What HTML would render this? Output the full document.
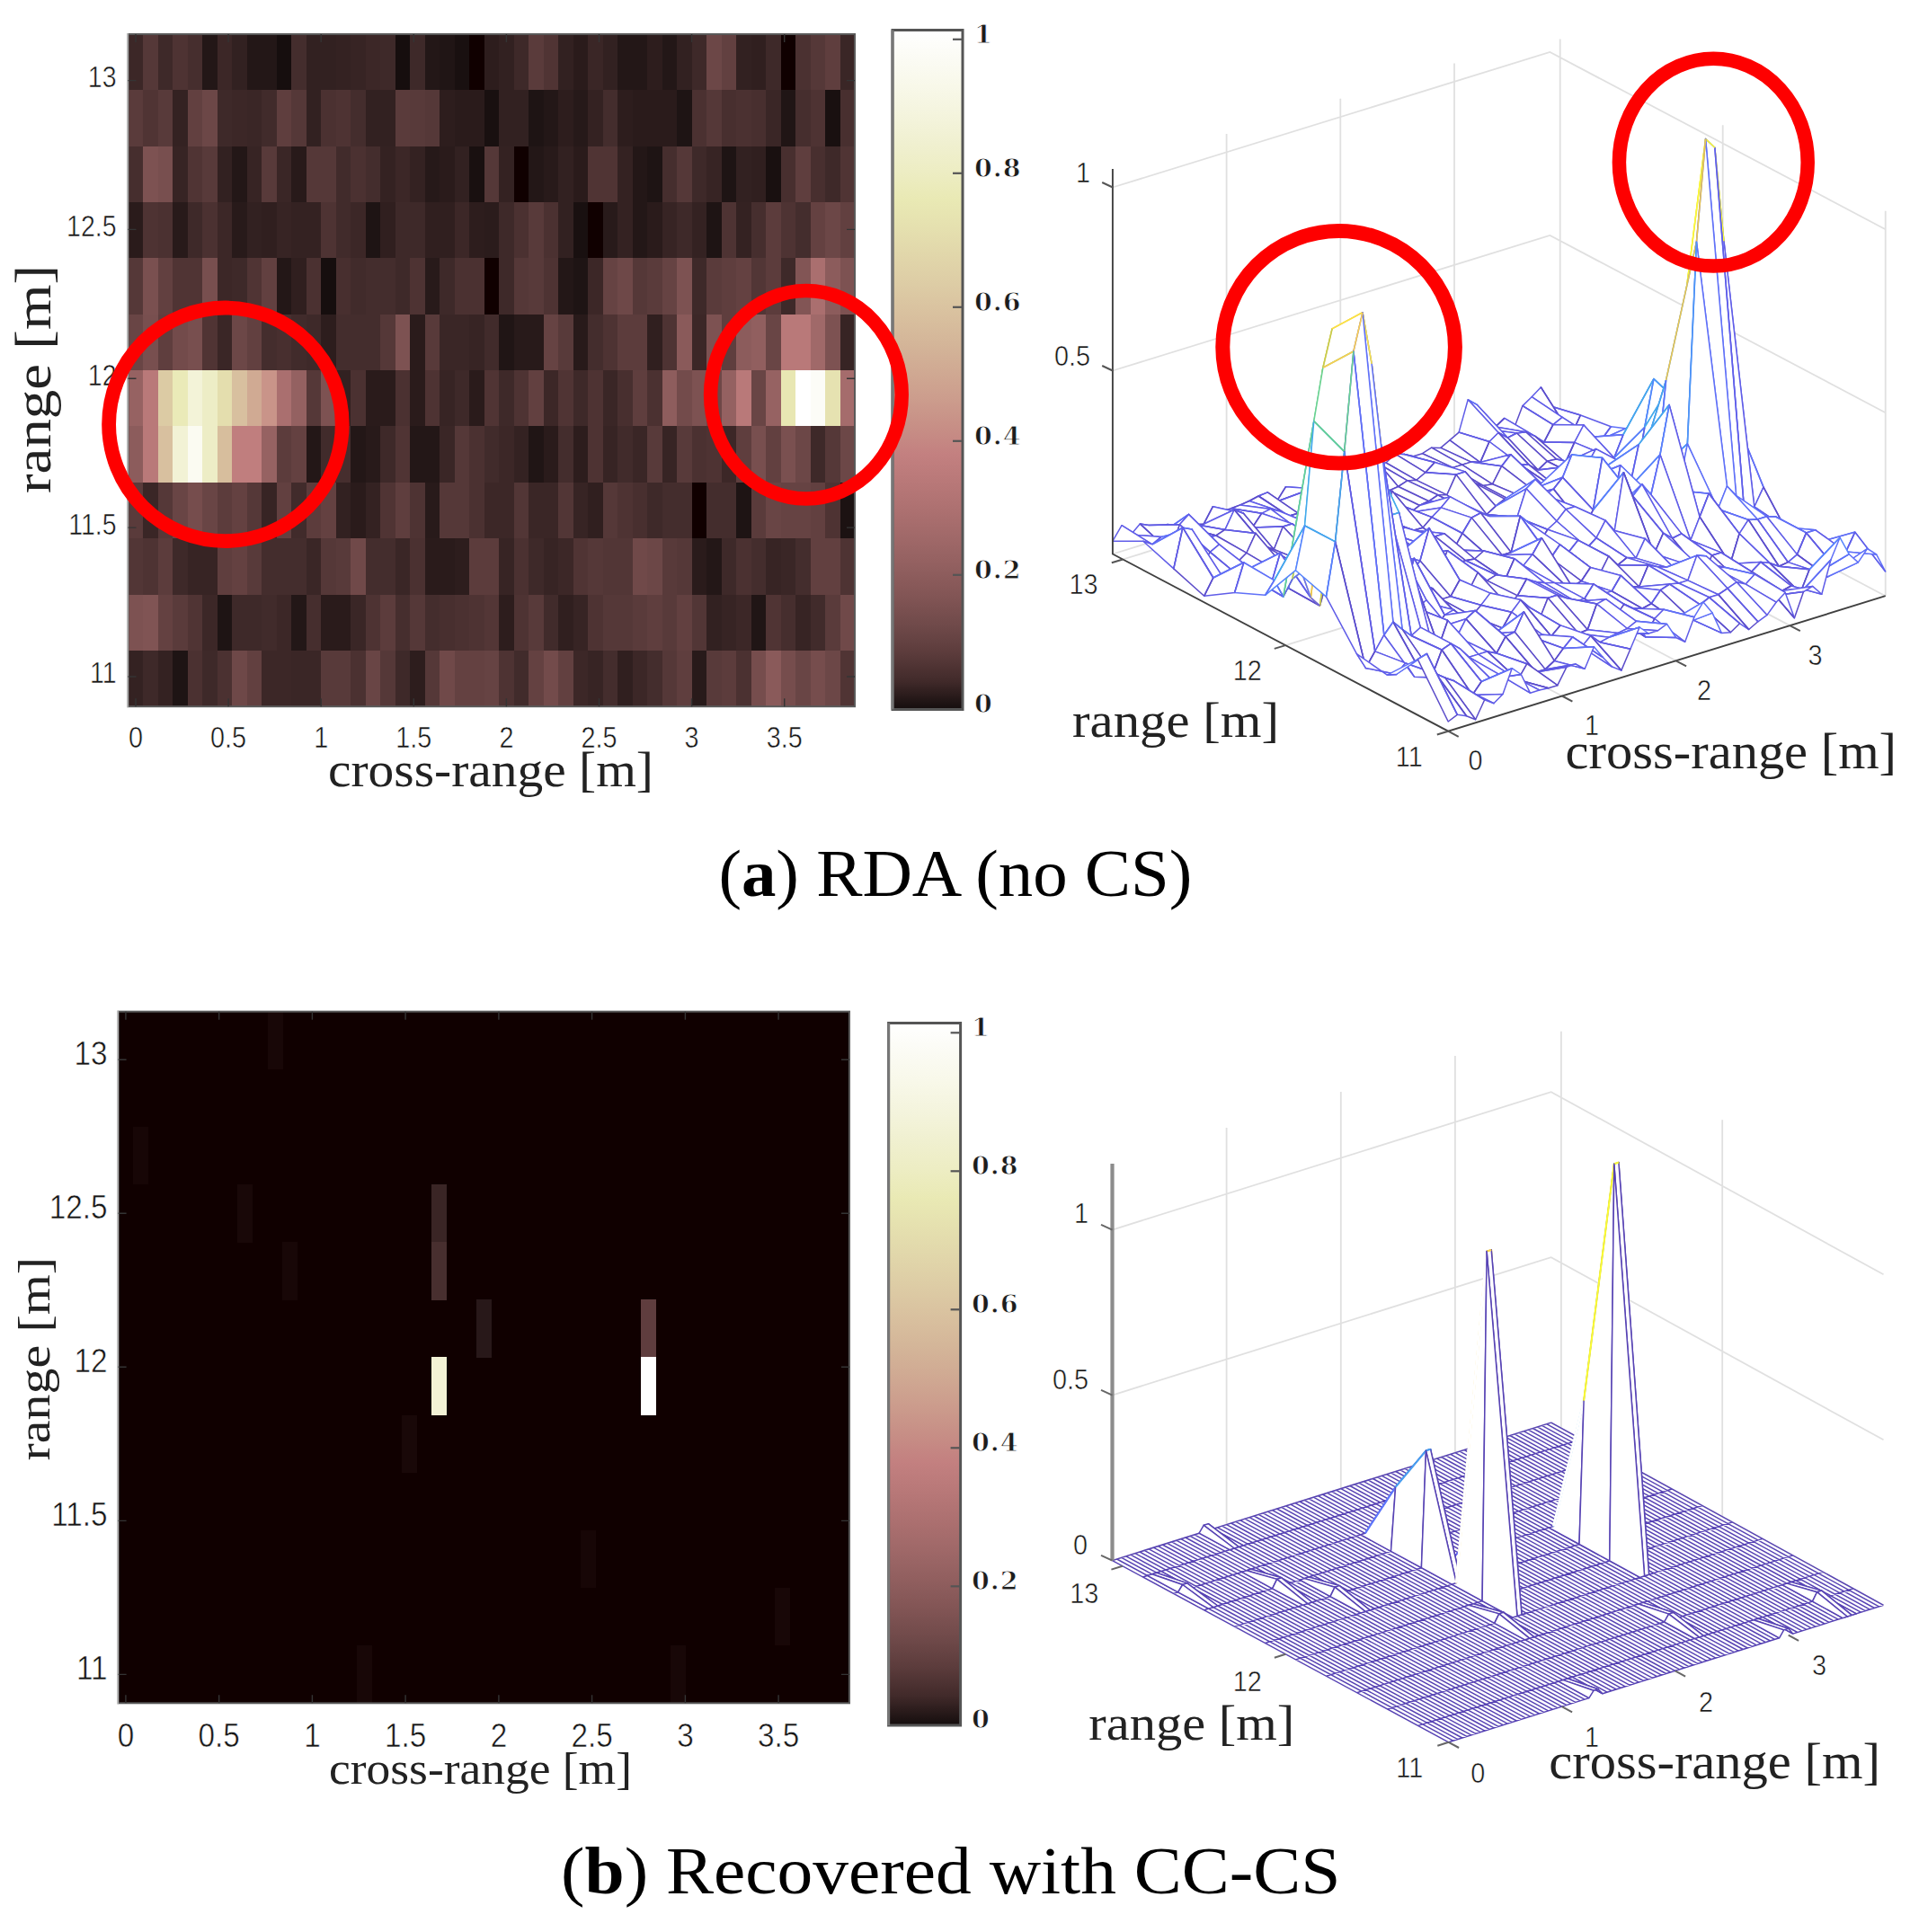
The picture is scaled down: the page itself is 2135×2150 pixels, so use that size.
<!DOCTYPE html>
<html><head><meta charset="utf-8"><title>RDA vs CC-CS</title>
<style>html,body{margin:0;padding:0;background:#fff}svg{display:block}.tk{font-family:"Liberation Sans",sans-serif;fill:#161616;stroke:#fff;stroke-width:.55px}.sf{font-family:"Liberation Serif",serif;fill:#222}.cb{font-family:"DejaVu Serif",serif;font-weight:bold;font-size:28.5px;letter-spacing:1px;fill:#1c1c1c;stroke:#fff;stroke-width:.9px}.m{fill:#fff;stroke-width:1.5;stroke-linejoin:round}.g{stroke:#e0e0e0;stroke-width:1.8;fill:none}</style></head><body>
<svg width="2135" height="2150" viewBox="0 0 2135 2150">
<defs>
<linearGradient id="pg1" x1="0" y1="1" x2="0" y2="0">
<stop offset="0.0000" stop-color="#140d0d"/>
<stop offset="0.0417" stop-color="#412a2a"/>
<stop offset="0.0833" stop-color="#5c3c3c"/>
<stop offset="0.1250" stop-color="#704a4a"/>
<stop offset="0.1667" stop-color="#825555"/>
<stop offset="0.2083" stop-color="#915f5f"/>
<stop offset="0.2500" stop-color="#9f6868"/>
<stop offset="0.2917" stop-color="#ac7070"/>
<stop offset="0.3333" stop-color="#b87878"/>
<stop offset="0.3750" stop-color="#c38080"/>
<stop offset="0.4167" stop-color="#c78f86"/>
<stop offset="0.4583" stop-color="#cc9d8d"/>
<stop offset="0.5000" stop-color="#d0aa93"/>
<stop offset="0.5417" stop-color="#d4b699"/>
<stop offset="0.5833" stop-color="#d9c19f"/>
<stop offset="0.6250" stop-color="#ddcca5"/>
<stop offset="0.6667" stop-color="#e1d6aa"/>
<stop offset="0.7083" stop-color="#e5e0af"/>
<stop offset="0.7500" stop-color="#e9e9b4"/>
<stop offset="0.7917" stop-color="#ededc3"/>
<stop offset="0.8333" stop-color="#f0f0d0"/>
<stop offset="0.8750" stop-color="#f4f4dd"/>
<stop offset="0.9167" stop-color="#f8f8e9"/>
<stop offset="0.9583" stop-color="#fbfbf4"/>
<stop offset="1.0000" stop-color="#ffffff"/>
</linearGradient>
<linearGradient id="pg2" x1="0" y1="1" x2="0" y2="0">
<stop offset="0.0000" stop-color="#140d0d"/>
<stop offset="0.0417" stop-color="#412a2a"/>
<stop offset="0.0833" stop-color="#5c3c3c"/>
<stop offset="0.1250" stop-color="#704a4a"/>
<stop offset="0.1667" stop-color="#825555"/>
<stop offset="0.2083" stop-color="#915f5f"/>
<stop offset="0.2500" stop-color="#9f6868"/>
<stop offset="0.2917" stop-color="#ac7070"/>
<stop offset="0.3333" stop-color="#b87878"/>
<stop offset="0.3750" stop-color="#c38080"/>
<stop offset="0.4167" stop-color="#c78f86"/>
<stop offset="0.4583" stop-color="#cc9d8d"/>
<stop offset="0.5000" stop-color="#d0aa93"/>
<stop offset="0.5417" stop-color="#d4b699"/>
<stop offset="0.5833" stop-color="#d9c19f"/>
<stop offset="0.6250" stop-color="#ddcca5"/>
<stop offset="0.6667" stop-color="#e1d6aa"/>
<stop offset="0.7083" stop-color="#e5e0af"/>
<stop offset="0.7500" stop-color="#e9e9b4"/>
<stop offset="0.7917" stop-color="#ededc3"/>
<stop offset="0.8333" stop-color="#f0f0d0"/>
<stop offset="0.8750" stop-color="#f4f4dd"/>
<stop offset="0.9167" stop-color="#f8f8e9"/>
<stop offset="0.9583" stop-color="#fbfbf4"/>
<stop offset="1.0000" stop-color="#ffffff"/>
</linearGradient>
</defs>
<rect width="2135" height="2150" fill="#fff"/>
<g shape-rendering="crispEdges">
<rect x="142.50" y="38.00" width="16.80" height="62.65" fill="#3c2727"/>
<rect x="159.00" y="38.00" width="16.80" height="62.65" fill="#553838"/>
<rect x="175.50" y="38.00" width="16.80" height="62.65" fill="#3e2929"/>
<rect x="192.00" y="38.00" width="16.80" height="62.65" fill="#4e3333"/>
<rect x="208.50" y="38.00" width="16.80" height="62.65" fill="#462e2e"/>
<rect x="225.00" y="38.00" width="16.80" height="62.65" fill="#231717"/>
<rect x="241.50" y="38.00" width="16.80" height="62.65" fill="#3c2727"/>
<rect x="258.00" y="38.00" width="16.80" height="62.65" fill="#322121"/>
<rect x="274.50" y="38.00" width="16.80" height="62.65" fill="#231717"/>
<rect x="291.00" y="38.00" width="16.80" height="62.65" fill="#231717"/>
<rect x="307.50" y="38.00" width="16.80" height="62.65" fill="#160e0e"/>
<rect x="324.00" y="38.00" width="16.80" height="62.65" fill="#442d2d"/>
<rect x="340.50" y="38.00" width="16.80" height="62.65" fill="#322121"/>
<rect x="357.00" y="38.00" width="16.80" height="62.65" fill="#322121"/>
<rect x="373.50" y="38.00" width="16.80" height="62.65" fill="#342222"/>
<rect x="390.00" y="38.00" width="16.80" height="62.65" fill="#372424"/>
<rect x="406.50" y="38.00" width="16.80" height="62.65" fill="#3c2727"/>
<rect x="423.00" y="38.00" width="16.80" height="62.65" fill="#3e2929"/>
<rect x="439.50" y="38.00" width="16.80" height="62.65" fill="#160e0e"/>
<rect x="456.00" y="38.00" width="16.80" height="62.65" fill="#3e2929"/>
<rect x="472.50" y="38.00" width="16.80" height="62.65" fill="#231717"/>
<rect x="489.00" y="38.00" width="16.80" height="62.65" fill="#201515"/>
<rect x="505.50" y="38.00" width="16.80" height="62.65" fill="#191010"/>
<rect x="522.00" y="38.00" width="16.80" height="62.65" fill="#100000"/>
<rect x="538.50" y="38.00" width="16.80" height="62.65" fill="#2d1d1d"/>
<rect x="555.00" y="38.00" width="16.80" height="62.65" fill="#322121"/>
<rect x="571.50" y="38.00" width="16.80" height="62.65" fill="#3e2929"/>
<rect x="588.00" y="38.00" width="16.80" height="62.65" fill="#5a3b3b"/>
<rect x="604.50" y="38.00" width="16.80" height="62.65" fill="#503434"/>
<rect x="621.00" y="38.00" width="16.80" height="62.65" fill="#322121"/>
<rect x="637.50" y="38.00" width="16.80" height="62.65" fill="#2a1b1b"/>
<rect x="654.00" y="38.00" width="16.80" height="62.65" fill="#3a2626"/>
<rect x="670.50" y="38.00" width="16.80" height="62.65" fill="#322121"/>
<rect x="687.00" y="38.00" width="16.80" height="62.65" fill="#231717"/>
<rect x="703.50" y="38.00" width="16.80" height="62.65" fill="#231717"/>
<rect x="720.00" y="38.00" width="16.80" height="62.65" fill="#2d1d1d"/>
<rect x="736.50" y="38.00" width="16.80" height="62.65" fill="#231717"/>
<rect x="753.00" y="38.00" width="16.80" height="62.65" fill="#322121"/>
<rect x="769.50" y="38.00" width="16.80" height="62.65" fill="#3e2929"/>
<rect x="786.00" y="38.00" width="16.80" height="62.65" fill="#6c4747"/>
<rect x="802.50" y="38.00" width="16.80" height="62.65" fill="#624040"/>
<rect x="819.00" y="38.00" width="16.80" height="62.65" fill="#322121"/>
<rect x="835.50" y="38.00" width="16.80" height="62.65" fill="#301f1f"/>
<rect x="852.00" y="38.00" width="16.80" height="62.65" fill="#3e2929"/>
<rect x="868.50" y="38.00" width="16.80" height="62.65" fill="#100000"/>
<rect x="885.00" y="38.00" width="16.80" height="62.65" fill="#4b3131"/>
<rect x="901.50" y="38.00" width="16.80" height="62.65" fill="#553838"/>
<rect x="918.00" y="38.00" width="16.80" height="62.65" fill="#5f3e3e"/>
<rect x="934.50" y="38.00" width="16.80" height="62.65" fill="#3a2626"/>
<rect x="142.50" y="100.35" width="16.80" height="62.65" fill="#5a3b3b"/>
<rect x="159.00" y="100.35" width="16.80" height="62.65" fill="#503434"/>
<rect x="175.50" y="100.35" width="16.80" height="62.65" fill="#583a3a"/>
<rect x="192.00" y="100.35" width="16.80" height="62.65" fill="#342222"/>
<rect x="208.50" y="100.35" width="16.80" height="62.65" fill="#624040"/>
<rect x="225.00" y="100.35" width="16.80" height="62.65" fill="#6c4747"/>
<rect x="241.50" y="100.35" width="16.80" height="62.65" fill="#3e2929"/>
<rect x="258.00" y="100.35" width="16.80" height="62.65" fill="#3c2727"/>
<rect x="274.50" y="100.35" width="16.80" height="62.65" fill="#3a2626"/>
<rect x="291.00" y="100.35" width="16.80" height="62.65" fill="#412b2b"/>
<rect x="307.50" y="100.35" width="16.80" height="62.65" fill="#5f3e3e"/>
<rect x="324.00" y="100.35" width="16.80" height="62.65" fill="#553838"/>
<rect x="340.50" y="100.35" width="16.80" height="62.65" fill="#322121"/>
<rect x="357.00" y="100.35" width="16.80" height="62.65" fill="#4b3131"/>
<rect x="373.50" y="100.35" width="16.80" height="62.65" fill="#4e3333"/>
<rect x="390.00" y="100.35" width="16.80" height="62.65" fill="#442d2d"/>
<rect x="406.50" y="100.35" width="16.80" height="62.65" fill="#322121"/>
<rect x="423.00" y="100.35" width="16.80" height="62.65" fill="#322121"/>
<rect x="439.50" y="100.35" width="16.80" height="62.65" fill="#5a3b3b"/>
<rect x="456.00" y="100.35" width="16.80" height="62.65" fill="#583a3a"/>
<rect x="472.50" y="100.35" width="16.80" height="62.65" fill="#553838"/>
<rect x="489.00" y="100.35" width="16.80" height="62.65" fill="#2d1d1d"/>
<rect x="505.50" y="100.35" width="16.80" height="62.65" fill="#2a1b1b"/>
<rect x="522.00" y="100.35" width="16.80" height="62.65" fill="#2a1b1b"/>
<rect x="538.50" y="100.35" width="16.80" height="62.65" fill="#191010"/>
<rect x="555.00" y="100.35" width="16.80" height="62.65" fill="#322121"/>
<rect x="571.50" y="100.35" width="16.80" height="62.65" fill="#322121"/>
<rect x="588.00" y="100.35" width="16.80" height="62.65" fill="#1e1414"/>
<rect x="604.50" y="100.35" width="16.80" height="62.65" fill="#231717"/>
<rect x="621.00" y="100.35" width="16.80" height="62.65" fill="#2d1d1d"/>
<rect x="637.50" y="100.35" width="16.80" height="62.65" fill="#261919"/>
<rect x="654.00" y="100.35" width="16.80" height="62.65" fill="#342222"/>
<rect x="670.50" y="100.35" width="16.80" height="62.65" fill="#442d2d"/>
<rect x="687.00" y="100.35" width="16.80" height="62.65" fill="#2d1d1d"/>
<rect x="703.50" y="100.35" width="16.80" height="62.65" fill="#2a1b1b"/>
<rect x="720.00" y="100.35" width="16.80" height="62.65" fill="#2a1b1b"/>
<rect x="736.50" y="100.35" width="16.80" height="62.65" fill="#2a1b1b"/>
<rect x="753.00" y="100.35" width="16.80" height="62.65" fill="#1e1414"/>
<rect x="769.50" y="100.35" width="16.80" height="62.65" fill="#4b3131"/>
<rect x="786.00" y="100.35" width="16.80" height="62.65" fill="#553838"/>
<rect x="802.50" y="100.35" width="16.80" height="62.65" fill="#482f2f"/>
<rect x="819.00" y="100.35" width="16.80" height="62.65" fill="#4b3131"/>
<rect x="835.50" y="100.35" width="16.80" height="62.65" fill="#482f2f"/>
<rect x="852.00" y="100.35" width="16.80" height="62.65" fill="#3a2626"/>
<rect x="868.50" y="100.35" width="16.80" height="62.65" fill="#201515"/>
<rect x="885.00" y="100.35" width="16.80" height="62.65" fill="#462e2e"/>
<rect x="901.50" y="100.35" width="16.80" height="62.65" fill="#4e3333"/>
<rect x="918.00" y="100.35" width="16.80" height="62.65" fill="#191010"/>
<rect x="934.50" y="100.35" width="16.80" height="62.65" fill="#482f2f"/>
<rect x="142.50" y="162.70" width="16.80" height="62.65" fill="#462e2e"/>
<rect x="159.00" y="162.70" width="16.80" height="62.65" fill="#7d5252"/>
<rect x="175.50" y="162.70" width="16.80" height="62.65" fill="#784f4f"/>
<rect x="192.00" y="162.70" width="16.80" height="62.65" fill="#372424"/>
<rect x="208.50" y="162.70" width="16.80" height="62.65" fill="#503434"/>
<rect x="225.00" y="162.70" width="16.80" height="62.65" fill="#583a3a"/>
<rect x="241.50" y="162.70" width="16.80" height="62.65" fill="#322121"/>
<rect x="258.00" y="162.70" width="16.80" height="62.65" fill="#231717"/>
<rect x="274.50" y="162.70" width="16.80" height="62.65" fill="#372424"/>
<rect x="291.00" y="162.70" width="16.80" height="62.65" fill="#583a3a"/>
<rect x="307.50" y="162.70" width="16.80" height="62.65" fill="#3a2626"/>
<rect x="324.00" y="162.70" width="16.80" height="62.65" fill="#281a1a"/>
<rect x="340.50" y="162.70" width="16.80" height="62.65" fill="#553838"/>
<rect x="357.00" y="162.70" width="16.80" height="62.65" fill="#553838"/>
<rect x="373.50" y="162.70" width="16.80" height="62.65" fill="#412b2b"/>
<rect x="390.00" y="162.70" width="16.80" height="62.65" fill="#4b3131"/>
<rect x="406.50" y="162.70" width="16.80" height="62.65" fill="#442d2d"/>
<rect x="423.00" y="162.70" width="16.80" height="62.65" fill="#342222"/>
<rect x="439.50" y="162.70" width="16.80" height="62.65" fill="#3c2727"/>
<rect x="456.00" y="162.70" width="16.80" height="62.65" fill="#342222"/>
<rect x="472.50" y="162.70" width="16.80" height="62.65" fill="#261919"/>
<rect x="489.00" y="162.70" width="16.80" height="62.65" fill="#2a1b1b"/>
<rect x="505.50" y="162.70" width="16.80" height="62.65" fill="#322121"/>
<rect x="522.00" y="162.70" width="16.80" height="62.65" fill="#191010"/>
<rect x="538.50" y="162.70" width="16.80" height="62.65" fill="#553838"/>
<rect x="555.00" y="162.70" width="16.80" height="62.65" fill="#342222"/>
<rect x="571.50" y="162.70" width="16.80" height="62.65" fill="#100000"/>
<rect x="588.00" y="162.70" width="16.80" height="62.65" fill="#231717"/>
<rect x="604.50" y="162.70" width="16.80" height="62.65" fill="#281a1a"/>
<rect x="621.00" y="162.70" width="16.80" height="62.65" fill="#322121"/>
<rect x="637.50" y="162.70" width="16.80" height="62.65" fill="#2a1b1b"/>
<rect x="654.00" y="162.70" width="16.80" height="62.65" fill="#503434"/>
<rect x="670.50" y="162.70" width="16.80" height="62.65" fill="#503434"/>
<rect x="687.00" y="162.70" width="16.80" height="62.65" fill="#342222"/>
<rect x="703.50" y="162.70" width="16.80" height="62.65" fill="#231717"/>
<rect x="720.00" y="162.70" width="16.80" height="62.65" fill="#1e1414"/>
<rect x="736.50" y="162.70" width="16.80" height="62.65" fill="#462e2e"/>
<rect x="753.00" y="162.70" width="16.80" height="62.65" fill="#553838"/>
<rect x="769.50" y="162.70" width="16.80" height="62.65" fill="#3e2929"/>
<rect x="786.00" y="162.70" width="16.80" height="62.65" fill="#372424"/>
<rect x="802.50" y="162.70" width="16.80" height="62.65" fill="#1e1414"/>
<rect x="819.00" y="162.70" width="16.80" height="62.65" fill="#322121"/>
<rect x="835.50" y="162.70" width="16.80" height="62.65" fill="#301f1f"/>
<rect x="852.00" y="162.70" width="16.80" height="62.65" fill="#191010"/>
<rect x="868.50" y="162.70" width="16.80" height="62.65" fill="#482f2f"/>
<rect x="885.00" y="162.70" width="16.80" height="62.65" fill="#5f3e3e"/>
<rect x="901.50" y="162.70" width="16.80" height="62.65" fill="#482f2f"/>
<rect x="918.00" y="162.70" width="16.80" height="62.65" fill="#3e2929"/>
<rect x="934.50" y="162.70" width="16.80" height="62.65" fill="#503434"/>
<rect x="142.50" y="225.05" width="16.80" height="62.65" fill="#2a1b1b"/>
<rect x="159.00" y="225.05" width="16.80" height="62.65" fill="#4e3333"/>
<rect x="175.50" y="225.05" width="16.80" height="62.65" fill="#4b3131"/>
<rect x="192.00" y="225.05" width="16.80" height="62.65" fill="#281a1a"/>
<rect x="208.50" y="225.05" width="16.80" height="62.65" fill="#3e2929"/>
<rect x="225.00" y="225.05" width="16.80" height="62.65" fill="#4b3131"/>
<rect x="241.50" y="225.05" width="16.80" height="62.65" fill="#3c2727"/>
<rect x="258.00" y="225.05" width="16.80" height="62.65" fill="#281a1a"/>
<rect x="274.50" y="225.05" width="16.80" height="62.65" fill="#322121"/>
<rect x="291.00" y="225.05" width="16.80" height="62.65" fill="#301f1f"/>
<rect x="307.50" y="225.05" width="16.80" height="62.65" fill="#372424"/>
<rect x="324.00" y="225.05" width="16.80" height="62.65" fill="#342222"/>
<rect x="340.50" y="225.05" width="16.80" height="62.65" fill="#342222"/>
<rect x="357.00" y="225.05" width="16.80" height="62.65" fill="#4e3333"/>
<rect x="373.50" y="225.05" width="16.80" height="62.65" fill="#412b2b"/>
<rect x="390.00" y="225.05" width="16.80" height="62.65" fill="#3c2727"/>
<rect x="406.50" y="225.05" width="16.80" height="62.65" fill="#1e1414"/>
<rect x="423.00" y="225.05" width="16.80" height="62.65" fill="#301f1f"/>
<rect x="439.50" y="225.05" width="16.80" height="62.65" fill="#3e2929"/>
<rect x="456.00" y="225.05" width="16.80" height="62.65" fill="#3e2929"/>
<rect x="472.50" y="225.05" width="16.80" height="62.65" fill="#301f1f"/>
<rect x="489.00" y="225.05" width="16.80" height="62.65" fill="#301f1f"/>
<rect x="505.50" y="225.05" width="16.80" height="62.65" fill="#3c2727"/>
<rect x="522.00" y="225.05" width="16.80" height="62.65" fill="#2d1d1d"/>
<rect x="538.50" y="225.05" width="16.80" height="62.65" fill="#2b1c1c"/>
<rect x="555.00" y="225.05" width="16.80" height="62.65" fill="#3e2929"/>
<rect x="571.50" y="225.05" width="16.80" height="62.65" fill="#4b3131"/>
<rect x="588.00" y="225.05" width="16.80" height="62.65" fill="#583a3a"/>
<rect x="604.50" y="225.05" width="16.80" height="62.65" fill="#4b3131"/>
<rect x="621.00" y="225.05" width="16.80" height="62.65" fill="#322121"/>
<rect x="637.50" y="225.05" width="16.80" height="62.65" fill="#191010"/>
<rect x="654.00" y="225.05" width="16.80" height="62.65" fill="#100000"/>
<rect x="670.50" y="225.05" width="16.80" height="62.65" fill="#281a1a"/>
<rect x="687.00" y="225.05" width="16.80" height="62.65" fill="#342222"/>
<rect x="703.50" y="225.05" width="16.80" height="62.65" fill="#231717"/>
<rect x="720.00" y="225.05" width="16.80" height="62.65" fill="#2a1b1b"/>
<rect x="736.50" y="225.05" width="16.80" height="62.65" fill="#372424"/>
<rect x="753.00" y="225.05" width="16.80" height="62.65" fill="#3e2929"/>
<rect x="769.50" y="225.05" width="16.80" height="62.65" fill="#342222"/>
<rect x="786.00" y="225.05" width="16.80" height="62.65" fill="#1e1414"/>
<rect x="802.50" y="225.05" width="16.80" height="62.65" fill="#4e3333"/>
<rect x="819.00" y="225.05" width="16.80" height="62.65" fill="#342222"/>
<rect x="835.50" y="225.05" width="16.80" height="62.65" fill="#462e2e"/>
<rect x="852.00" y="225.05" width="16.80" height="62.65" fill="#5c3c3c"/>
<rect x="868.50" y="225.05" width="16.80" height="62.65" fill="#4e3333"/>
<rect x="885.00" y="225.05" width="16.80" height="62.65" fill="#442d2d"/>
<rect x="901.50" y="225.05" width="16.80" height="62.65" fill="#644141"/>
<rect x="918.00" y="225.05" width="16.80" height="62.65" fill="#6c4747"/>
<rect x="934.50" y="225.05" width="16.80" height="62.65" fill="#624040"/>
<rect x="142.50" y="287.40" width="16.80" height="62.65" fill="#553838"/>
<rect x="159.00" y="287.40" width="16.80" height="62.65" fill="#7a5050"/>
<rect x="175.50" y="287.40" width="16.80" height="62.65" fill="#624040"/>
<rect x="192.00" y="287.40" width="16.80" height="62.65" fill="#503434"/>
<rect x="208.50" y="287.40" width="16.80" height="62.65" fill="#503434"/>
<rect x="225.00" y="287.40" width="16.80" height="62.65" fill="#784f4f"/>
<rect x="241.50" y="287.40" width="16.80" height="62.65" fill="#3c2727"/>
<rect x="258.00" y="287.40" width="16.80" height="62.65" fill="#3e2929"/>
<rect x="274.50" y="287.40" width="16.80" height="62.65" fill="#503434"/>
<rect x="291.00" y="287.40" width="16.80" height="62.65" fill="#624040"/>
<rect x="307.50" y="287.40" width="16.80" height="62.65" fill="#231717"/>
<rect x="324.00" y="287.40" width="16.80" height="62.65" fill="#301f1f"/>
<rect x="340.50" y="287.40" width="16.80" height="62.65" fill="#4b3131"/>
<rect x="357.00" y="287.40" width="16.80" height="62.65" fill="#160e0e"/>
<rect x="373.50" y="287.40" width="16.80" height="62.65" fill="#482f2f"/>
<rect x="390.00" y="287.40" width="16.80" height="62.65" fill="#412b2b"/>
<rect x="406.50" y="287.40" width="16.80" height="62.65" fill="#442d2d"/>
<rect x="423.00" y="287.40" width="16.80" height="62.65" fill="#442d2d"/>
<rect x="439.50" y="287.40" width="16.80" height="62.65" fill="#3e2929"/>
<rect x="456.00" y="287.40" width="16.80" height="62.65" fill="#4e3333"/>
<rect x="472.50" y="287.40" width="16.80" height="62.65" fill="#281a1a"/>
<rect x="489.00" y="287.40" width="16.80" height="62.65" fill="#3e2929"/>
<rect x="505.50" y="287.40" width="16.80" height="62.65" fill="#4b3131"/>
<rect x="522.00" y="287.40" width="16.80" height="62.65" fill="#4b3131"/>
<rect x="538.50" y="287.40" width="16.80" height="62.65" fill="#100000"/>
<rect x="555.00" y="287.40" width="16.80" height="62.65" fill="#3e2929"/>
<rect x="571.50" y="287.40" width="16.80" height="62.65" fill="#553838"/>
<rect x="588.00" y="287.40" width="16.80" height="62.65" fill="#583a3a"/>
<rect x="604.50" y="287.40" width="16.80" height="62.65" fill="#4e3333"/>
<rect x="621.00" y="287.40" width="16.80" height="62.65" fill="#231717"/>
<rect x="637.50" y="287.40" width="16.80" height="62.65" fill="#1e1414"/>
<rect x="654.00" y="287.40" width="16.80" height="62.65" fill="#3c2727"/>
<rect x="670.50" y="287.40" width="16.80" height="62.65" fill="#664343"/>
<rect x="687.00" y="287.40" width="16.80" height="62.65" fill="#6e4848"/>
<rect x="703.50" y="287.40" width="16.80" height="62.65" fill="#553838"/>
<rect x="720.00" y="287.40" width="16.80" height="62.65" fill="#5a3b3b"/>
<rect x="736.50" y="287.40" width="16.80" height="62.65" fill="#664343"/>
<rect x="753.00" y="287.40" width="16.80" height="62.65" fill="#7d5252"/>
<rect x="769.50" y="287.40" width="16.80" height="62.65" fill="#3e2929"/>
<rect x="786.00" y="287.40" width="16.80" height="62.65" fill="#5a3b3b"/>
<rect x="802.50" y="287.40" width="16.80" height="62.65" fill="#5f3e3e"/>
<rect x="819.00" y="287.40" width="16.80" height="62.65" fill="#644141"/>
<rect x="835.50" y="287.40" width="16.80" height="62.65" fill="#523636"/>
<rect x="852.00" y="287.40" width="16.80" height="62.65" fill="#5c3c3c"/>
<rect x="868.50" y="287.40" width="16.80" height="62.65" fill="#3e2929"/>
<rect x="885.00" y="287.40" width="16.80" height="62.65" fill="#825555"/>
<rect x="901.50" y="287.40" width="16.80" height="62.65" fill="#aa6f6f"/>
<rect x="918.00" y="287.40" width="16.80" height="62.65" fill="#8c5c5c"/>
<rect x="934.50" y="287.40" width="16.80" height="62.65" fill="#7d5252"/>
<rect x="142.50" y="349.75" width="16.80" height="62.65" fill="#694545"/>
<rect x="159.00" y="349.75" width="16.80" height="62.65" fill="#784f4f"/>
<rect x="175.50" y="349.75" width="16.80" height="62.65" fill="#5f3e3e"/>
<rect x="192.00" y="349.75" width="16.80" height="62.65" fill="#734b4b"/>
<rect x="208.50" y="349.75" width="16.80" height="62.65" fill="#784f4f"/>
<rect x="225.00" y="349.75" width="16.80" height="62.65" fill="#503434"/>
<rect x="241.50" y="349.75" width="16.80" height="62.65" fill="#3a2626"/>
<rect x="258.00" y="349.75" width="16.80" height="62.65" fill="#6c4747"/>
<rect x="274.50" y="349.75" width="16.80" height="62.65" fill="#624040"/>
<rect x="291.00" y="349.75" width="16.80" height="62.65" fill="#442d2d"/>
<rect x="307.50" y="349.75" width="16.80" height="62.65" fill="#482f2f"/>
<rect x="324.00" y="349.75" width="16.80" height="62.65" fill="#412b2b"/>
<rect x="340.50" y="349.75" width="16.80" height="62.65" fill="#3e2929"/>
<rect x="357.00" y="349.75" width="16.80" height="62.65" fill="#2d1d1d"/>
<rect x="373.50" y="349.75" width="16.80" height="62.65" fill="#442d2d"/>
<rect x="390.00" y="349.75" width="16.80" height="62.65" fill="#442d2d"/>
<rect x="406.50" y="349.75" width="16.80" height="62.65" fill="#442d2d"/>
<rect x="423.00" y="349.75" width="16.80" height="62.65" fill="#553838"/>
<rect x="439.50" y="349.75" width="16.80" height="62.65" fill="#7d5252"/>
<rect x="456.00" y="349.75" width="16.80" height="62.65" fill="#2a1b1b"/>
<rect x="472.50" y="349.75" width="16.80" height="62.65" fill="#583a3a"/>
<rect x="489.00" y="349.75" width="16.80" height="62.65" fill="#3a2626"/>
<rect x="505.50" y="349.75" width="16.80" height="62.65" fill="#3a2626"/>
<rect x="522.00" y="349.75" width="16.80" height="62.65" fill="#372424"/>
<rect x="538.50" y="349.75" width="16.80" height="62.65" fill="#412b2b"/>
<rect x="555.00" y="349.75" width="16.80" height="62.65" fill="#201515"/>
<rect x="571.50" y="349.75" width="16.80" height="62.65" fill="#281a1a"/>
<rect x="588.00" y="349.75" width="16.80" height="62.65" fill="#281a1a"/>
<rect x="604.50" y="349.75" width="16.80" height="62.65" fill="#664343"/>
<rect x="621.00" y="349.75" width="16.80" height="62.65" fill="#583a3a"/>
<rect x="637.50" y="349.75" width="16.80" height="62.65" fill="#281a1a"/>
<rect x="654.00" y="349.75" width="16.80" height="62.65" fill="#442d2d"/>
<rect x="670.50" y="349.75" width="16.80" height="62.65" fill="#4e3333"/>
<rect x="687.00" y="349.75" width="16.80" height="62.65" fill="#5c3c3c"/>
<rect x="703.50" y="349.75" width="16.80" height="62.65" fill="#5c3c3c"/>
<rect x="720.00" y="349.75" width="16.80" height="62.65" fill="#301f1f"/>
<rect x="736.50" y="349.75" width="16.80" height="62.65" fill="#4e3333"/>
<rect x="753.00" y="349.75" width="16.80" height="62.65" fill="#8a5a5a"/>
<rect x="769.50" y="349.75" width="16.80" height="62.65" fill="#3c2727"/>
<rect x="786.00" y="349.75" width="16.80" height="62.65" fill="#7d5252"/>
<rect x="802.50" y="349.75" width="16.80" height="62.65" fill="#5f3e3e"/>
<rect x="819.00" y="349.75" width="16.80" height="62.65" fill="#8c5c5c"/>
<rect x="835.50" y="349.75" width="16.80" height="62.65" fill="#915f5f"/>
<rect x="852.00" y="349.75" width="16.80" height="62.65" fill="#694545"/>
<rect x="868.50" y="349.75" width="16.80" height="62.65" fill="#b97979"/>
<rect x="885.00" y="349.75" width="16.80" height="62.65" fill="#b97979"/>
<rect x="901.50" y="349.75" width="16.80" height="62.65" fill="#a06969"/>
<rect x="918.00" y="349.75" width="16.80" height="62.65" fill="#7d5252"/>
<rect x="934.50" y="349.75" width="16.80" height="62.65" fill="#372424"/>
<rect x="142.50" y="412.10" width="16.80" height="62.65" fill="#966262"/>
<rect x="159.00" y="412.10" width="16.80" height="62.65" fill="#b97979"/>
<rect x="175.50" y="412.10" width="16.80" height="62.65" fill="#dccba4"/>
<rect x="192.00" y="412.10" width="16.80" height="62.65" fill="#eaeab8"/>
<rect x="208.50" y="412.10" width="16.80" height="62.65" fill="#f3f3d8"/>
<rect x="225.00" y="412.10" width="16.80" height="62.65" fill="#ededc6"/>
<rect x="241.50" y="412.10" width="16.80" height="62.65" fill="#e4deae"/>
<rect x="258.00" y="412.10" width="16.80" height="62.65" fill="#d8c09f"/>
<rect x="274.50" y="412.10" width="16.80" height="62.65" fill="#d0aa93"/>
<rect x="291.00" y="412.10" width="16.80" height="62.65" fill="#c99489"/>
<rect x="307.50" y="412.10" width="16.80" height="62.65" fill="#aa6f6f"/>
<rect x="324.00" y="412.10" width="16.80" height="62.65" fill="#946161"/>
<rect x="340.50" y="412.10" width="16.80" height="62.65" fill="#553838"/>
<rect x="357.00" y="412.10" width="16.80" height="62.65" fill="#7d5252"/>
<rect x="373.50" y="412.10" width="16.80" height="62.65" fill="#322121"/>
<rect x="390.00" y="412.10" width="16.80" height="62.65" fill="#4b3131"/>
<rect x="406.50" y="412.10" width="16.80" height="62.65" fill="#2a1b1b"/>
<rect x="423.00" y="412.10" width="16.80" height="62.65" fill="#2a1b1b"/>
<rect x="439.50" y="412.10" width="16.80" height="62.65" fill="#4b3131"/>
<rect x="456.00" y="412.10" width="16.80" height="62.65" fill="#2a1b1b"/>
<rect x="472.50" y="412.10" width="16.80" height="62.65" fill="#4e3333"/>
<rect x="489.00" y="412.10" width="16.80" height="62.65" fill="#372424"/>
<rect x="505.50" y="412.10" width="16.80" height="62.65" fill="#3e2929"/>
<rect x="522.00" y="412.10" width="16.80" height="62.65" fill="#2a1b1b"/>
<rect x="538.50" y="412.10" width="16.80" height="62.65" fill="#503434"/>
<rect x="555.00" y="412.10" width="16.80" height="62.65" fill="#3e2929"/>
<rect x="571.50" y="412.10" width="16.80" height="62.65" fill="#4e3333"/>
<rect x="588.00" y="412.10" width="16.80" height="62.65" fill="#624040"/>
<rect x="604.50" y="412.10" width="16.80" height="62.65" fill="#3c2727"/>
<rect x="621.00" y="412.10" width="16.80" height="62.65" fill="#503434"/>
<rect x="637.50" y="412.10" width="16.80" height="62.65" fill="#3e2929"/>
<rect x="654.00" y="412.10" width="16.80" height="62.65" fill="#4e3333"/>
<rect x="670.50" y="412.10" width="16.80" height="62.65" fill="#3a2626"/>
<rect x="687.00" y="412.10" width="16.80" height="62.65" fill="#482f2f"/>
<rect x="703.50" y="412.10" width="16.80" height="62.65" fill="#5f3e3e"/>
<rect x="720.00" y="412.10" width="16.80" height="62.65" fill="#4b3131"/>
<rect x="736.50" y="412.10" width="16.80" height="62.65" fill="#8e5d5d"/>
<rect x="753.00" y="412.10" width="16.80" height="62.65" fill="#734b4b"/>
<rect x="769.50" y="412.10" width="16.80" height="62.65" fill="#7d5252"/>
<rect x="786.00" y="412.10" width="16.80" height="62.65" fill="#6e4848"/>
<rect x="802.50" y="412.10" width="16.80" height="62.65" fill="#946161"/>
<rect x="819.00" y="412.10" width="16.80" height="62.65" fill="#b97979"/>
<rect x="835.50" y="412.10" width="16.80" height="62.65" fill="#694545"/>
<rect x="852.00" y="412.10" width="16.80" height="62.65" fill="#966262"/>
<rect x="868.50" y="412.10" width="16.80" height="62.65" fill="#e8e7b3"/>
<rect x="885.00" y="412.10" width="16.80" height="62.65" fill="#ffffff"/>
<rect x="901.50" y="412.10" width="16.80" height="62.65" fill="#fcfcf7"/>
<rect x="918.00" y="412.10" width="16.80" height="62.65" fill="#e6e2b1"/>
<rect x="934.50" y="412.10" width="16.80" height="62.65" fill="#a56c6c"/>
<rect x="142.50" y="474.45" width="16.80" height="62.65" fill="#8c5c5c"/>
<rect x="159.00" y="474.45" width="16.80" height="62.65" fill="#b97979"/>
<rect x="175.50" y="474.45" width="16.80" height="62.65" fill="#d8c09f"/>
<rect x="192.00" y="474.45" width="16.80" height="62.65" fill="#f2f2d5"/>
<rect x="208.50" y="474.45" width="16.80" height="62.65" fill="#fbfbf2"/>
<rect x="225.00" y="474.45" width="16.80" height="62.65" fill="#ededc6"/>
<rect x="241.50" y="474.45" width="16.80" height="62.65" fill="#d7be9d"/>
<rect x="258.00" y="474.45" width="16.80" height="62.65" fill="#c07e7e"/>
<rect x="274.50" y="474.45" width="16.80" height="62.65" fill="#c07e7e"/>
<rect x="291.00" y="474.45" width="16.80" height="62.65" fill="#966262"/>
<rect x="307.50" y="474.45" width="16.80" height="62.65" fill="#5c3c3c"/>
<rect x="324.00" y="474.45" width="16.80" height="62.65" fill="#644141"/>
<rect x="340.50" y="474.45" width="16.80" height="62.65" fill="#231717"/>
<rect x="357.00" y="474.45" width="16.80" height="62.65" fill="#412b2b"/>
<rect x="373.50" y="474.45" width="16.80" height="62.65" fill="#462e2e"/>
<rect x="390.00" y="474.45" width="16.80" height="62.65" fill="#231717"/>
<rect x="406.50" y="474.45" width="16.80" height="62.65" fill="#281a1a"/>
<rect x="423.00" y="474.45" width="16.80" height="62.65" fill="#3e2929"/>
<rect x="439.50" y="474.45" width="16.80" height="62.65" fill="#503434"/>
<rect x="456.00" y="474.45" width="16.80" height="62.65" fill="#231717"/>
<rect x="472.50" y="474.45" width="16.80" height="62.65" fill="#231717"/>
<rect x="489.00" y="474.45" width="16.80" height="62.65" fill="#3a2626"/>
<rect x="505.50" y="474.45" width="16.80" height="62.65" fill="#553838"/>
<rect x="522.00" y="474.45" width="16.80" height="62.65" fill="#4b3131"/>
<rect x="538.50" y="474.45" width="16.80" height="62.65" fill="#412b2b"/>
<rect x="555.00" y="474.45" width="16.80" height="62.65" fill="#3c2727"/>
<rect x="571.50" y="474.45" width="16.80" height="62.65" fill="#342222"/>
<rect x="588.00" y="474.45" width="16.80" height="62.65" fill="#201515"/>
<rect x="604.50" y="474.45" width="16.80" height="62.65" fill="#2a1b1b"/>
<rect x="621.00" y="474.45" width="16.80" height="62.65" fill="#442d2d"/>
<rect x="637.50" y="474.45" width="16.80" height="62.65" fill="#2d1d1d"/>
<rect x="654.00" y="474.45" width="16.80" height="62.65" fill="#4e3333"/>
<rect x="670.50" y="474.45" width="16.80" height="62.65" fill="#372424"/>
<rect x="687.00" y="474.45" width="16.80" height="62.65" fill="#412b2b"/>
<rect x="703.50" y="474.45" width="16.80" height="62.65" fill="#3a2626"/>
<rect x="720.00" y="474.45" width="16.80" height="62.65" fill="#583a3a"/>
<rect x="736.50" y="474.45" width="16.80" height="62.65" fill="#372424"/>
<rect x="753.00" y="474.45" width="16.80" height="62.65" fill="#583a3a"/>
<rect x="769.50" y="474.45" width="16.80" height="62.65" fill="#4b3131"/>
<rect x="786.00" y="474.45" width="16.80" height="62.65" fill="#4e3333"/>
<rect x="802.50" y="474.45" width="16.80" height="62.65" fill="#3c2727"/>
<rect x="819.00" y="474.45" width="16.80" height="62.65" fill="#5f3e3e"/>
<rect x="835.50" y="474.45" width="16.80" height="62.65" fill="#784f4f"/>
<rect x="852.00" y="474.45" width="16.80" height="62.65" fill="#624040"/>
<rect x="868.50" y="474.45" width="16.80" height="62.65" fill="#7a5050"/>
<rect x="885.00" y="474.45" width="16.80" height="62.65" fill="#6c4747"/>
<rect x="901.50" y="474.45" width="16.80" height="62.65" fill="#3e2929"/>
<rect x="918.00" y="474.45" width="16.80" height="62.65" fill="#553838"/>
<rect x="934.50" y="474.45" width="16.80" height="62.65" fill="#6c4747"/>
<rect x="142.50" y="536.80" width="16.80" height="62.65" fill="#5a3b3b"/>
<rect x="159.00" y="536.80" width="16.80" height="62.65" fill="#3a2626"/>
<rect x="175.50" y="536.80" width="16.80" height="62.65" fill="#553838"/>
<rect x="192.00" y="536.80" width="16.80" height="62.65" fill="#694545"/>
<rect x="208.50" y="536.80" width="16.80" height="62.65" fill="#764d4d"/>
<rect x="225.00" y="536.80" width="16.80" height="62.65" fill="#694545"/>
<rect x="241.50" y="536.80" width="16.80" height="62.65" fill="#5c3c3c"/>
<rect x="258.00" y="536.80" width="16.80" height="62.65" fill="#644141"/>
<rect x="274.50" y="536.80" width="16.80" height="62.65" fill="#553838"/>
<rect x="291.00" y="536.80" width="16.80" height="62.65" fill="#372424"/>
<rect x="307.50" y="536.80" width="16.80" height="62.65" fill="#624040"/>
<rect x="324.00" y="536.80" width="16.80" height="62.65" fill="#412b2b"/>
<rect x="340.50" y="536.80" width="16.80" height="62.65" fill="#5c3c3c"/>
<rect x="357.00" y="536.80" width="16.80" height="62.65" fill="#644141"/>
<rect x="373.50" y="536.80" width="16.80" height="62.65" fill="#322121"/>
<rect x="390.00" y="536.80" width="16.80" height="62.65" fill="#2a1b1b"/>
<rect x="406.50" y="536.80" width="16.80" height="62.65" fill="#342222"/>
<rect x="423.00" y="536.80" width="16.80" height="62.65" fill="#503434"/>
<rect x="439.50" y="536.80" width="16.80" height="62.65" fill="#5f3e3e"/>
<rect x="456.00" y="536.80" width="16.80" height="62.65" fill="#4e3333"/>
<rect x="472.50" y="536.80" width="16.80" height="62.65" fill="#281a1a"/>
<rect x="489.00" y="536.80" width="16.80" height="62.65" fill="#553838"/>
<rect x="505.50" y="536.80" width="16.80" height="62.65" fill="#553838"/>
<rect x="522.00" y="536.80" width="16.80" height="62.65" fill="#4b3131"/>
<rect x="538.50" y="536.80" width="16.80" height="62.65" fill="#3c2727"/>
<rect x="555.00" y="536.80" width="16.80" height="62.65" fill="#3c2727"/>
<rect x="571.50" y="536.80" width="16.80" height="62.65" fill="#523636"/>
<rect x="588.00" y="536.80" width="16.80" height="62.65" fill="#3a2626"/>
<rect x="604.50" y="536.80" width="16.80" height="62.65" fill="#3a2626"/>
<rect x="621.00" y="536.80" width="16.80" height="62.65" fill="#523636"/>
<rect x="637.50" y="536.80" width="16.80" height="62.65" fill="#372424"/>
<rect x="654.00" y="536.80" width="16.80" height="62.65" fill="#301f1f"/>
<rect x="670.50" y="536.80" width="16.80" height="62.65" fill="#553838"/>
<rect x="687.00" y="536.80" width="16.80" height="62.65" fill="#4e3333"/>
<rect x="703.50" y="536.80" width="16.80" height="62.65" fill="#482f2f"/>
<rect x="720.00" y="536.80" width="16.80" height="62.65" fill="#3e2929"/>
<rect x="736.50" y="536.80" width="16.80" height="62.65" fill="#442d2d"/>
<rect x="753.00" y="536.80" width="16.80" height="62.65" fill="#442d2d"/>
<rect x="769.50" y="536.80" width="16.80" height="62.65" fill="#100000"/>
<rect x="786.00" y="536.80" width="16.80" height="62.65" fill="#442d2d"/>
<rect x="802.50" y="536.80" width="16.80" height="62.65" fill="#442d2d"/>
<rect x="819.00" y="536.80" width="16.80" height="62.65" fill="#1e1414"/>
<rect x="835.50" y="536.80" width="16.80" height="62.65" fill="#5a3b3b"/>
<rect x="852.00" y="536.80" width="16.80" height="62.65" fill="#694545"/>
<rect x="868.50" y="536.80" width="16.80" height="62.65" fill="#664343"/>
<rect x="885.00" y="536.80" width="16.80" height="62.65" fill="#664343"/>
<rect x="901.50" y="536.80" width="16.80" height="62.65" fill="#624040"/>
<rect x="918.00" y="536.80" width="16.80" height="62.65" fill="#4e3333"/>
<rect x="934.50" y="536.80" width="16.80" height="62.65" fill="#1c1212"/>
<rect x="142.50" y="599.15" width="16.80" height="62.65" fill="#523636"/>
<rect x="159.00" y="599.15" width="16.80" height="62.65" fill="#4e3333"/>
<rect x="175.50" y="599.15" width="16.80" height="62.65" fill="#5c3c3c"/>
<rect x="192.00" y="599.15" width="16.80" height="62.65" fill="#3e2929"/>
<rect x="208.50" y="599.15" width="16.80" height="62.65" fill="#372424"/>
<rect x="225.00" y="599.15" width="16.80" height="62.65" fill="#372424"/>
<rect x="241.50" y="599.15" width="16.80" height="62.65" fill="#5f3e3e"/>
<rect x="258.00" y="599.15" width="16.80" height="62.65" fill="#644141"/>
<rect x="274.50" y="599.15" width="16.80" height="62.65" fill="#583a3a"/>
<rect x="291.00" y="599.15" width="16.80" height="62.65" fill="#442d2d"/>
<rect x="307.50" y="599.15" width="16.80" height="62.65" fill="#442d2d"/>
<rect x="324.00" y="599.15" width="16.80" height="62.65" fill="#442d2d"/>
<rect x="340.50" y="599.15" width="16.80" height="62.65" fill="#3a2626"/>
<rect x="357.00" y="599.15" width="16.80" height="62.65" fill="#553838"/>
<rect x="373.50" y="599.15" width="16.80" height="62.65" fill="#583a3a"/>
<rect x="390.00" y="599.15" width="16.80" height="62.65" fill="#704949"/>
<rect x="406.50" y="599.15" width="16.80" height="62.65" fill="#442d2d"/>
<rect x="423.00" y="599.15" width="16.80" height="62.65" fill="#442d2d"/>
<rect x="439.50" y="599.15" width="16.80" height="62.65" fill="#3a2626"/>
<rect x="456.00" y="599.15" width="16.80" height="62.65" fill="#4b3131"/>
<rect x="472.50" y="599.15" width="16.80" height="62.65" fill="#2a1b1b"/>
<rect x="489.00" y="599.15" width="16.80" height="62.65" fill="#2a1b1b"/>
<rect x="505.50" y="599.15" width="16.80" height="62.65" fill="#2d1d1d"/>
<rect x="522.00" y="599.15" width="16.80" height="62.65" fill="#5c3c3c"/>
<rect x="538.50" y="599.15" width="16.80" height="62.65" fill="#5c3c3c"/>
<rect x="555.00" y="599.15" width="16.80" height="62.65" fill="#372424"/>
<rect x="571.50" y="599.15" width="16.80" height="62.65" fill="#4b3131"/>
<rect x="588.00" y="599.15" width="16.80" height="62.65" fill="#3e2929"/>
<rect x="604.50" y="599.15" width="16.80" height="62.65" fill="#372424"/>
<rect x="621.00" y="599.15" width="16.80" height="62.65" fill="#3c2727"/>
<rect x="637.50" y="599.15" width="16.80" height="62.65" fill="#503434"/>
<rect x="654.00" y="599.15" width="16.80" height="62.65" fill="#553838"/>
<rect x="670.50" y="599.15" width="16.80" height="62.65" fill="#523636"/>
<rect x="687.00" y="599.15" width="16.80" height="62.65" fill="#523636"/>
<rect x="703.50" y="599.15" width="16.80" height="62.65" fill="#704949"/>
<rect x="720.00" y="599.15" width="16.80" height="62.65" fill="#6c4747"/>
<rect x="736.50" y="599.15" width="16.80" height="62.65" fill="#583a3a"/>
<rect x="753.00" y="599.15" width="16.80" height="62.65" fill="#553838"/>
<rect x="769.50" y="599.15" width="16.80" height="62.65" fill="#2a1b1b"/>
<rect x="786.00" y="599.15" width="16.80" height="62.65" fill="#231717"/>
<rect x="802.50" y="599.15" width="16.80" height="62.65" fill="#3e2929"/>
<rect x="819.00" y="599.15" width="16.80" height="62.65" fill="#4b3131"/>
<rect x="835.50" y="599.15" width="16.80" height="62.65" fill="#442d2d"/>
<rect x="852.00" y="599.15" width="16.80" height="62.65" fill="#372424"/>
<rect x="868.50" y="599.15" width="16.80" height="62.65" fill="#3a2626"/>
<rect x="885.00" y="599.15" width="16.80" height="62.65" fill="#442d2d"/>
<rect x="901.50" y="599.15" width="16.80" height="62.65" fill="#624040"/>
<rect x="918.00" y="599.15" width="16.80" height="62.65" fill="#624040"/>
<rect x="934.50" y="599.15" width="16.80" height="62.65" fill="#4e3333"/>
<rect x="142.50" y="661.50" width="16.80" height="62.65" fill="#7d5252"/>
<rect x="159.00" y="661.50" width="16.80" height="62.65" fill="#805454"/>
<rect x="175.50" y="661.50" width="16.80" height="62.65" fill="#644141"/>
<rect x="192.00" y="661.50" width="16.80" height="62.65" fill="#5a3b3b"/>
<rect x="208.50" y="661.50" width="16.80" height="62.65" fill="#503434"/>
<rect x="225.00" y="661.50" width="16.80" height="62.65" fill="#3c2727"/>
<rect x="241.50" y="661.50" width="16.80" height="62.65" fill="#1e1414"/>
<rect x="258.00" y="661.50" width="16.80" height="62.65" fill="#3e2929"/>
<rect x="274.50" y="661.50" width="16.80" height="62.65" fill="#3e2929"/>
<rect x="291.00" y="661.50" width="16.80" height="62.65" fill="#412b2b"/>
<rect x="307.50" y="661.50" width="16.80" height="62.65" fill="#3c2727"/>
<rect x="324.00" y="661.50" width="16.80" height="62.65" fill="#231717"/>
<rect x="340.50" y="661.50" width="16.80" height="62.65" fill="#462e2e"/>
<rect x="357.00" y="661.50" width="16.80" height="62.65" fill="#2a1b1b"/>
<rect x="373.50" y="661.50" width="16.80" height="62.65" fill="#2a1b1b"/>
<rect x="390.00" y="661.50" width="16.80" height="62.65" fill="#3a2626"/>
<rect x="406.50" y="661.50" width="16.80" height="62.65" fill="#4e3333"/>
<rect x="423.00" y="661.50" width="16.80" height="62.65" fill="#5c3c3c"/>
<rect x="439.50" y="661.50" width="16.80" height="62.65" fill="#462e2e"/>
<rect x="456.00" y="661.50" width="16.80" height="62.65" fill="#553838"/>
<rect x="472.50" y="661.50" width="16.80" height="62.65" fill="#442d2d"/>
<rect x="489.00" y="661.50" width="16.80" height="62.65" fill="#482f2f"/>
<rect x="505.50" y="661.50" width="16.80" height="62.65" fill="#4b3131"/>
<rect x="522.00" y="661.50" width="16.80" height="62.65" fill="#4e3333"/>
<rect x="538.50" y="661.50" width="16.80" height="62.65" fill="#533636"/>
<rect x="555.00" y="661.50" width="16.80" height="62.65" fill="#2d1d1d"/>
<rect x="571.50" y="661.50" width="16.80" height="62.65" fill="#4e3333"/>
<rect x="588.00" y="661.50" width="16.80" height="62.65" fill="#583a3a"/>
<rect x="604.50" y="661.50" width="16.80" height="62.65" fill="#412b2b"/>
<rect x="621.00" y="661.50" width="16.80" height="62.65" fill="#301f1f"/>
<rect x="637.50" y="661.50" width="16.80" height="62.65" fill="#372424"/>
<rect x="654.00" y="661.50" width="16.80" height="62.65" fill="#4e3333"/>
<rect x="670.50" y="661.50" width="16.80" height="62.65" fill="#553838"/>
<rect x="687.00" y="661.50" width="16.80" height="62.65" fill="#553838"/>
<rect x="703.50" y="661.50" width="16.80" height="62.65" fill="#5a3b3b"/>
<rect x="720.00" y="661.50" width="16.80" height="62.65" fill="#5f3e3e"/>
<rect x="736.50" y="661.50" width="16.80" height="62.65" fill="#583a3a"/>
<rect x="753.00" y="661.50" width="16.80" height="62.65" fill="#624040"/>
<rect x="769.50" y="661.50" width="16.80" height="62.65" fill="#523636"/>
<rect x="786.00" y="661.50" width="16.80" height="62.65" fill="#322121"/>
<rect x="802.50" y="661.50" width="16.80" height="62.65" fill="#372424"/>
<rect x="819.00" y="661.50" width="16.80" height="62.65" fill="#3c2727"/>
<rect x="835.50" y="661.50" width="16.80" height="62.65" fill="#201515"/>
<rect x="852.00" y="661.50" width="16.80" height="62.65" fill="#503434"/>
<rect x="868.50" y="661.50" width="16.80" height="62.65" fill="#462e2e"/>
<rect x="885.00" y="661.50" width="16.80" height="62.65" fill="#372424"/>
<rect x="901.50" y="661.50" width="16.80" height="62.65" fill="#412b2b"/>
<rect x="918.00" y="661.50" width="16.80" height="62.65" fill="#5a3b3b"/>
<rect x="934.50" y="661.50" width="16.80" height="62.65" fill="#704949"/>
<rect x="142.50" y="723.85" width="16.80" height="62.65" fill="#342222"/>
<rect x="159.00" y="723.85" width="16.80" height="62.65" fill="#3e2929"/>
<rect x="175.50" y="723.85" width="16.80" height="62.65" fill="#342222"/>
<rect x="192.00" y="723.85" width="16.80" height="62.65" fill="#1e1414"/>
<rect x="208.50" y="723.85" width="16.80" height="62.65" fill="#4b3131"/>
<rect x="225.00" y="723.85" width="16.80" height="62.65" fill="#3e2929"/>
<rect x="241.50" y="723.85" width="16.80" height="62.65" fill="#4b3131"/>
<rect x="258.00" y="723.85" width="16.80" height="62.65" fill="#6e4848"/>
<rect x="274.50" y="723.85" width="16.80" height="62.65" fill="#624040"/>
<rect x="291.00" y="723.85" width="16.80" height="62.65" fill="#3c2727"/>
<rect x="307.50" y="723.85" width="16.80" height="62.65" fill="#3c2727"/>
<rect x="324.00" y="723.85" width="16.80" height="62.65" fill="#3a2626"/>
<rect x="340.50" y="723.85" width="16.80" height="62.65" fill="#3a2626"/>
<rect x="357.00" y="723.85" width="16.80" height="62.65" fill="#583a3a"/>
<rect x="373.50" y="723.85" width="16.80" height="62.65" fill="#583a3a"/>
<rect x="390.00" y="723.85" width="16.80" height="62.65" fill="#4b3131"/>
<rect x="406.50" y="723.85" width="16.80" height="62.65" fill="#694545"/>
<rect x="423.00" y="723.85" width="16.80" height="62.65" fill="#553838"/>
<rect x="439.50" y="723.85" width="16.80" height="62.65" fill="#3e2929"/>
<rect x="456.00" y="723.85" width="16.80" height="62.65" fill="#2d1d1d"/>
<rect x="472.50" y="723.85" width="16.80" height="62.65" fill="#553838"/>
<rect x="489.00" y="723.85" width="16.80" height="62.65" fill="#704949"/>
<rect x="505.50" y="723.85" width="16.80" height="62.65" fill="#644141"/>
<rect x="522.00" y="723.85" width="16.80" height="62.65" fill="#644141"/>
<rect x="538.50" y="723.85" width="16.80" height="62.65" fill="#664343"/>
<rect x="555.00" y="723.85" width="16.80" height="62.65" fill="#4e3333"/>
<rect x="571.50" y="723.85" width="16.80" height="62.65" fill="#412b2b"/>
<rect x="588.00" y="723.85" width="16.80" height="62.65" fill="#644141"/>
<rect x="604.50" y="723.85" width="16.80" height="62.65" fill="#734b4b"/>
<rect x="621.00" y="723.85" width="16.80" height="62.65" fill="#624040"/>
<rect x="637.50" y="723.85" width="16.80" height="62.65" fill="#3c2727"/>
<rect x="654.00" y="723.85" width="16.80" height="62.65" fill="#372424"/>
<rect x="670.50" y="723.85" width="16.80" height="62.65" fill="#442d2d"/>
<rect x="687.00" y="723.85" width="16.80" height="62.65" fill="#301f1f"/>
<rect x="703.50" y="723.85" width="16.80" height="62.65" fill="#3c2727"/>
<rect x="720.00" y="723.85" width="16.80" height="62.65" fill="#442d2d"/>
<rect x="736.50" y="723.85" width="16.80" height="62.65" fill="#553838"/>
<rect x="753.00" y="723.85" width="16.80" height="62.65" fill="#5f3e3e"/>
<rect x="769.50" y="723.85" width="16.80" height="62.65" fill="#281a1a"/>
<rect x="786.00" y="723.85" width="16.80" height="62.65" fill="#583a3a"/>
<rect x="802.50" y="723.85" width="16.80" height="62.65" fill="#5c3c3c"/>
<rect x="819.00" y="723.85" width="16.80" height="62.65" fill="#4b3131"/>
<rect x="835.50" y="723.85" width="16.80" height="62.65" fill="#764d4d"/>
<rect x="852.00" y="723.85" width="16.80" height="62.65" fill="#8a5a5a"/>
<rect x="868.50" y="723.85" width="16.80" height="62.65" fill="#764d4d"/>
<rect x="885.00" y="723.85" width="16.80" height="62.65" fill="#694545"/>
<rect x="901.50" y="723.85" width="16.80" height="62.65" fill="#764d4d"/>
<rect x="918.00" y="723.85" width="16.80" height="62.65" fill="#6c4747"/>
<rect x="934.50" y="723.85" width="16.80" height="62.65" fill="#503434"/>
</g>
<rect x="142.5" y="38.0" width="808.5" height="748.2" fill="none" stroke="#5a5a5a" stroke-width="2"/>
<line x1="142.0" y1="37.0" x2="142.0" y2="787.2" stroke="#bdbdbd" stroke-width="1.6"/>
<path d="M151.0 786.2v-9M151.0 38.0v9" stroke="#343434" stroke-width="1.4"/>
<path d="M254.1 786.2v-9M254.1 38.0v9" stroke="#343434" stroke-width="1.4"/>
<path d="M357.2 786.2v-9M357.2 38.0v9" stroke="#343434" stroke-width="1.4"/>
<path d="M460.3 786.2v-9M460.3 38.0v9" stroke="#343434" stroke-width="1.4"/>
<path d="M563.4 786.2v-9M563.4 38.0v9" stroke="#343434" stroke-width="1.4"/>
<path d="M666.5 786.2v-9M666.5 38.0v9" stroke="#343434" stroke-width="1.4"/>
<path d="M769.6 786.2v-9M769.6 38.0v9" stroke="#343434" stroke-width="1.4"/>
<path d="M872.7 786.2v-9M872.7 38.0v9" stroke="#343434" stroke-width="1.4"/>
<path d="M142.5 89.6h9M951.0 89.6h-9" stroke="#343434" stroke-width="1.4"/>
<path d="M142.5 255.4h9M951.0 255.4h-9" stroke="#343434" stroke-width="1.4"/>
<path d="M142.5 421.3h9M951.0 421.3h-9" stroke="#343434" stroke-width="1.4"/>
<path d="M142.5 587.1h9M951.0 587.1h-9" stroke="#343434" stroke-width="1.4"/>
<path d="M142.5 753.0h9M951.0 753.0h-9" stroke="#343434" stroke-width="1.4"/>
<text transform="translate(151.0 831.5) scale(0.86 1)" text-anchor="middle" class="tk" font-size="33.5">0</text>
<text transform="translate(254.1 831.5) scale(0.86 1)" text-anchor="middle" class="tk" font-size="33.5">0.5</text>
<text transform="translate(357.2 831.5) scale(0.86 1)" text-anchor="middle" class="tk" font-size="33.5">1</text>
<text transform="translate(460.3 831.5) scale(0.86 1)" text-anchor="middle" class="tk" font-size="33.5">1.5</text>
<text transform="translate(563.4 831.5) scale(0.86 1)" text-anchor="middle" class="tk" font-size="33.5">2</text>
<text transform="translate(666.5 831.5) scale(0.86 1)" text-anchor="middle" class="tk" font-size="33.5">2.5</text>
<text transform="translate(769.6 831.5) scale(0.86 1)" text-anchor="middle" class="tk" font-size="33.5">3</text>
<text transform="translate(872.7 831.5) scale(0.86 1)" text-anchor="middle" class="tk" font-size="33.5">3.5</text>
<text transform="translate(129.5 97.0) scale(0.85 1)" text-anchor="end" class="tk" font-size="33.5">13</text>
<text transform="translate(129.5 262.8) scale(0.85 1)" text-anchor="end" class="tk" font-size="33.5">12.5</text>
<text transform="translate(129.5 428.7) scale(0.85 1)" text-anchor="end" class="tk" font-size="33.5">12</text>
<text transform="translate(129.5 594.5) scale(0.85 1)" text-anchor="end" class="tk" font-size="33.5">11.5</text>
<text transform="translate(129.5 760.4) scale(0.85 1)" text-anchor="end" class="tk" font-size="33.5">11</text>
<rect x="993.0" y="33.5" width="78.0" height="756.0" fill="url(#pg1)" stroke="#555" stroke-width="3"/>
<line x1="993.0" y1="33.5" x2="993.0" y2="789.5" stroke="#777" stroke-width="3"/>
<text x="1084.0" y="792.7" class="cb">0</text>
<line x1="1070.0" y1="639.8" x2="1060.0" y2="639.8" stroke="#555" stroke-width="2.2"/>
<text x="1084.0" y="643.7" class="cb">0.2</text>
<line x1="1070.0" y1="490.8" x2="1060.0" y2="490.8" stroke="#555" stroke-width="2.2"/>
<text x="1084.0" y="494.7" class="cb">0.4</text>
<line x1="1070.0" y1="341.8" x2="1060.0" y2="341.8" stroke="#555" stroke-width="2.2"/>
<text x="1084.0" y="345.7" class="cb">0.6</text>
<line x1="1070.0" y1="192.8" x2="1060.0" y2="192.8" stroke="#555" stroke-width="2.2"/>
<text x="1084.0" y="196.7" class="cb">0.8</text>
<line x1="1070.0" y1="43.8" x2="1060.0" y2="43.8" stroke="#555" stroke-width="2.2"/>
<text x="1084.0" y="47.7" class="cb">1</text>
<text x="365.0" y="875.0" font-size="54" textLength="362.0" lengthAdjust="spacingAndGlyphs" text-anchor="start" class="sf" >cross-range [m]</text>
<g transform="translate(56 549) rotate(-90)">
<text x="0.0" y="0.0" font-size="57" textLength="254.0" lengthAdjust="spacingAndGlyphs" text-anchor="start" class="sf" >range [m]</text>
</g>
<circle cx="250.9" cy="472.3" r="129.8" fill="none" stroke="#fe0000" stroke-width="15.8"/>
<ellipse cx="896.9" cy="439.2" rx="106.3" ry="115.7" fill="none" stroke="#fe0000" stroke-width="15.5"/>
<path class="g" d="M1364.6 577.3L1364.6 148.9M1491.3 538.1L1491.3 109.7M1618.0 498.9L1618.0 70.5M1237.9 616.5L1724.4 466.0L2097.7 663.2M1237.9 412.5L1724.4 262.0L2097.7 459.2M1237.9 208.5L1724.4 58.0L2097.7 255.2M1735.7 472.0L1735.7 43.6M1916.7 567.6L1916.7 139.2M2097.7 663.2L2097.7 234.8M1430.2 718.1L1916.7 567.6M1249.2 622.5L1735.7 472.0M1737.9 774.5L1364.6 577.3M1864.6 735.3L1491.3 538.1M1991.3 696.1L1618.0 498.9"/>
<g class="m" stroke-width="1.15"><path d="M1748.2 484.4L1758.4 462.0L1724.4 451.7L1714.3 430.9Z" stroke="#5c4dca"/>
<path d="M1758.4 462.0L1724.4 451.7" stroke="#605de8" stroke-width="1.5499999999999998"/>
<path d="M1714.3 430.9L1724.4 451.7" stroke="#605de8" stroke-width="1.5499999999999998"/>
<path d="M1738.1 464.4L1748.2 484.4L1714.3 430.9L1704.1 441.7Z" stroke="#605de8"/>
<path d="M1748.2 484.4L1714.3 430.9" stroke="#5c4dca" stroke-width="1.5499999999999998"/>
<path d="M1727.9 472.6L1738.1 464.4L1704.1 441.7L1694.0 451.6Z" stroke="#605de8"/>
<path d="M1717.8 492.1L1727.9 472.6L1694.0 451.6L1683.9 477.9Z" stroke="#5c4dca"/>
<path d="M1727.9 472.6L1694.0 451.6" stroke="#605de8" stroke-width="1.5499999999999998"/>
<path d="M1707.7 485.4L1717.8 492.1L1683.9 477.9L1673.7 465.4Z" stroke="#605de8"/>
<path d="M1717.8 492.1L1683.9 477.9" stroke="#5c4dca" stroke-width="1.5499999999999998"/>
<path d="M1697.5 480.8L1707.7 485.4L1673.7 465.4L1663.6 475.1Z" stroke="#605de8"/>
<path d="M1663.6 475.1L1673.7 465.4" stroke="#5c4dca" stroke-width="1.5499999999999998"/>
<path d="M1687.4 482.0L1697.5 480.8L1663.6 475.1L1653.5 477.4Z" stroke="#605de8"/>
<path d="M1653.5 477.4L1663.6 475.1" stroke="#5c4dca" stroke-width="1.5499999999999998"/>
<path d="M1677.3 487.1L1687.4 482.0L1653.5 477.4L1643.3 450.4Z" stroke="#605de8"/>
<path d="M1643.3 450.4L1653.5 477.4" stroke="#6071f8" stroke-width="1.5499999999999998"/>
<path d="M1667.1 481.5L1677.3 487.1L1643.3 450.4L1633.2 444.8Z" stroke="#605de8"/>
<path d="M1633.2 444.8L1643.3 450.4" stroke="#6071f8" stroke-width="1.5499999999999998"/>
<path d="M1657.0 491.5L1667.1 481.5L1633.2 444.8L1623.1 481.1Z" stroke="#605de8"/>
<path d="M1646.9 514.6L1657.0 491.5L1623.1 481.1L1612.9 489.9Z" stroke="#5c4dca"/>
<path d="M1657.0 491.5L1623.1 481.1" stroke="#605de8" stroke-width="1.5499999999999998"/>
<path d="M1636.7 514.1L1646.9 514.6L1612.9 489.9L1602.8 498.4Z" stroke="#5c4dca"/>
<path d="M1626.6 517.2L1636.7 514.1L1602.8 498.4L1592.6 498.2Z" stroke="#5c4dca"/>
<path d="M1616.4 520.4L1626.6 517.2L1592.6 498.2L1582.5 504.7Z" stroke="#5c4dca"/>
<path d="M1606.3 522.4L1616.4 520.4L1582.5 504.7L1572.4 507.8Z" stroke="#5c4dca"/>
<path d="M1596.2 514.5L1606.3 522.4L1572.4 507.8L1562.2 505.6Z" stroke="#605de8"/>
<path d="M1606.3 522.4L1572.4 507.8" stroke="#5c4dca" stroke-width="1.5499999999999998"/>
<path d="M1562.2 505.6L1572.4 507.8" stroke="#5c4dca" stroke-width="1.5499999999999998"/>
<path d="M1586.0 525.8L1596.2 514.5L1562.2 505.6L1552.1 505.1Z" stroke="#5c4dca"/>
<path d="M1596.2 514.5L1562.2 505.6" stroke="#605de8" stroke-width="1.5499999999999998"/>
<path d="M1552.1 505.1L1562.2 505.6" stroke="#605de8" stroke-width="1.5499999999999998"/>
<path d="M1575.9 534.3L1586.0 525.8L1552.1 505.1L1542.0 515.0Z" stroke="#5c4dca"/>
<path d="M1565.8 534.9L1575.9 534.3L1542.0 515.0L1531.8 515.0Z" stroke="#5c4dca"/>
<path d="M1555.6 541.5L1565.8 534.9L1531.8 515.0L1521.7 501.6Z" stroke="#5c4dca"/>
<path d="M1521.7 501.6L1531.8 515.0" stroke="#605de8" stroke-width="1.5499999999999998"/>
<path d="M1545.5 546.0L1555.6 541.5L1521.7 501.6L1511.6 497.5Z" stroke="#5c4dca"/>
<path d="M1511.6 497.5L1521.7 501.6" stroke="#605de8" stroke-width="1.5499999999999998"/>
<path d="M1535.4 542.3L1545.5 546.0L1511.6 497.5L1501.4 518.7Z" stroke="#5c4dca"/>
<path d="M1501.4 518.7L1511.6 497.5" stroke="#605de8" stroke-width="1.5499999999999998"/>
<path d="M1525.2 545.5L1535.4 542.3L1501.4 518.7L1491.3 527.5Z" stroke="#5c4dca"/>
<path d="M1515.1 556.5L1525.2 545.5L1491.3 527.5L1481.2 532.7Z" stroke="#5c4dca"/>
<path d="M1505.0 555.3L1515.1 556.5L1481.2 532.7L1471.0 543.8Z" stroke="#5c4dca"/>
<path d="M1494.8 558.4L1505.0 555.3L1471.0 543.8L1460.9 545.0Z" stroke="#5c4dca"/>
<path d="M1484.7 560.5L1494.8 558.4L1460.9 545.0L1450.7 546.6Z" stroke="#5c4dca"/>
<path d="M1474.5 543.0L1484.7 560.5L1450.7 546.6L1440.6 548.9Z" stroke="#605de8"/>
<path d="M1484.7 560.5L1450.7 546.6" stroke="#5c4dca" stroke-width="1.5499999999999998"/>
<path d="M1440.6 548.9L1450.7 546.6" stroke="#5c4dca" stroke-width="1.5499999999999998"/>
<path d="M1464.4 544.1L1474.5 543.0L1440.6 548.9L1430.5 541.7Z" stroke="#605de8"/>
<path d="M1454.3 545.8L1464.4 544.1L1430.5 541.7L1420.3 558.2Z" stroke="#605de8"/>
<path d="M1420.3 558.2L1430.5 541.7" stroke="#5c4dca" stroke-width="1.5499999999999998"/>
<path d="M1444.1 571.2L1454.3 545.8L1420.3 558.2L1410.2 547.9Z" stroke="#5c4dca"/>
<path d="M1454.3 545.8L1420.3 558.2" stroke="#605de8" stroke-width="1.5499999999999998"/>
<path d="M1410.2 547.9L1420.3 558.2" stroke="#605de8" stroke-width="1.5499999999999998"/>
<path d="M1434.0 574.3L1444.1 571.2L1410.2 547.9L1400.1 552.0Z" stroke="#5c4dca"/>
<path d="M1400.1 552.0L1410.2 547.9" stroke="#605de8" stroke-width="1.5499999999999998"/>
<path d="M1423.9 569.0L1434.0 574.3L1400.1 552.0L1389.9 557.5Z" stroke="#605de8"/>
<path d="M1434.0 574.3L1400.1 552.0" stroke="#5c4dca" stroke-width="1.5499999999999998"/>
<path d="M1389.9 557.5L1400.1 552.0" stroke="#5c4dca" stroke-width="1.5499999999999998"/>
<path d="M1413.7 566.4L1423.9 569.0L1389.9 557.5L1379.8 561.9Z" stroke="#605de8"/>
<path d="M1379.8 561.9L1389.9 557.5" stroke="#5c4dca" stroke-width="1.5499999999999998"/>
<path d="M1403.6 571.3L1413.7 566.4L1379.8 561.9L1369.7 565.8Z" stroke="#605de8"/>
<path d="M1369.7 565.8L1379.8 561.9" stroke="#5c4dca" stroke-width="1.5499999999999998"/>
<path d="M1393.5 586.9L1403.6 571.3L1369.7 565.8L1359.5 569.0Z" stroke="#5c4dca"/>
<path d="M1403.6 571.3L1369.7 565.8" stroke="#605de8" stroke-width="1.5499999999999998"/>
<path d="M1383.3 571.2L1393.5 586.9L1359.5 569.0L1349.4 563.7Z" stroke="#605de8"/>
<path d="M1393.5 586.9L1359.5 569.0" stroke="#5c4dca" stroke-width="1.5499999999999998"/>
<path d="M1373.2 567.2L1383.3 571.2L1349.4 563.7L1339.2 583.2Z" stroke="#605de8"/>
<path d="M1339.2 583.2L1349.4 563.7" stroke="#5c4dca" stroke-width="1.5499999999999998"/>
<path d="M1363.0 589.4L1373.2 567.2L1339.2 583.2L1329.1 583.4Z" stroke="#605de8"/>
<path d="M1329.1 583.4L1339.2 583.2" stroke="#5c4dca" stroke-width="1.5499999999999998"/>
<path d="M1352.9 596.0L1363.0 589.4L1329.1 583.4L1319.0 586.6Z" stroke="#5c4dca"/>
<path d="M1363.0 589.4L1329.1 583.4" stroke="#605de8" stroke-width="1.5499999999999998"/>
<path d="M1342.8 598.2L1352.9 596.0L1319.0 586.6L1308.8 584.6Z" stroke="#605de8"/>
<path d="M1352.9 596.0L1319.0 586.6" stroke="#5c4dca" stroke-width="1.5499999999999998"/>
<path d="M1308.8 584.6L1319.0 586.6" stroke="#5c4dca" stroke-width="1.5499999999999998"/>
<path d="M1332.6 600.4L1342.8 598.2L1308.8 584.6L1298.7 583.4Z" stroke="#605de8"/>
<path d="M1322.5 572.4L1332.6 600.4L1298.7 583.4L1288.6 596.0Z" stroke="#6071f8"/>
<path d="M1332.6 600.4L1298.7 583.4" stroke="#605de8" stroke-width="1.5499999999999998"/>
<path d="M1288.6 596.0L1298.7 583.4" stroke="#5c4dca" stroke-width="1.5499999999999998"/>
<path d="M1312.4 583.7L1322.5 572.4L1288.6 596.0L1278.4 584.5Z" stroke="#605de8"/>
<path d="M1322.5 572.4L1288.6 596.0" stroke="#6071f8" stroke-width="1.5499999999999998"/>
<path d="M1302.2 614.3L1312.4 583.7L1278.4 584.5L1268.3 582.9Z" stroke="#5c4dca"/>
<path d="M1312.4 583.7L1278.4 584.5" stroke="#605de8" stroke-width="1.5499999999999998"/>
<path d="M1268.3 582.9L1278.4 584.5" stroke="#605de8" stroke-width="1.5499999999999998"/>
<path d="M1292.1 597.4L1302.2 614.3L1268.3 582.9L1258.2 595.0Z" stroke="#605de8"/>
<path d="M1302.2 614.3L1268.3 582.9" stroke="#5c4dca" stroke-width="1.5499999999999998"/>
<path d="M1282.0 605.9L1292.1 597.4L1258.2 595.0L1248.0 584.7Z" stroke="#605de8"/>
<path d="M1271.8 602.3L1282.0 605.9L1248.0 584.7L1237.9 602.2Z" stroke="#605de8"/>
<path d="M1782.2 488.7L1792.3 474.7L1758.4 462.0L1748.2 484.4Z" stroke="#605de8"/>
<path d="M1748.2 484.4L1758.4 462.0" stroke="#5c4dca" stroke-width="1.5499999999999998"/>
<path d="M1772.0 486.2L1782.2 488.7L1748.2 484.4L1738.1 464.4Z" stroke="#605de8"/>
<path d="M1761.9 473.0L1772.0 486.2L1738.1 464.4L1727.9 472.6Z" stroke="#605de8"/>
<path d="M1751.7 492.4L1761.9 473.0L1727.9 472.6L1717.8 492.1Z" stroke="#605de8"/>
<path d="M1717.8 492.1L1727.9 472.6" stroke="#5c4dca" stroke-width="1.5499999999999998"/>
<path d="M1741.6 514.9L1751.7 492.4L1717.8 492.1L1707.7 485.4Z" stroke="#5c4dca"/>
<path d="M1751.7 492.4L1717.8 492.1" stroke="#605de8" stroke-width="1.5499999999999998"/>
<path d="M1707.7 485.4L1717.8 492.1" stroke="#605de8" stroke-width="1.5499999999999998"/>
<path d="M1731.5 510.9L1741.6 514.9L1707.7 485.4L1697.5 480.8Z" stroke="#5c4dca"/>
<path d="M1697.5 480.8L1707.7 485.4" stroke="#605de8" stroke-width="1.5499999999999998"/>
<path d="M1721.3 513.2L1731.5 510.9L1697.5 480.8L1687.4 482.0Z" stroke="#5c4dca"/>
<path d="M1687.4 482.0L1697.5 480.8" stroke="#605de8" stroke-width="1.5499999999999998"/>
<path d="M1711.2 523.1L1721.3 513.2L1687.4 482.0L1677.3 487.1Z" stroke="#5c4dca"/>
<path d="M1677.3 487.1L1687.4 482.0" stroke="#605de8" stroke-width="1.5499999999999998"/>
<path d="M1701.1 517.3L1711.2 523.1L1677.3 487.1L1667.1 481.5Z" stroke="#5c4dca"/>
<path d="M1667.1 481.5L1677.3 487.1" stroke="#605de8" stroke-width="1.5499999999999998"/>
<path d="M1690.9 516.9L1701.1 517.3L1667.1 481.5L1657.0 491.5Z" stroke="#605de8"/>
<path d="M1701.1 517.3L1667.1 481.5" stroke="#5c4dca" stroke-width="1.5499999999999998"/>
<path d="M1680.8 505.7L1690.9 516.9L1657.0 491.5L1646.9 514.6Z" stroke="#605de8"/>
<path d="M1646.9 514.6L1657.0 491.5" stroke="#5c4dca" stroke-width="1.5499999999999998"/>
<path d="M1670.7 518.7L1680.8 505.7L1646.9 514.6L1636.7 514.1Z" stroke="#605de8"/>
<path d="M1636.7 514.1L1646.9 514.6" stroke="#5c4dca" stroke-width="1.5499999999999998"/>
<path d="M1660.5 538.8L1670.7 518.7L1636.7 514.1L1626.6 517.2Z" stroke="#5c4dca"/>
<path d="M1670.7 518.7L1636.7 514.1" stroke="#605de8" stroke-width="1.5499999999999998"/>
<path d="M1650.4 540.6L1660.5 538.8L1626.6 517.2L1616.4 520.4Z" stroke="#5c4dca"/>
<path d="M1640.3 537.4L1650.4 540.6L1616.4 520.4L1606.3 522.4Z" stroke="#5c4dca"/>
<path d="M1630.1 524.9L1640.3 537.4L1606.3 522.4L1596.2 514.5Z" stroke="#605de8"/>
<path d="M1640.3 537.4L1606.3 522.4" stroke="#5c4dca" stroke-width="1.5499999999999998"/>
<path d="M1620.0 528.1L1630.1 524.9L1596.2 514.5L1586.0 525.8Z" stroke="#605de8"/>
<path d="M1586.0 525.8L1596.2 514.5" stroke="#5c4dca" stroke-width="1.5499999999999998"/>
<path d="M1609.8 550.8L1620.0 528.1L1586.0 525.8L1575.9 534.3Z" stroke="#5c4dca"/>
<path d="M1620.0 528.1L1586.0 525.8" stroke="#605de8" stroke-width="1.5499999999999998"/>
<path d="M1599.7 550.8L1609.8 550.8L1575.9 534.3L1565.8 534.9Z" stroke="#5c4dca"/>
<path d="M1589.6 557.8L1599.7 550.8L1565.8 534.9L1555.6 541.5Z" stroke="#5c4dca"/>
<path d="M1579.4 562.5L1589.6 557.8L1555.6 541.5L1545.5 546.0Z" stroke="#5c4dca"/>
<path d="M1569.3 570.2L1579.4 562.5L1545.5 546.0L1535.4 542.3Z" stroke="#5c4dca"/>
<path d="M1559.2 562.5L1569.3 570.2L1535.4 542.3L1525.2 545.5Z" stroke="#5c4dca"/>
<path d="M1549.0 546.5L1559.2 562.5L1525.2 545.5L1515.1 556.5Z" stroke="#605de8"/>
<path d="M1559.2 562.5L1525.2 545.5" stroke="#5c4dca" stroke-width="1.5499999999999998"/>
<path d="M1515.1 556.5L1525.2 545.5" stroke="#5c4dca" stroke-width="1.5499999999999998"/>
<path d="M1538.9 577.8L1549.0 546.5L1515.1 556.5L1505.0 555.3Z" stroke="#5c4dca"/>
<path d="M1549.0 546.5L1515.1 556.5" stroke="#605de8" stroke-width="1.5499999999999998"/>
<path d="M1528.8 573.4L1538.9 577.8L1505.0 555.3L1494.8 558.4Z" stroke="#5c4dca"/>
<path d="M1518.6 579.5L1528.8 573.4L1494.8 558.4L1484.7 560.5Z" stroke="#5c4dca"/>
<path d="M1508.5 583.9L1518.6 579.5L1484.7 560.5L1474.5 543.0Z" stroke="#5c4dca"/>
<path d="M1474.5 543.0L1484.7 560.5" stroke="#605de8" stroke-width="1.5499999999999998"/>
<path d="M1498.3 582.0L1508.5 583.9L1474.5 543.0L1464.4 544.1Z" stroke="#5c4dca"/>
<path d="M1464.4 544.1L1474.5 543.0" stroke="#605de8" stroke-width="1.5499999999999998"/>
<path d="M1488.2 581.6L1498.3 582.0L1464.4 544.1L1454.3 545.8Z" stroke="#605de8"/>
<path d="M1498.3 582.0L1464.4 544.1" stroke="#5c4dca" stroke-width="1.5499999999999998"/>
<path d="M1478.1 588.3L1488.2 581.6L1454.3 545.8L1444.1 571.2Z" stroke="#5c4dca"/>
<path d="M1488.2 581.6L1454.3 545.8" stroke="#605de8" stroke-width="1.5499999999999998"/>
<path d="M1467.9 583.8L1478.1 588.3L1444.1 571.2L1434.0 574.3Z" stroke="#605de8"/>
<path d="M1478.1 588.3L1444.1 571.2" stroke="#5c4dca" stroke-width="1.5499999999999998"/>
<path d="M1434.0 574.3L1444.1 571.2" stroke="#5c4dca" stroke-width="1.5499999999999998"/>
<path d="M1457.8 583.0L1467.9 583.8L1434.0 574.3L1423.9 569.0Z" stroke="#605de8"/>
<path d="M1447.7 591.7L1457.8 583.0L1423.9 569.0L1413.7 566.4Z" stroke="#605de8"/>
<path d="M1437.5 582.9L1447.7 591.7L1413.7 566.4L1403.6 571.3Z" stroke="#605de8"/>
<path d="M1427.4 586.0L1437.5 582.9L1403.6 571.3L1393.5 586.9Z" stroke="#605de8"/>
<path d="M1393.5 586.9L1403.6 571.3" stroke="#5c4dca" stroke-width="1.5499999999999998"/>
<path d="M1417.3 611.5L1427.4 586.0L1393.5 586.9L1383.3 571.2Z" stroke="#5c4dca"/>
<path d="M1427.4 586.0L1393.5 586.9" stroke="#605de8" stroke-width="1.5499999999999998"/>
<path d="M1383.3 571.2L1393.5 586.9" stroke="#605de8" stroke-width="1.5499999999999998"/>
<path d="M1407.1 607.6L1417.3 611.5L1383.3 571.2L1373.2 567.2Z" stroke="#5c4dca"/>
<path d="M1373.2 567.2L1383.3 571.2" stroke="#605de8" stroke-width="1.5499999999999998"/>
<path d="M1397.0 593.4L1407.1 607.6L1373.2 567.2L1363.0 589.4Z" stroke="#605de8"/>
<path d="M1407.1 607.6L1373.2 567.2" stroke="#5c4dca" stroke-width="1.5499999999999998"/>
<path d="M1386.9 615.3L1397.0 593.4L1363.0 589.4L1352.9 596.0Z" stroke="#5c4dca"/>
<path d="M1397.0 593.4L1363.0 589.4" stroke="#605de8" stroke-width="1.5499999999999998"/>
<path d="M1376.7 625.6L1386.9 615.3L1352.9 596.0L1342.8 598.2Z" stroke="#5c4dca"/>
<path d="M1342.8 598.2L1352.9 596.0" stroke="#605de8" stroke-width="1.5499999999999998"/>
<path d="M1366.6 623.6L1376.7 625.6L1342.8 598.2L1332.6 600.4Z" stroke="#5c4dca"/>
<path d="M1332.6 600.4L1342.8 598.2" stroke="#605de8" stroke-width="1.5499999999999998"/>
<path d="M1356.4 605.9L1366.6 623.6L1332.6 600.4L1322.5 572.4Z" stroke="#605de8"/>
<path d="M1366.6 623.6L1332.6 600.4" stroke="#5c4dca" stroke-width="1.5499999999999998"/>
<path d="M1322.5 572.4L1332.6 600.4" stroke="#6071f8" stroke-width="1.5499999999999998"/>
<path d="M1346.3 614.4L1356.4 605.9L1322.5 572.4L1312.4 583.7Z" stroke="#605de8"/>
<path d="M1336.2 630.9L1346.3 614.4L1312.4 583.7L1302.2 614.3Z" stroke="#5c4dca"/>
<path d="M1346.3 614.4L1312.4 583.7" stroke="#605de8" stroke-width="1.5499999999999998"/>
<path d="M1326.0 588.9L1336.2 630.9L1302.2 614.3L1292.1 597.4Z" stroke="#6071f8"/>
<path d="M1336.2 630.9L1302.2 614.3" stroke="#5c4dca" stroke-width="1.5499999999999998"/>
<path d="M1292.1 597.4L1302.2 614.3" stroke="#605de8" stroke-width="1.5499999999999998"/>
<path d="M1315.9 587.2L1326.0 588.9L1292.1 597.4L1282.0 605.9Z" stroke="#6071f8"/>
<path d="M1282.0 605.9L1292.1 597.4" stroke="#605de8" stroke-width="1.5499999999999998"/>
<path d="M1305.8 632.9L1315.9 587.2L1282.0 605.9L1271.8 602.3Z" stroke="#605de8"/>
<path d="M1315.9 587.2L1282.0 605.9" stroke="#6071f8" stroke-width="1.5499999999999998"/>
<path d="M1816.1 473.5L1826.2 479.1L1792.3 474.7L1782.2 488.7Z" stroke="#6071f8"/>
<path d="M1782.2 488.7L1792.3 474.7" stroke="#605de8" stroke-width="1.5499999999999998"/>
<path d="M1806.0 483.7L1816.1 473.5L1782.2 488.7L1772.0 486.2Z" stroke="#6071f8"/>
<path d="M1772.0 486.2L1782.2 488.7" stroke="#605de8" stroke-width="1.5499999999999998"/>
<path d="M1795.8 509.6L1806.0 483.7L1772.0 486.2L1761.9 473.0Z" stroke="#605de8"/>
<path d="M1806.0 483.7L1772.0 486.2" stroke="#6071f8" stroke-width="1.5499999999999998"/>
<path d="M1785.7 506.5L1795.8 509.6L1761.9 473.0L1751.7 492.4Z" stroke="#605de8"/>
<path d="M1775.5 499.6L1785.7 506.5L1751.7 492.4L1741.6 514.9Z" stroke="#605de8"/>
<path d="M1741.6 514.9L1751.7 492.4" stroke="#5c4dca" stroke-width="1.5499999999999998"/>
<path d="M1765.4 517.8L1775.5 499.6L1741.6 514.9L1731.5 510.9Z" stroke="#605de8"/>
<path d="M1731.5 510.9L1741.6 514.9" stroke="#5c4dca" stroke-width="1.5499999999999998"/>
<path d="M1755.3 530.3L1765.4 517.8L1731.5 510.9L1721.3 513.2Z" stroke="#5c4dca"/>
<path d="M1765.4 517.8L1731.5 510.9" stroke="#605de8" stroke-width="1.5499999999999998"/>
<path d="M1745.1 519.1L1755.3 530.3L1721.3 513.2L1711.2 523.1Z" stroke="#605de8"/>
<path d="M1755.3 530.3L1721.3 513.2" stroke="#5c4dca" stroke-width="1.5499999999999998"/>
<path d="M1711.2 523.1L1721.3 513.2" stroke="#5c4dca" stroke-width="1.5499999999999998"/>
<path d="M1735.0 544.2L1745.1 519.1L1711.2 523.1L1701.1 517.3Z" stroke="#5c4dca"/>
<path d="M1745.1 519.1L1711.2 523.1" stroke="#605de8" stroke-width="1.5499999999999998"/>
<path d="M1724.9 539.7L1735.0 544.2L1701.1 517.3L1690.9 516.9Z" stroke="#5c4dca"/>
<path d="M1690.9 516.9L1701.1 517.3" stroke="#605de8" stroke-width="1.5499999999999998"/>
<path d="M1714.7 538.0L1724.9 539.7L1690.9 516.9L1680.8 505.7Z" stroke="#605de8"/>
<path d="M1724.9 539.7L1690.9 516.9" stroke="#5c4dca" stroke-width="1.5499999999999998"/>
<path d="M1704.6 544.6L1714.7 538.0L1680.8 505.7L1670.7 518.7Z" stroke="#5c4dca"/>
<path d="M1714.7 538.0L1680.8 505.7" stroke="#605de8" stroke-width="1.5499999999999998"/>
<path d="M1670.7 518.7L1680.8 505.7" stroke="#605de8" stroke-width="1.5499999999999998"/>
<path d="M1694.5 553.1L1704.6 544.6L1670.7 518.7L1660.5 538.8Z" stroke="#5c4dca"/>
<path d="M1684.3 558.5L1694.5 553.1L1660.5 538.8L1650.4 540.6Z" stroke="#5c4dca"/>
<path d="M1674.2 555.4L1684.3 558.5L1650.4 540.6L1640.3 537.4Z" stroke="#5c4dca"/>
<path d="M1664.1 563.2L1674.2 555.4L1640.3 537.4L1630.1 524.9Z" stroke="#5c4dca"/>
<path d="M1630.1 524.9L1640.3 537.4" stroke="#605de8" stroke-width="1.5499999999999998"/>
<path d="M1653.9 572.5L1664.1 563.2L1630.1 524.9L1620.0 528.1Z" stroke="#5c4dca"/>
<path d="M1620.0 528.1L1630.1 524.9" stroke="#605de8" stroke-width="1.5499999999999998"/>
<path d="M1643.8 573.6L1653.9 572.5L1620.0 528.1L1609.8 550.8Z" stroke="#5c4dca"/>
<path d="M1633.6 568.8L1643.8 573.6L1609.8 550.8L1599.7 550.8Z" stroke="#5c4dca"/>
<path d="M1623.5 558.7L1633.6 568.8L1599.7 550.8L1589.6 557.8Z" stroke="#605de8"/>
<path d="M1633.6 568.8L1599.7 550.8" stroke="#5c4dca" stroke-width="1.5499999999999998"/>
<path d="M1589.6 557.8L1599.7 550.8" stroke="#5c4dca" stroke-width="1.5499999999999998"/>
<path d="M1613.4 552.8L1623.5 558.7L1589.6 557.8L1579.4 562.5Z" stroke="#605de8"/>
<path d="M1579.4 562.5L1589.6 557.8" stroke="#5c4dca" stroke-width="1.5499999999999998"/>
<path d="M1603.2 564.9L1613.4 552.8L1579.4 562.5L1569.3 570.2Z" stroke="#605de8"/>
<path d="M1569.3 570.2L1579.4 562.5" stroke="#5c4dca" stroke-width="1.5499999999999998"/>
<path d="M1593.1 575.6L1603.2 564.9L1569.3 570.2L1559.2 562.5Z" stroke="#605de8"/>
<path d="M1559.2 562.5L1569.3 570.2" stroke="#5c4dca" stroke-width="1.5499999999999998"/>
<path d="M1583.0 587.2L1593.1 575.6L1559.2 562.5L1549.0 546.5Z" stroke="#5c4dca"/>
<path d="M1593.1 575.6L1559.2 562.5" stroke="#605de8" stroke-width="1.5499999999999998"/>
<path d="M1549.0 546.5L1559.2 562.5" stroke="#605de8" stroke-width="1.5499999999999998"/>
<path d="M1572.8 590.1L1583.0 587.2L1549.0 546.5L1538.9 577.8Z" stroke="#5c4dca"/>
<path d="M1562.7 587.0L1572.8 590.1L1538.9 577.8L1528.8 573.4Z" stroke="#605de8"/>
<path d="M1572.8 590.1L1538.9 577.8" stroke="#5c4dca" stroke-width="1.5499999999999998"/>
<path d="M1528.8 573.4L1538.9 577.8" stroke="#5c4dca" stroke-width="1.5499999999999998"/>
<path d="M1552.6 595.3L1562.7 587.0L1528.8 573.4L1518.6 579.5Z" stroke="#5c4dca"/>
<path d="M1562.7 587.0L1528.8 573.4" stroke="#605de8" stroke-width="1.5499999999999998"/>
<path d="M1542.4 598.4L1552.6 595.3L1518.6 579.5L1508.5 583.9Z" stroke="#5c4dca"/>
<path d="M1532.3 595.4L1542.4 598.4L1508.5 583.9L1498.3 582.0Z" stroke="#605de8"/>
<path d="M1542.4 598.4L1508.5 583.9" stroke="#5c4dca" stroke-width="1.5499999999999998"/>
<path d="M1498.3 582.0L1508.5 583.9" stroke="#5c4dca" stroke-width="1.5499999999999998"/>
<path d="M1522.1 598.6L1532.3 595.4L1498.3 582.0L1488.2 581.6Z" stroke="#605de8"/>
<path d="M1512.0 607.8L1522.1 598.6L1488.2 581.6L1478.1 588.3Z" stroke="#5c4dca"/>
<path d="M1522.1 598.6L1488.2 581.6" stroke="#605de8" stroke-width="1.5499999999999998"/>
<path d="M1501.9 616.5L1512.0 607.8L1478.1 588.3L1467.9 583.8Z" stroke="#5c4dca"/>
<path d="M1467.9 583.8L1478.1 588.3" stroke="#605de8" stroke-width="1.5499999999999998"/>
<path d="M1491.7 609.0L1501.9 616.5L1467.9 583.8L1457.8 583.0Z" stroke="#605de8"/>
<path d="M1501.9 616.5L1467.9 583.8" stroke="#5c4dca" stroke-width="1.5499999999999998"/>
<path d="M1481.6 609.6L1491.7 609.0L1457.8 583.0L1447.7 591.7Z" stroke="#605de8"/>
<path d="M1471.5 605.4L1481.6 609.6L1447.7 591.7L1437.5 582.9Z" stroke="#605de8"/>
<path d="M1461.3 621.9L1471.5 605.4L1437.5 582.9L1427.4 586.0Z" stroke="#5c4dca"/>
<path d="M1471.5 605.4L1437.5 582.9" stroke="#605de8" stroke-width="1.5499999999999998"/>
<path d="M1427.4 586.0L1437.5 582.9" stroke="#605de8" stroke-width="1.5499999999999998"/>
<path d="M1451.2 625.1L1461.3 621.9L1427.4 586.0L1417.3 611.5Z" stroke="#5c4dca"/>
<path d="M1441.1 626.9L1451.2 625.1L1417.3 611.5L1407.1 607.6Z" stroke="#5c4dca"/>
<path d="M1430.9 632.9L1441.1 626.9L1407.1 607.6L1397.0 593.4Z" stroke="#5c4dca"/>
<path d="M1397.0 593.4L1407.1 607.6" stroke="#605de8" stroke-width="1.5499999999999998"/>
<path d="M1420.8 635.3L1430.9 632.9L1397.0 593.4L1386.9 615.3Z" stroke="#5c4dca"/>
<path d="M1410.7 642.0L1420.8 635.3L1386.9 615.3L1376.7 625.6Z" stroke="#5c4dca"/>
<path d="M1400.5 637.2L1410.7 642.0L1376.7 625.6L1366.6 623.6Z" stroke="#605de8"/>
<path d="M1410.7 642.0L1376.7 625.6" stroke="#5c4dca" stroke-width="1.5499999999999998"/>
<path d="M1366.6 623.6L1376.7 625.6" stroke="#5c4dca" stroke-width="1.5499999999999998"/>
<path d="M1390.4 632.3L1400.5 637.2L1366.6 623.6L1356.4 605.9Z" stroke="#605de8"/>
<path d="M1380.2 642.5L1390.4 632.3L1356.4 605.9L1346.3 614.4Z" stroke="#605de8"/>
<path d="M1370.1 654.5L1380.2 642.5L1346.3 614.4L1336.2 630.9Z" stroke="#5c4dca"/>
<path d="M1380.2 642.5L1346.3 614.4" stroke="#605de8" stroke-width="1.5499999999999998"/>
<path d="M1360.0 641.7L1370.1 654.5L1336.2 630.9L1326.0 588.9Z" stroke="#605de8"/>
<path d="M1370.1 654.5L1336.2 630.9" stroke="#5c4dca" stroke-width="1.5499999999999998"/>
<path d="M1326.0 588.9L1336.2 630.9" stroke="#6071f8" stroke-width="1.5499999999999998"/>
<path d="M1349.8 643.0L1360.0 641.7L1326.0 588.9L1315.9 587.2Z" stroke="#605de8"/>
<path d="M1315.9 587.2L1326.0 588.9" stroke="#6071f8" stroke-width="1.5499999999999998"/>
<path d="M1339.7 663.3L1349.8 643.0L1315.9 587.2L1305.8 632.9Z" stroke="#5c4dca"/>
<path d="M1349.8 643.0L1315.9 587.2" stroke="#605de8" stroke-width="1.5499999999999998"/>
<path d="M1305.8 632.9L1315.9 587.2" stroke="#605de8" stroke-width="1.5499999999999998"/>
<path d="M1850.0 457.8L1860.2 471.5L1826.2 479.1L1816.1 473.5Z" stroke="#5685fd"/>
<path d="M1860.2 471.5L1826.2 479.1" stroke="#6071f8" stroke-width="1.5499999999999998"/>
<path d="M1816.1 473.5L1826.2 479.1" stroke="#6071f8" stroke-width="1.5499999999999998"/>
<path d="M1839.9 421.6L1850.0 457.8L1816.1 473.5L1806.0 483.7Z" stroke="#43aaeb"/>
<path d="M1850.0 457.8L1816.1 473.5" stroke="#5685fd" stroke-width="1.5499999999999998"/>
<path d="M1806.0 483.7L1816.1 473.5" stroke="#6071f8" stroke-width="1.5499999999999998"/>
<path d="M1829.8 475.5L1839.9 421.6L1806.0 483.7L1795.8 509.6Z" stroke="#5685fd"/>
<path d="M1839.9 421.6L1806.0 483.7" stroke="#43aaeb" stroke-width="1.5499999999999998"/>
<path d="M1795.8 509.6L1806.0 483.7" stroke="#605de8" stroke-width="1.5499999999999998"/>
<path d="M1819.6 534.0L1829.8 475.5L1795.8 509.6L1785.7 506.5Z" stroke="#605de8"/>
<path d="M1829.8 475.5L1795.8 509.6" stroke="#5685fd" stroke-width="1.5499999999999998"/>
<path d="M1809.5 517.5L1819.6 534.0L1785.7 506.5L1775.5 499.6Z" stroke="#605de8"/>
<path d="M1799.3 528.0L1809.5 517.5L1775.5 499.6L1765.4 517.8Z" stroke="#605de8"/>
<path d="M1789.2 517.3L1799.3 528.0L1765.4 517.8L1755.3 530.3Z" stroke="#6071f8"/>
<path d="M1799.3 528.0L1765.4 517.8" stroke="#605de8" stroke-width="1.5499999999999998"/>
<path d="M1755.3 530.3L1765.4 517.8" stroke="#5c4dca" stroke-width="1.5499999999999998"/>
<path d="M1779.1 524.6L1789.2 517.3L1755.3 530.3L1745.1 519.1Z" stroke="#605de8"/>
<path d="M1789.2 517.3L1755.3 530.3" stroke="#6071f8" stroke-width="1.5499999999999998"/>
<path d="M1768.9 531.6L1779.1 524.6L1745.1 519.1L1735.0 544.2Z" stroke="#605de8"/>
<path d="M1735.0 544.2L1745.1 519.1" stroke="#5c4dca" stroke-width="1.5499999999999998"/>
<path d="M1758.8 552.8L1768.9 531.6L1735.0 544.2L1724.9 539.7Z" stroke="#605de8"/>
<path d="M1724.9 539.7L1735.0 544.2" stroke="#5c4dca" stroke-width="1.5499999999999998"/>
<path d="M1748.7 506.0L1758.8 552.8L1724.9 539.7L1714.7 538.0Z" stroke="#6071f8"/>
<path d="M1758.8 552.8L1724.9 539.7" stroke="#605de8" stroke-width="1.5499999999999998"/>
<path d="M1714.7 538.0L1724.9 539.7" stroke="#605de8" stroke-width="1.5499999999999998"/>
<path d="M1738.5 531.3L1748.7 506.0L1714.7 538.0L1704.6 544.6Z" stroke="#6071f8"/>
<path d="M1704.6 544.6L1714.7 538.0" stroke="#5c4dca" stroke-width="1.5499999999999998"/>
<path d="M1728.4 544.2L1738.5 531.3L1704.6 544.6L1694.5 553.1Z" stroke="#605de8"/>
<path d="M1738.5 531.3L1704.6 544.6" stroke="#6071f8" stroke-width="1.5499999999999998"/>
<path d="M1694.5 553.1L1704.6 544.6" stroke="#5c4dca" stroke-width="1.5499999999999998"/>
<path d="M1718.3 551.0L1728.4 544.2L1694.5 553.1L1684.3 558.5Z" stroke="#605de8"/>
<path d="M1684.3 558.5L1694.5 553.1" stroke="#5c4dca" stroke-width="1.5499999999999998"/>
<path d="M1708.1 533.5L1718.3 551.0L1684.3 558.5L1674.2 555.4Z" stroke="#6071f8"/>
<path d="M1718.3 551.0L1684.3 558.5" stroke="#605de8" stroke-width="1.5499999999999998"/>
<path d="M1674.2 555.4L1684.3 558.5" stroke="#5c4dca" stroke-width="1.5499999999999998"/>
<path d="M1698.0 543.8L1708.1 533.5L1674.2 555.4L1664.1 563.2Z" stroke="#6071f8"/>
<path d="M1664.1 563.2L1674.2 555.4" stroke="#5c4dca" stroke-width="1.5499999999999998"/>
<path d="M1687.9 575.8L1698.0 543.8L1664.1 563.2L1653.9 572.5Z" stroke="#605de8"/>
<path d="M1698.0 543.8L1664.1 563.2" stroke="#6071f8" stroke-width="1.5499999999999998"/>
<path d="M1653.9 572.5L1664.1 563.2" stroke="#5c4dca" stroke-width="1.5499999999999998"/>
<path d="M1677.7 590.3L1687.9 575.8L1653.9 572.5L1643.8 573.6Z" stroke="#5c4dca"/>
<path d="M1687.9 575.8L1653.9 572.5" stroke="#605de8" stroke-width="1.5499999999999998"/>
<path d="M1667.6 592.1L1677.7 590.3L1643.8 573.6L1633.6 568.8Z" stroke="#5c4dca"/>
<path d="M1657.4 574.6L1667.6 592.1L1633.6 568.8L1623.5 558.7Z" stroke="#605de8"/>
<path d="M1667.6 592.1L1633.6 568.8" stroke="#5c4dca" stroke-width="1.5499999999999998"/>
<path d="M1647.3 570.8L1657.4 574.6L1623.5 558.7L1613.4 552.8Z" stroke="#605de8"/>
<path d="M1637.2 576.1L1647.3 570.8L1613.4 552.8L1603.2 564.9Z" stroke="#605de8"/>
<path d="M1627.0 593.5L1637.2 576.1L1603.2 564.9L1593.1 575.6Z" stroke="#605de8"/>
<path d="M1616.9 612.0L1627.0 593.5L1593.1 575.6L1583.0 587.2Z" stroke="#5c4dca"/>
<path d="M1627.0 593.5L1593.1 575.6" stroke="#605de8" stroke-width="1.5499999999999998"/>
<path d="M1606.8 593.7L1616.9 612.0L1583.0 587.2L1572.8 590.1Z" stroke="#605de8"/>
<path d="M1616.9 612.0L1583.0 587.2" stroke="#5c4dca" stroke-width="1.5499999999999998"/>
<path d="M1572.8 590.1L1583.0 587.2" stroke="#5c4dca" stroke-width="1.5499999999999998"/>
<path d="M1596.6 596.9L1606.8 593.7L1572.8 590.1L1562.7 587.0Z" stroke="#605de8"/>
<path d="M1586.5 607.1L1596.6 596.9L1562.7 587.0L1552.6 595.3Z" stroke="#605de8"/>
<path d="M1552.6 595.3L1562.7 587.0" stroke="#5c4dca" stroke-width="1.5499999999999998"/>
<path d="M1576.4 619.1L1586.5 607.1L1552.6 595.3L1542.4 598.4Z" stroke="#5c4dca"/>
<path d="M1586.5 607.1L1552.6 595.3" stroke="#605de8" stroke-width="1.5499999999999998"/>
<path d="M1566.2 604.5L1576.4 619.1L1542.4 598.4L1532.3 595.4Z" stroke="#605de8"/>
<path d="M1576.4 619.1L1542.4 598.4" stroke="#5c4dca" stroke-width="1.5499999999999998"/>
<path d="M1556.1 616.5L1566.2 604.5L1532.3 595.4L1522.1 598.6Z" stroke="#605de8"/>
<path d="M1545.9 616.5L1556.1 616.5L1522.1 598.6L1512.0 607.8Z" stroke="#605de8"/>
<path d="M1512.0 607.8L1522.1 598.6" stroke="#5c4dca" stroke-width="1.5499999999999998"/>
<path d="M1535.8 619.7L1545.9 616.5L1512.0 607.8L1501.9 616.5Z" stroke="#605de8"/>
<path d="M1501.9 616.5L1512.0 607.8" stroke="#5c4dca" stroke-width="1.5499999999999998"/>
<path d="M1525.7 624.4L1535.8 619.7L1501.9 616.5L1491.7 609.0Z" stroke="#605de8"/>
<path d="M1515.5 623.7L1525.7 624.4L1491.7 609.0L1481.6 609.6Z" stroke="#605de8"/>
<path d="M1505.4 645.5L1515.5 623.7L1481.6 609.6L1471.5 605.4Z" stroke="#5c4dca"/>
<path d="M1515.5 623.7L1481.6 609.6" stroke="#605de8" stroke-width="1.5499999999999998"/>
<path d="M1471.5 605.4L1481.6 609.6" stroke="#605de8" stroke-width="1.5499999999999998"/>
<path d="M1495.3 628.2L1505.4 645.5L1471.5 605.4L1461.3 621.9Z" stroke="#605de8"/>
<path d="M1505.4 645.5L1471.5 605.4" stroke="#5c4dca" stroke-width="1.5499999999999998"/>
<path d="M1461.3 621.9L1471.5 605.4" stroke="#5c4dca" stroke-width="1.5499999999999998"/>
<path d="M1485.1 644.6L1495.3 628.2L1461.3 621.9L1451.2 625.1Z" stroke="#5c4dca"/>
<path d="M1495.3 628.2L1461.3 621.9" stroke="#605de8" stroke-width="1.5499999999999998"/>
<path d="M1475.0 652.0L1485.1 644.6L1451.2 625.1L1441.1 626.9Z" stroke="#5c4dca"/>
<path d="M1464.9 621.8L1475.0 652.0L1441.1 626.9L1430.9 632.9Z" stroke="#605de8"/>
<path d="M1475.0 652.0L1441.1 626.9" stroke="#5c4dca" stroke-width="1.5499999999999998"/>
<path d="M1430.9 632.9L1441.1 626.9" stroke="#5c4dca" stroke-width="1.5499999999999998"/>
<path d="M1454.7 637.7L1464.9 621.8L1430.9 632.9L1420.8 635.3Z" stroke="#605de8"/>
<path d="M1420.8 635.3L1430.9 632.9" stroke="#5c4dca" stroke-width="1.5499999999999998"/>
<path d="M1444.6 651.0L1454.7 637.7L1420.8 635.3L1410.7 642.0Z" stroke="#605de8"/>
<path d="M1410.7 642.0L1420.8 635.3" stroke="#5c4dca" stroke-width="1.5499999999999998"/>
<path d="M1434.5 655.1L1444.6 651.0L1410.7 642.0L1400.5 637.2Z" stroke="#605de8"/>
<path d="M1424.3 615.3L1434.5 655.1L1400.5 637.2L1390.4 632.3Z" stroke="#6071f8"/>
<path d="M1434.5 655.1L1400.5 637.2" stroke="#605de8" stroke-width="1.5499999999999998"/>
<path d="M1390.4 632.3L1400.5 637.2" stroke="#605de8" stroke-width="1.5499999999999998"/>
<path d="M1414.2 650.3L1424.3 615.3L1390.4 632.3L1380.2 642.5Z" stroke="#605de8"/>
<path d="M1424.3 615.3L1390.4 632.3" stroke="#6071f8" stroke-width="1.5499999999999998"/>
<path d="M1404.0 653.4L1414.2 650.3L1380.2 642.5L1370.1 654.5Z" stroke="#605de8"/>
<path d="M1370.1 654.5L1380.2 642.5" stroke="#5c4dca" stroke-width="1.5499999999999998"/>
<path d="M1393.9 643.8L1404.0 653.4L1370.1 654.5L1360.0 641.7Z" stroke="#605de8"/>
<path d="M1383.8 626.0L1393.9 643.8L1360.0 641.7L1349.8 643.0Z" stroke="#6071f8"/>
<path d="M1393.9 643.8L1360.0 641.7" stroke="#605de8" stroke-width="1.5499999999999998"/>
<path d="M1349.8 643.0L1360.0 641.7" stroke="#605de8" stroke-width="1.5499999999999998"/>
<path d="M1373.6 659.5L1383.8 626.0L1349.8 643.0L1339.7 663.3Z" stroke="#605de8"/>
<path d="M1383.8 626.0L1349.8 643.0" stroke="#6071f8" stroke-width="1.5499999999999998"/>
<path d="M1339.7 663.3L1349.8 643.0" stroke="#5c4dca" stroke-width="1.5499999999999998"/>
<path d="M1884.0 492.6L1894.1 542.8L1860.2 471.5L1850.0 457.8Z" stroke="#6071f8"/>
<path d="M1894.1 542.8L1860.2 471.5" stroke="#5c4dca" stroke-width="1.5499999999999998"/>
<path d="M1850.0 457.8L1860.2 471.5" stroke="#5685fd" stroke-width="1.5499999999999998"/>
<path d="M1873.8 453.5L1884.0 492.6L1850.0 457.8L1839.9 421.6Z" stroke="#4b99f6"/>
<path d="M1884.0 492.6L1850.0 457.8" stroke="#6071f8" stroke-width="1.5499999999999998"/>
<path d="M1839.9 421.6L1850.0 457.8" stroke="#43aaeb" stroke-width="1.5499999999999998"/>
<path d="M1863.7 420.1L1873.8 453.5L1839.9 421.6L1829.8 475.5Z" stroke="#43aaeb"/>
<path d="M1873.8 453.5L1839.9 421.6" stroke="#4b99f6" stroke-width="1.5499999999999998"/>
<path d="M1829.8 475.5L1839.9 421.6" stroke="#5685fd" stroke-width="1.5499999999999998"/>
<path d="M1853.6 423.2L1863.7 420.1L1829.8 475.5L1819.6 534.0Z" stroke="#43aaeb"/>
<path d="M1819.6 534.0L1829.8 475.5" stroke="#605de8" stroke-width="1.5499999999999998"/>
<path d="M1843.4 524.6L1853.6 423.2L1819.6 534.0L1809.5 517.5Z" stroke="#6071f8"/>
<path d="M1853.6 423.2L1819.6 534.0" stroke="#43aaeb" stroke-width="1.5499999999999998"/>
<path d="M1809.5 517.5L1819.6 534.0" stroke="#605de8" stroke-width="1.5499999999999998"/>
<path d="M1833.3 485.4L1843.4 524.6L1809.5 517.5L1799.3 528.0Z" stroke="#5685fd"/>
<path d="M1843.4 524.6L1809.5 517.5" stroke="#6071f8" stroke-width="1.5499999999999998"/>
<path d="M1799.3 528.0L1809.5 517.5" stroke="#605de8" stroke-width="1.5499999999999998"/>
<path d="M1823.2 494.6L1833.3 485.4L1799.3 528.0L1789.2 517.3Z" stroke="#5685fd"/>
<path d="M1789.2 517.3L1799.3 528.0" stroke="#6071f8" stroke-width="1.5499999999999998"/>
<path d="M1813.0 542.5L1823.2 494.6L1789.2 517.3L1779.1 524.6Z" stroke="#605de8"/>
<path d="M1823.2 494.6L1789.2 517.3" stroke="#5685fd" stroke-width="1.5499999999999998"/>
<path d="M1802.9 517.7L1813.0 542.5L1779.1 524.6L1768.9 531.6Z" stroke="#6071f8"/>
<path d="M1813.0 542.5L1779.1 524.6" stroke="#605de8" stroke-width="1.5499999999999998"/>
<path d="M1768.9 531.6L1779.1 524.6" stroke="#605de8" stroke-width="1.5499999999999998"/>
<path d="M1792.7 571.7L1802.9 517.7L1768.9 531.6L1758.8 552.8Z" stroke="#605de8"/>
<path d="M1802.9 517.7L1768.9 531.6" stroke="#6071f8" stroke-width="1.5499999999999998"/>
<path d="M1782.6 509.5L1792.7 571.7L1758.8 552.8L1748.7 506.0Z" stroke="#5685fd"/>
<path d="M1792.7 571.7L1758.8 552.8" stroke="#605de8" stroke-width="1.5499999999999998"/>
<path d="M1748.7 506.0L1758.8 552.8" stroke="#6071f8" stroke-width="1.5499999999999998"/>
<path d="M1772.5 567.5L1782.6 509.5L1748.7 506.0L1738.5 531.3Z" stroke="#605de8"/>
<path d="M1782.6 509.5L1748.7 506.0" stroke="#5685fd" stroke-width="1.5499999999999998"/>
<path d="M1738.5 531.3L1748.7 506.0" stroke="#6071f8" stroke-width="1.5499999999999998"/>
<path d="M1762.3 586.6L1772.5 567.5L1738.5 531.3L1728.4 544.2Z" stroke="#5c4dca"/>
<path d="M1772.5 567.5L1738.5 531.3" stroke="#605de8" stroke-width="1.5499999999999998"/>
<path d="M1728.4 544.2L1738.5 531.3" stroke="#605de8" stroke-width="1.5499999999999998"/>
<path d="M1752.2 563.7L1762.3 586.6L1728.4 544.2L1718.3 551.0Z" stroke="#605de8"/>
<path d="M1762.3 586.6L1728.4 544.2" stroke="#5c4dca" stroke-width="1.5499999999999998"/>
<path d="M1742.1 566.8L1752.2 563.7L1718.3 551.0L1708.1 533.5Z" stroke="#605de8"/>
<path d="M1708.1 533.5L1718.3 551.0" stroke="#6071f8" stroke-width="1.5499999999999998"/>
<path d="M1731.9 580.0L1742.1 566.8L1708.1 533.5L1698.0 543.8Z" stroke="#605de8"/>
<path d="M1698.0 543.8L1708.1 533.5" stroke="#6071f8" stroke-width="1.5499999999999998"/>
<path d="M1721.8 589.3L1731.9 580.0L1698.0 543.8L1687.9 575.8Z" stroke="#605de8"/>
<path d="M1711.7 605.3L1721.8 589.3L1687.9 575.8L1677.7 590.3Z" stroke="#5c4dca"/>
<path d="M1721.8 589.3L1687.9 575.8" stroke="#605de8" stroke-width="1.5499999999999998"/>
<path d="M1701.5 582.4L1711.7 605.3L1677.7 590.3L1667.6 592.1Z" stroke="#605de8"/>
<path d="M1711.7 605.3L1677.7 590.3" stroke="#5c4dca" stroke-width="1.5499999999999998"/>
<path d="M1667.6 592.1L1677.7 590.3" stroke="#5c4dca" stroke-width="1.5499999999999998"/>
<path d="M1691.4 574.3L1701.5 582.4L1667.6 592.1L1657.4 574.6Z" stroke="#6071f8"/>
<path d="M1701.5 582.4L1667.6 592.1" stroke="#605de8" stroke-width="1.5499999999999998"/>
<path d="M1657.4 574.6L1667.6 592.1" stroke="#605de8" stroke-width="1.5499999999999998"/>
<path d="M1681.2 614.7L1691.4 574.3L1657.4 574.6L1647.3 570.8Z" stroke="#5c4dca"/>
<path d="M1691.4 574.3L1657.4 574.6" stroke="#6071f8" stroke-width="1.5499999999999998"/>
<path d="M1647.3 570.8L1657.4 574.6" stroke="#605de8" stroke-width="1.5499999999999998"/>
<path d="M1671.1 617.8L1681.2 614.7L1647.3 570.8L1637.2 576.1Z" stroke="#5c4dca"/>
<path d="M1637.2 576.1L1647.3 570.8" stroke="#605de8" stroke-width="1.5499999999999998"/>
<path d="M1661.0 623.4L1671.1 617.8L1637.2 576.1L1627.0 593.5Z" stroke="#5c4dca"/>
<path d="M1627.0 593.5L1637.2 576.1" stroke="#605de8" stroke-width="1.5499999999999998"/>
<path d="M1650.8 613.0L1661.0 623.4L1627.0 593.5L1616.9 612.0Z" stroke="#605de8"/>
<path d="M1661.0 623.4L1627.0 593.5" stroke="#5c4dca" stroke-width="1.5499999999999998"/>
<path d="M1616.9 612.0L1627.0 593.5" stroke="#5c4dca" stroke-width="1.5499999999999998"/>
<path d="M1640.7 622.0L1650.8 613.0L1616.9 612.0L1606.8 593.7Z" stroke="#5c4dca"/>
<path d="M1650.8 613.0L1616.9 612.0" stroke="#605de8" stroke-width="1.5499999999999998"/>
<path d="M1606.8 593.7L1616.9 612.0" stroke="#605de8" stroke-width="1.5499999999999998"/>
<path d="M1630.6 623.8L1640.7 622.0L1606.8 593.7L1596.6 596.9Z" stroke="#5c4dca"/>
<path d="M1596.6 596.9L1606.8 593.7" stroke="#605de8" stroke-width="1.5499999999999998"/>
<path d="M1620.4 626.9L1630.6 623.8L1596.6 596.9L1586.5 607.1Z" stroke="#5c4dca"/>
<path d="M1586.5 607.1L1596.6 596.9" stroke="#605de8" stroke-width="1.5499999999999998"/>
<path d="M1610.3 612.7L1620.4 626.9L1586.5 607.1L1576.4 619.1Z" stroke="#605de8"/>
<path d="M1620.4 626.9L1586.5 607.1" stroke="#5c4dca" stroke-width="1.5499999999999998"/>
<path d="M1576.4 619.1L1586.5 607.1" stroke="#5c4dca" stroke-width="1.5499999999999998"/>
<path d="M1600.2 639.6L1610.3 612.7L1576.4 619.1L1566.2 604.5Z" stroke="#5c4dca"/>
<path d="M1610.3 612.7L1576.4 619.1" stroke="#605de8" stroke-width="1.5499999999999998"/>
<path d="M1566.2 604.5L1576.4 619.1" stroke="#605de8" stroke-width="1.5499999999999998"/>
<path d="M1590.0 587.6L1600.2 639.6L1566.2 604.5L1556.1 616.5Z" stroke="#6071f8"/>
<path d="M1600.2 639.6L1566.2 604.5" stroke="#5c4dca" stroke-width="1.5499999999999998"/>
<path d="M1556.1 616.5L1566.2 604.5" stroke="#605de8" stroke-width="1.5499999999999998"/>
<path d="M1579.9 624.1L1590.0 587.6L1556.1 616.5L1545.9 616.5Z" stroke="#605de8"/>
<path d="M1590.0 587.6L1556.1 616.5" stroke="#6071f8" stroke-width="1.5499999999999998"/>
<path d="M1569.8 637.6L1579.9 624.1L1545.9 616.5L1535.8 619.7Z" stroke="#605de8"/>
<path d="M1559.6 640.7L1569.8 637.6L1535.8 619.7L1525.7 624.4Z" stroke="#605de8"/>
<path d="M1549.5 643.9L1559.6 640.7L1525.7 624.4L1515.5 623.7Z" stroke="#605de8"/>
<path d="M1539.3 657.3L1549.5 643.9L1515.5 623.7L1505.4 645.5Z" stroke="#5c4dca"/>
<path d="M1549.5 643.9L1515.5 623.7" stroke="#605de8" stroke-width="1.5499999999999998"/>
<path d="M1529.2 653.2L1539.3 657.3L1505.4 645.5L1495.3 628.2Z" stroke="#605de8"/>
<path d="M1539.3 657.3L1505.4 645.5" stroke="#5c4dca" stroke-width="1.5499999999999998"/>
<path d="M1519.1 654.9L1529.2 653.2L1495.3 628.2L1485.1 644.6Z" stroke="#605de8"/>
<path d="M1485.1 644.6L1495.3 628.2" stroke="#5c4dca" stroke-width="1.5499999999999998"/>
<path d="M1508.9 654.2L1519.1 654.9L1485.1 644.6L1475.0 652.0Z" stroke="#605de8"/>
<path d="M1475.0 652.0L1485.1 644.6" stroke="#5c4dca" stroke-width="1.5499999999999998"/>
<path d="M1498.8 659.6L1508.9 654.2L1475.0 652.0L1464.9 621.8Z" stroke="#605de8"/>
<path d="M1488.7 642.9L1498.8 659.6L1464.9 621.8L1454.7 637.7Z" stroke="#605de8"/>
<path d="M1478.5 637.9L1488.7 642.9L1454.7 637.7L1444.6 651.0Z" stroke="#6071f8"/>
<path d="M1488.7 642.9L1454.7 637.7" stroke="#605de8" stroke-width="1.5499999999999998"/>
<path d="M1444.6 651.0L1454.7 637.7" stroke="#605de8" stroke-width="1.5499999999999998"/>
<path d="M1468.4 674.0L1478.5 637.9L1444.6 651.0L1434.5 655.1Z" stroke="#5c4dca"/>
<path d="M1478.5 637.9L1444.6 651.0" stroke="#6071f8" stroke-width="1.5499999999999998"/>
<path d="M1434.5 655.1L1444.6 651.0" stroke="#605de8" stroke-width="1.5499999999999998"/>
<path d="M1458.3 665.0L1468.4 674.0L1434.5 655.1L1424.3 615.3Z" stroke="#605de8"/>
<path d="M1468.4 674.0L1434.5 655.1" stroke="#5c4dca" stroke-width="1.5499999999999998"/>
<path d="M1424.3 615.3L1434.5 655.1" stroke="#6071f8" stroke-width="1.5499999999999998"/>
<path d="M1448.1 636.4L1458.3 665.0L1424.3 615.3L1414.2 650.3Z" stroke="#6071f8"/>
<path d="M1458.3 665.0L1424.3 615.3" stroke="#605de8" stroke-width="1.5499999999999998"/>
<path d="M1414.2 650.3L1424.3 615.3" stroke="#605de8" stroke-width="1.5499999999999998"/>
<path d="M1438.0 644.2L1448.1 636.4L1414.2 650.3L1404.0 653.4Z" stroke="#6071f8"/>
<path d="M1404.0 653.4L1414.2 650.3" stroke="#605de8" stroke-width="1.5499999999999998"/>
<path d="M1427.8 664.0L1438.0 644.2L1404.0 653.4L1393.9 643.8Z" stroke="#605de8"/>
<path d="M1438.0 644.2L1404.0 653.4" stroke="#6071f8" stroke-width="1.5499999999999998"/>
<path d="M1417.7 645.8L1427.8 664.0L1393.9 643.8L1383.8 626.0Z" stroke="#6071f8"/>
<path d="M1427.8 664.0L1393.9 643.8" stroke="#605de8" stroke-width="1.5499999999999998"/>
<path d="M1407.6 662.3L1417.7 645.8L1383.8 626.0L1373.6 659.5Z" stroke="#6071f8"/>
<path d="M1373.6 659.5L1383.8 626.0" stroke="#605de8" stroke-width="1.5499999999999998"/>
<path d="M1917.9 268.2L1928.0 458.2L1894.1 542.8L1884.0 492.6Z" stroke="#eac650"/>
<path d="M1928.0 458.2L1894.1 542.8" stroke="#4b99f6" stroke-width="1.5499999999999998"/>
<path d="M1884.0 492.6L1894.1 542.8" stroke="#6071f8" stroke-width="1.5499999999999998"/>
<path d="M1907.8 164.3L1917.9 268.2L1884.0 492.6L1873.8 453.5Z" stroke="#fafb35"/>
<path d="M1917.9 268.2L1884.0 492.6" stroke="#eac650" stroke-width="1.5499999999999998"/>
<path d="M1873.8 453.5L1884.0 492.6" stroke="#4b99f6" stroke-width="1.5499999999999998"/>
<path d="M1897.6 154.6L1907.8 164.3L1873.8 453.5L1863.7 420.1Z" stroke="#fafb35"/>
<path d="M1863.7 420.1L1873.8 453.5" stroke="#43aaeb" stroke-width="1.5499999999999998"/>
<path d="M1887.5 269.1L1897.6 154.6L1863.7 420.1L1853.6 423.2Z" stroke="#eac650"/>
<path d="M1897.6 154.6L1863.7 420.1" stroke="#fafb35" stroke-width="1.5499999999999998"/>
<path d="M1853.6 423.2L1863.7 420.1" stroke="#43aaeb" stroke-width="1.5499999999999998"/>
<path d="M1877.4 493.9L1887.5 269.1L1853.6 423.2L1843.4 524.6Z" stroke="#4b99f6"/>
<path d="M1887.5 269.1L1853.6 423.2" stroke="#eac650" stroke-width="1.5499999999999998"/>
<path d="M1843.4 524.6L1853.6 423.2" stroke="#6071f8" stroke-width="1.5499999999999998"/>
<path d="M1867.2 545.7L1877.4 493.9L1843.4 524.6L1833.3 485.4Z" stroke="#6071f8"/>
<path d="M1877.4 493.9L1843.4 524.6" stroke="#4b99f6" stroke-width="1.5499999999999998"/>
<path d="M1833.3 485.4L1843.4 524.6" stroke="#5685fd" stroke-width="1.5499999999999998"/>
<path d="M1857.1 450.5L1867.2 545.7L1833.3 485.4L1823.2 494.6Z" stroke="#43aaeb"/>
<path d="M1867.2 545.7L1833.3 485.4" stroke="#6071f8" stroke-width="1.5499999999999998"/>
<path d="M1823.2 494.6L1833.3 485.4" stroke="#5685fd" stroke-width="1.5499999999999998"/>
<path d="M1847.0 505.9L1857.1 450.5L1823.2 494.6L1813.0 542.5Z" stroke="#5685fd"/>
<path d="M1857.1 450.5L1823.2 494.6" stroke="#43aaeb" stroke-width="1.5499999999999998"/>
<path d="M1813.0 542.5L1823.2 494.6" stroke="#605de8" stroke-width="1.5499999999999998"/>
<path d="M1836.8 550.5L1847.0 505.9L1813.0 542.5L1802.9 517.7Z" stroke="#6071f8"/>
<path d="M1847.0 505.9L1813.0 542.5" stroke="#5685fd" stroke-width="1.5499999999999998"/>
<path d="M1826.7 538.7L1836.8 550.5L1802.9 517.7L1792.7 571.7Z" stroke="#6071f8"/>
<path d="M1792.7 571.7L1802.9 517.7" stroke="#605de8" stroke-width="1.5499999999999998"/>
<path d="M1816.5 552.0L1826.7 538.7L1792.7 571.7L1782.6 509.5Z" stroke="#6071f8"/>
<path d="M1782.6 509.5L1792.7 571.7" stroke="#5685fd" stroke-width="1.5499999999999998"/>
<path d="M1806.4 525.8L1816.5 552.0L1782.6 509.5L1772.5 567.5Z" stroke="#5685fd"/>
<path d="M1816.5 552.0L1782.6 509.5" stroke="#6071f8" stroke-width="1.5499999999999998"/>
<path d="M1772.5 567.5L1782.6 509.5" stroke="#605de8" stroke-width="1.5499999999999998"/>
<path d="M1796.3 590.5L1806.4 525.8L1772.5 567.5L1762.3 586.6Z" stroke="#605de8"/>
<path d="M1806.4 525.8L1772.5 567.5" stroke="#5685fd" stroke-width="1.5499999999999998"/>
<path d="M1762.3 586.6L1772.5 567.5" stroke="#5c4dca" stroke-width="1.5499999999999998"/>
<path d="M1786.1 579.2L1796.3 590.5L1762.3 586.6L1752.2 563.7Z" stroke="#605de8"/>
<path d="M1776.0 598.6L1786.1 579.2L1752.2 563.7L1742.1 566.8Z" stroke="#605de8"/>
<path d="M1765.9 609.5L1776.0 598.6L1742.1 566.8L1731.9 580.0Z" stroke="#605de8"/>
<path d="M1755.7 601.1L1765.9 609.5L1731.9 580.0L1721.8 589.3Z" stroke="#605de8"/>
<path d="M1745.6 613.7L1755.7 601.1L1721.8 589.3L1711.7 605.3Z" stroke="#605de8"/>
<path d="M1711.7 605.3L1721.8 589.3" stroke="#5c4dca" stroke-width="1.5499999999999998"/>
<path d="M1735.5 606.0L1745.6 613.7L1711.7 605.3L1701.5 582.4Z" stroke="#605de8"/>
<path d="M1725.3 621.0L1735.5 606.0L1701.5 582.4L1691.4 574.3Z" stroke="#605de8"/>
<path d="M1691.4 574.3L1701.5 582.4" stroke="#6071f8" stroke-width="1.5499999999999998"/>
<path d="M1715.2 598.7L1725.3 621.0L1691.4 574.3L1681.2 614.7Z" stroke="#6071f8"/>
<path d="M1725.3 621.0L1691.4 574.3" stroke="#605de8" stroke-width="1.5499999999999998"/>
<path d="M1681.2 614.7L1691.4 574.3" stroke="#5c4dca" stroke-width="1.5499999999999998"/>
<path d="M1705.0 616.8L1715.2 598.7L1681.2 614.7L1671.1 617.8Z" stroke="#605de8"/>
<path d="M1715.2 598.7L1681.2 614.7" stroke="#6071f8" stroke-width="1.5499999999999998"/>
<path d="M1671.1 617.8L1681.2 614.7" stroke="#5c4dca" stroke-width="1.5499999999999998"/>
<path d="M1694.9 629.4L1705.0 616.8L1671.1 617.8L1661.0 623.4Z" stroke="#605de8"/>
<path d="M1661.0 623.4L1671.1 617.8" stroke="#5c4dca" stroke-width="1.5499999999999998"/>
<path d="M1684.8 621.7L1694.9 629.4L1661.0 623.4L1650.8 613.0Z" stroke="#605de8"/>
<path d="M1674.6 644.9L1684.8 621.7L1650.8 613.0L1640.7 622.0Z" stroke="#5c4dca"/>
<path d="M1684.8 621.7L1650.8 613.0" stroke="#605de8" stroke-width="1.5499999999999998"/>
<path d="M1664.5 639.8L1674.6 644.9L1640.7 622.0L1630.6 623.8Z" stroke="#605de8"/>
<path d="M1674.6 644.9L1640.7 622.0" stroke="#5c4dca" stroke-width="1.5499999999999998"/>
<path d="M1630.6 623.8L1640.7 622.0" stroke="#5c4dca" stroke-width="1.5499999999999998"/>
<path d="M1654.4 646.2L1664.5 639.8L1630.6 623.8L1620.4 626.9Z" stroke="#5c4dca"/>
<path d="M1664.5 639.8L1630.6 623.8" stroke="#605de8" stroke-width="1.5499999999999998"/>
<path d="M1644.2 637.2L1654.4 646.2L1620.4 626.9L1610.3 612.7Z" stroke="#605de8"/>
<path d="M1654.4 646.2L1620.4 626.9" stroke="#5c4dca" stroke-width="1.5499999999999998"/>
<path d="M1634.1 657.5L1644.2 637.2L1610.3 612.7L1600.2 639.6Z" stroke="#5c4dca"/>
<path d="M1644.2 637.2L1610.3 612.7" stroke="#605de8" stroke-width="1.5499999999999998"/>
<path d="M1624.0 645.3L1634.1 657.5L1600.2 639.6L1590.0 587.6Z" stroke="#605de8"/>
<path d="M1634.1 657.5L1600.2 639.6" stroke="#5c4dca" stroke-width="1.5499999999999998"/>
<path d="M1590.0 587.6L1600.2 639.6" stroke="#6071f8" stroke-width="1.5499999999999998"/>
<path d="M1613.8 663.8L1624.0 645.3L1590.0 587.6L1579.9 624.1Z" stroke="#5c4dca"/>
<path d="M1624.0 645.3L1590.0 587.6" stroke="#605de8" stroke-width="1.5499999999999998"/>
<path d="M1579.9 624.1L1590.0 587.6" stroke="#605de8" stroke-width="1.5499999999999998"/>
<path d="M1603.7 666.9L1613.8 663.8L1579.9 624.1L1569.8 637.6Z" stroke="#5c4dca"/>
<path d="M1569.8 637.6L1579.9 624.1" stroke="#605de8" stroke-width="1.5499999999999998"/>
<path d="M1593.6 654.7L1603.7 666.9L1569.8 637.6L1559.6 640.7Z" stroke="#605de8"/>
<path d="M1603.7 666.9L1569.8 637.6" stroke="#5c4dca" stroke-width="1.5499999999999998"/>
<path d="M1583.4 670.2L1593.6 654.7L1559.6 640.7L1549.5 643.9Z" stroke="#5c4dca"/>
<path d="M1593.6 654.7L1559.6 640.7" stroke="#605de8" stroke-width="1.5499999999999998"/>
<path d="M1549.5 643.9L1559.6 640.7" stroke="#605de8" stroke-width="1.5499999999999998"/>
<path d="M1573.3 621.2L1583.4 670.2L1549.5 643.9L1539.3 657.3Z" stroke="#6071f8"/>
<path d="M1583.4 670.2L1549.5 643.9" stroke="#5c4dca" stroke-width="1.5499999999999998"/>
<path d="M1539.3 657.3L1549.5 643.9" stroke="#5c4dca" stroke-width="1.5499999999999998"/>
<path d="M1563.1 657.7L1573.3 621.2L1539.3 657.3L1529.2 653.2Z" stroke="#605de8"/>
<path d="M1573.3 621.2L1539.3 657.3" stroke="#6071f8" stroke-width="1.5499999999999998"/>
<path d="M1553.0 602.5L1563.1 657.7L1529.2 653.2L1519.1 654.9Z" stroke="#5685fd"/>
<path d="M1563.1 657.7L1529.2 653.2" stroke="#605de8" stroke-width="1.5499999999999998"/>
<path d="M1519.1 654.9L1529.2 653.2" stroke="#605de8" stroke-width="1.5499999999999998"/>
<path d="M1542.9 577.9L1553.0 602.5L1519.1 654.9L1508.9 654.2Z" stroke="#4b99f6"/>
<path d="M1553.0 602.5L1519.1 654.9" stroke="#5685fd" stroke-width="1.5499999999999998"/>
<path d="M1508.9 654.2L1519.1 654.9" stroke="#605de8" stroke-width="1.5499999999999998"/>
<path d="M1532.7 523.0L1542.9 577.9L1508.9 654.2L1498.8 659.6Z" stroke="#33b9de"/>
<path d="M1542.9 577.9L1508.9 654.2" stroke="#4b99f6" stroke-width="1.5499999999999998"/>
<path d="M1498.8 659.6L1508.9 654.2" stroke="#605de8" stroke-width="1.5499999999999998"/>
<path d="M1522.6 498.0L1532.7 523.0L1498.8 659.6L1488.7 642.9Z" stroke="#48ccb1"/>
<path d="M1532.7 523.0L1498.8 659.6" stroke="#33b9de" stroke-width="1.5499999999999998"/>
<path d="M1488.7 642.9L1498.8 659.6" stroke="#605de8" stroke-width="1.5499999999999998"/>
<path d="M1512.5 469.0L1522.6 498.0L1488.7 642.9L1478.5 637.9Z" stroke="#69d292"/>
<path d="M1522.6 498.0L1488.7 642.9" stroke="#48ccb1" stroke-width="1.5499999999999998"/>
<path d="M1478.5 637.9L1488.7 642.9" stroke="#6071f8" stroke-width="1.5499999999999998"/>
<path d="M1502.3 423.9L1512.5 469.0L1478.5 637.9L1468.4 674.0Z" stroke="#c4cc50"/>
<path d="M1512.5 469.0L1478.5 637.9" stroke="#69d292" stroke-width="1.5499999999999998"/>
<path d="M1468.4 674.0L1478.5 637.9" stroke="#5c4dca" stroke-width="1.5499999999999998"/>
<path d="M1492.2 386.9L1502.3 423.9L1468.4 674.0L1458.3 665.0Z" stroke="#eac650"/>
<path d="M1502.3 423.9L1468.4 674.0" stroke="#c4cc50" stroke-width="1.5499999999999998"/>
<path d="M1458.3 665.0L1468.4 674.0" stroke="#605de8" stroke-width="1.5499999999999998"/>
<path d="M1482.1 365.9L1492.2 386.9L1458.3 665.0L1448.1 636.4Z" stroke="#fbce52"/>
<path d="M1492.2 386.9L1458.3 665.0" stroke="#eac650" stroke-width="1.5499999999999998"/>
<path d="M1448.1 636.4L1458.3 665.0" stroke="#6071f8" stroke-width="1.5499999999999998"/>
<path d="M1471.9 409.2L1482.1 365.9L1448.1 636.4L1438.0 644.2Z" stroke="#c4cc50"/>
<path d="M1482.1 365.9L1448.1 636.4" stroke="#fbce52" stroke-width="1.5499999999999998"/>
<path d="M1438.0 644.2L1448.1 636.4" stroke="#6071f8" stroke-width="1.5499999999999998"/>
<path d="M1461.8 468.6L1471.9 409.2L1438.0 644.2L1427.8 664.0Z" stroke="#69d292"/>
<path d="M1471.9 409.2L1438.0 644.2" stroke="#c4cc50" stroke-width="1.5499999999999998"/>
<path d="M1427.8 664.0L1438.0 644.2" stroke="#605de8" stroke-width="1.5499999999999998"/>
<path d="M1451.6 585.0L1461.8 468.6L1427.8 664.0L1417.7 645.8Z" stroke="#43aaeb"/>
<path d="M1461.8 468.6L1427.8 664.0" stroke="#69d292" stroke-width="1.5499999999999998"/>
<path d="M1417.7 645.8L1427.8 664.0" stroke="#6071f8" stroke-width="1.5499999999999998"/>
<path d="M1441.5 634.7L1451.6 585.0L1417.7 645.8L1407.6 662.3Z" stroke="#5685fd"/>
<path d="M1451.6 585.0L1417.7 645.8" stroke="#43aaeb" stroke-width="1.5499999999999998"/>
<path d="M1407.6 662.3L1417.7 645.8" stroke="#6071f8" stroke-width="1.5499999999999998"/>
<path d="M1951.8 564.0L1962.0 542.1L1928.0 458.2L1917.9 268.2Z" stroke="#605de8"/>
<path d="M1962.0 542.1L1928.0 458.2" stroke="#6071f8" stroke-width="1.5499999999999998"/>
<path d="M1917.9 268.2L1928.0 458.2" stroke="#eac650" stroke-width="1.5499999999999998"/>
<path d="M1941.7 581.5L1951.8 564.0L1917.9 268.2L1907.8 164.3Z" stroke="#605de8"/>
<path d="M1907.8 164.3L1917.9 268.2" stroke="#fafb35" stroke-width="1.5499999999999998"/>
<path d="M1931.6 551.5L1941.7 581.5L1907.8 164.3L1897.6 154.6Z" stroke="#6071f8"/>
<path d="M1941.7 581.5L1907.8 164.3" stroke="#605de8" stroke-width="1.5499999999999998"/>
<path d="M1897.6 154.6L1907.8 164.3" stroke="#fafb35" stroke-width="1.5499999999999998"/>
<path d="M1921.4 541.0L1931.6 551.5L1897.6 154.6L1887.5 269.1Z" stroke="#6071f8"/>
<path d="M1887.5 269.1L1897.6 154.6" stroke="#eac650" stroke-width="1.5499999999999998"/>
<path d="M1911.3 566.5L1921.4 541.0L1887.5 269.1L1877.4 493.9Z" stroke="#6071f8"/>
<path d="M1877.4 493.9L1887.5 269.1" stroke="#4b99f6" stroke-width="1.5499999999999998"/>
<path d="M1901.2 549.3L1911.3 566.5L1877.4 493.9L1867.2 545.7Z" stroke="#6071f8"/>
<path d="M1891.0 575.2L1901.2 549.3L1867.2 545.7L1857.1 450.5Z" stroke="#605de8"/>
<path d="M1901.2 549.3L1867.2 545.7" stroke="#6071f8" stroke-width="1.5499999999999998"/>
<path d="M1857.1 450.5L1867.2 545.7" stroke="#43aaeb" stroke-width="1.5499999999999998"/>
<path d="M1880.9 601.3L1891.0 575.2L1857.1 450.5L1847.0 505.9Z" stroke="#605de8"/>
<path d="M1847.0 505.9L1857.1 450.5" stroke="#5685fd" stroke-width="1.5499999999999998"/>
<path d="M1870.8 593.9L1880.9 601.3L1847.0 505.9L1836.8 550.5Z" stroke="#605de8"/>
<path d="M1836.8 550.5L1847.0 505.9" stroke="#6071f8" stroke-width="1.5499999999999998"/>
<path d="M1860.6 599.0L1870.8 593.9L1836.8 550.5L1826.7 538.7Z" stroke="#605de8"/>
<path d="M1826.7 538.7L1836.8 550.5" stroke="#6071f8" stroke-width="1.5499999999999998"/>
<path d="M1850.5 593.2L1860.6 599.0L1826.7 538.7L1816.5 552.0Z" stroke="#605de8"/>
<path d="M1816.5 552.0L1826.7 538.7" stroke="#6071f8" stroke-width="1.5499999999999998"/>
<path d="M1840.3 616.3L1850.5 593.2L1816.5 552.0L1806.4 525.8Z" stroke="#5c4dca"/>
<path d="M1850.5 593.2L1816.5 552.0" stroke="#605de8" stroke-width="1.5499999999999998"/>
<path d="M1806.4 525.8L1816.5 552.0" stroke="#5685fd" stroke-width="1.5499999999999998"/>
<path d="M1830.2 599.4L1840.3 616.3L1806.4 525.8L1796.3 590.5Z" stroke="#605de8"/>
<path d="M1840.3 616.3L1806.4 525.8" stroke="#5c4dca" stroke-width="1.5499999999999998"/>
<path d="M1820.1 621.1L1830.2 599.4L1796.3 590.5L1786.1 579.2Z" stroke="#605de8"/>
<path d="M1809.9 620.6L1820.1 621.1L1786.1 579.2L1776.0 598.6Z" stroke="#605de8"/>
<path d="M1799.8 628.8L1809.9 620.6L1776.0 598.6L1765.9 609.5Z" stroke="#5c4dca"/>
<path d="M1809.9 620.6L1776.0 598.6" stroke="#605de8" stroke-width="1.5499999999999998"/>
<path d="M1765.9 609.5L1776.0 598.6" stroke="#605de8" stroke-width="1.5499999999999998"/>
<path d="M1789.7 619.0L1799.8 628.8L1765.9 609.5L1755.7 601.1Z" stroke="#605de8"/>
<path d="M1799.8 628.8L1765.9 609.5" stroke="#5c4dca" stroke-width="1.5499999999999998"/>
<path d="M1779.5 639.3L1789.7 619.0L1755.7 601.1L1745.6 613.7Z" stroke="#5c4dca"/>
<path d="M1789.7 619.0L1755.7 601.1" stroke="#605de8" stroke-width="1.5499999999999998"/>
<path d="M1745.6 613.7L1755.7 601.1" stroke="#605de8" stroke-width="1.5499999999999998"/>
<path d="M1769.4 631.5L1779.5 639.3L1745.6 613.7L1735.5 606.0Z" stroke="#605de8"/>
<path d="M1779.5 639.3L1745.6 613.7" stroke="#5c4dca" stroke-width="1.5499999999999998"/>
<path d="M1759.3 646.7L1769.4 631.5L1735.5 606.0L1725.3 621.0Z" stroke="#5c4dca"/>
<path d="M1769.4 631.5L1735.5 606.0" stroke="#605de8" stroke-width="1.5499999999999998"/>
<path d="M1725.3 621.0L1735.5 606.0" stroke="#605de8" stroke-width="1.5499999999999998"/>
<path d="M1749.1 653.0L1759.3 646.7L1725.3 621.0L1715.2 598.7Z" stroke="#5c4dca"/>
<path d="M1715.2 598.7L1725.3 621.0" stroke="#6071f8" stroke-width="1.5499999999999998"/>
<path d="M1739.0 649.0L1749.1 653.0L1715.2 598.7L1705.0 616.8Z" stroke="#5c4dca"/>
<path d="M1705.0 616.8L1715.2 598.7" stroke="#605de8" stroke-width="1.5499999999999998"/>
<path d="M1728.9 648.4L1739.0 649.0L1705.0 616.8L1694.9 629.4Z" stroke="#605de8"/>
<path d="M1739.0 649.0L1705.0 616.8" stroke="#5c4dca" stroke-width="1.5499999999999998"/>
<path d="M1718.7 648.8L1728.9 648.4L1694.9 629.4L1684.8 621.7Z" stroke="#605de8"/>
<path d="M1708.6 647.5L1718.7 648.8L1684.8 621.7L1674.6 644.9Z" stroke="#605de8"/>
<path d="M1674.6 644.9L1684.8 621.7" stroke="#5c4dca" stroke-width="1.5499999999999998"/>
<path d="M1698.4 644.3L1708.6 647.5L1674.6 644.9L1664.5 639.8Z" stroke="#605de8"/>
<path d="M1688.3 662.8L1698.4 644.3L1664.5 639.8L1654.4 646.2Z" stroke="#5c4dca"/>
<path d="M1698.4 644.3L1664.5 639.8" stroke="#605de8" stroke-width="1.5499999999999998"/>
<path d="M1678.2 674.4L1688.3 662.8L1654.4 646.2L1644.2 637.2Z" stroke="#5c4dca"/>
<path d="M1644.2 637.2L1654.4 646.2" stroke="#605de8" stroke-width="1.5499999999999998"/>
<path d="M1668.0 677.5L1678.2 674.4L1644.2 637.2L1634.1 657.5Z" stroke="#5c4dca"/>
<path d="M1657.9 660.1L1668.0 677.5L1634.1 657.5L1624.0 645.3Z" stroke="#605de8"/>
<path d="M1668.0 677.5L1634.1 657.5" stroke="#5c4dca" stroke-width="1.5499999999999998"/>
<path d="M1647.8 673.4L1657.9 660.1L1624.0 645.3L1613.8 663.8Z" stroke="#605de8"/>
<path d="M1613.8 663.8L1624.0 645.3" stroke="#5c4dca" stroke-width="1.5499999999999998"/>
<path d="M1637.6 685.5L1647.8 673.4L1613.8 663.8L1603.7 666.9Z" stroke="#5c4dca"/>
<path d="M1647.8 673.4L1613.8 663.8" stroke="#605de8" stroke-width="1.5499999999999998"/>
<path d="M1627.5 690.1L1637.6 685.5L1603.7 666.9L1593.6 654.7Z" stroke="#5c4dca"/>
<path d="M1593.6 654.7L1603.7 666.9" stroke="#605de8" stroke-width="1.5499999999999998"/>
<path d="M1617.4 678.6L1627.5 690.1L1593.6 654.7L1583.4 670.2Z" stroke="#605de8"/>
<path d="M1627.5 690.1L1593.6 654.7" stroke="#5c4dca" stroke-width="1.5499999999999998"/>
<path d="M1583.4 670.2L1593.6 654.7" stroke="#5c4dca" stroke-width="1.5499999999999998"/>
<path d="M1607.2 684.4L1617.4 678.6L1583.4 670.2L1573.3 621.2Z" stroke="#605de8"/>
<path d="M1573.3 621.2L1583.4 670.2" stroke="#6071f8" stroke-width="1.5499999999999998"/>
<path d="M1597.1 699.5L1607.2 684.4L1573.3 621.2L1563.1 657.7Z" stroke="#5c4dca"/>
<path d="M1607.2 684.4L1573.3 621.2" stroke="#605de8" stroke-width="1.5499999999999998"/>
<path d="M1563.1 657.7L1573.3 621.2" stroke="#605de8" stroke-width="1.5499999999999998"/>
<path d="M1586.9 667.8L1597.1 699.5L1563.1 657.7L1553.0 602.5Z" stroke="#605de8"/>
<path d="M1597.1 699.5L1563.1 657.7" stroke="#5c4dca" stroke-width="1.5499999999999998"/>
<path d="M1553.0 602.5L1563.1 657.7" stroke="#5685fd" stroke-width="1.5499999999999998"/>
<path d="M1576.8 677.0L1586.9 667.8L1553.0 602.5L1542.9 577.9Z" stroke="#605de8"/>
<path d="M1542.9 577.9L1553.0 602.5" stroke="#4b99f6" stroke-width="1.5499999999999998"/>
<path d="M1566.7 624.4L1576.8 677.0L1542.9 577.9L1532.7 523.0Z" stroke="#5685fd"/>
<path d="M1576.8 677.0L1542.9 577.9" stroke="#605de8" stroke-width="1.5499999999999998"/>
<path d="M1532.7 523.0L1542.9 577.9" stroke="#33b9de" stroke-width="1.5499999999999998"/>
<path d="M1556.5 570.4L1566.7 624.4L1532.7 523.0L1522.6 498.0Z" stroke="#43aaeb"/>
<path d="M1566.7 624.4L1532.7 523.0" stroke="#5685fd" stroke-width="1.5499999999999998"/>
<path d="M1522.6 498.0L1532.7 523.0" stroke="#48ccb1" stroke-width="1.5499999999999998"/>
<path d="M1546.4 573.6L1556.5 570.4L1522.6 498.0L1512.5 469.0Z" stroke="#43aaeb"/>
<path d="M1512.5 469.0L1522.6 498.0" stroke="#69d292" stroke-width="1.5499999999999998"/>
<path d="M1536.3 494.1L1546.4 573.6L1512.5 469.0L1502.3 423.9Z" stroke="#69d292"/>
<path d="M1546.4 573.6L1512.5 469.0" stroke="#43aaeb" stroke-width="1.5499999999999998"/>
<path d="M1502.3 423.9L1512.5 469.0" stroke="#c4cc50" stroke-width="1.5499999999999998"/>
<path d="M1526.1 404.8L1536.3 494.1L1502.3 423.9L1492.2 386.9Z" stroke="#eac650"/>
<path d="M1536.3 494.1L1502.3 423.9" stroke="#69d292" stroke-width="1.5499999999999998"/>
<path d="M1516.0 347.7L1526.1 404.8L1492.2 386.9L1482.1 365.9Z" stroke="#f9e247"/>
<path d="M1526.1 404.8L1492.2 386.9" stroke="#eac650" stroke-width="1.5499999999999998"/>
<path d="M1482.1 365.9L1492.2 386.9" stroke="#fbce52" stroke-width="1.5499999999999998"/>
<path d="M1505.9 391.0L1516.0 347.7L1482.1 365.9L1471.9 409.2Z" stroke="#fbce52"/>
<path d="M1516.0 347.7L1482.1 365.9" stroke="#f9e247" stroke-width="1.5499999999999998"/>
<path d="M1471.9 409.2L1482.1 365.9" stroke="#c4cc50" stroke-width="1.5499999999999998"/>
<path d="M1495.7 502.6L1505.9 391.0L1471.9 409.2L1461.8 468.6Z" stroke="#69d292"/>
<path d="M1505.9 391.0L1471.9 409.2" stroke="#fbce52" stroke-width="1.5499999999999998"/>
<path d="M1485.6 602.9L1495.7 502.6L1461.8 468.6L1451.6 585.0Z" stroke="#43aaeb"/>
<path d="M1495.7 502.6L1461.8 468.6" stroke="#69d292" stroke-width="1.5499999999999998"/>
<path d="M1475.5 664.1L1485.6 602.9L1451.6 585.0L1441.5 634.7Z" stroke="#5685fd"/>
<path d="M1485.6 602.9L1451.6 585.0" stroke="#43aaeb" stroke-width="1.5499999999999998"/>
<path d="M1985.8 586.8L1995.9 606.1L1962.0 542.1L1951.8 564.0Z" stroke="#605de8"/>
<path d="M1995.9 606.1L1962.0 542.1" stroke="#5c4dca" stroke-width="1.5499999999999998"/>
<path d="M1975.6 575.0L1985.8 586.8L1951.8 564.0L1941.7 581.5Z" stroke="#6071f8"/>
<path d="M1985.8 586.8L1951.8 564.0" stroke="#605de8" stroke-width="1.5499999999999998"/>
<path d="M1941.7 581.5L1951.8 564.0" stroke="#605de8" stroke-width="1.5499999999999998"/>
<path d="M1965.5 574.7L1975.6 575.0L1941.7 581.5L1931.6 551.5Z" stroke="#6071f8"/>
<path d="M1955.4 577.9L1965.5 574.7L1931.6 551.5L1921.4 541.0Z" stroke="#6071f8"/>
<path d="M1945.2 578.4L1955.4 577.9L1921.4 541.0L1911.3 566.5Z" stroke="#6071f8"/>
<path d="M1935.1 593.9L1945.2 578.4L1911.3 566.5L1901.2 549.3Z" stroke="#605de8"/>
<path d="M1945.2 578.4L1911.3 566.5" stroke="#6071f8" stroke-width="1.5499999999999998"/>
<path d="M1901.2 549.3L1911.3 566.5" stroke="#6071f8" stroke-width="1.5499999999999998"/>
<path d="M1925.0 627.5L1935.1 593.9L1901.2 549.3L1891.0 575.2Z" stroke="#5c4dca"/>
<path d="M1935.1 593.9L1901.2 549.3" stroke="#605de8" stroke-width="1.5499999999999998"/>
<path d="M1891.0 575.2L1901.2 549.3" stroke="#605de8" stroke-width="1.5499999999999998"/>
<path d="M1914.8 614.9L1925.0 627.5L1891.0 575.2L1880.9 601.3Z" stroke="#605de8"/>
<path d="M1925.0 627.5L1891.0 575.2" stroke="#5c4dca" stroke-width="1.5499999999999998"/>
<path d="M1904.7 618.0L1914.8 614.9L1880.9 601.3L1870.8 593.9Z" stroke="#605de8"/>
<path d="M1894.6 640.1L1904.7 618.0L1870.8 593.9L1860.6 599.0Z" stroke="#5c4dca"/>
<path d="M1904.7 618.0L1870.8 593.9" stroke="#605de8" stroke-width="1.5499999999999998"/>
<path d="M1860.6 599.0L1870.8 593.9" stroke="#605de8" stroke-width="1.5499999999999998"/>
<path d="M1884.4 624.3L1894.6 640.1L1860.6 599.0L1850.5 593.2Z" stroke="#605de8"/>
<path d="M1894.6 640.1L1860.6 599.0" stroke="#5c4dca" stroke-width="1.5499999999999998"/>
<path d="M1874.3 627.4L1884.4 624.3L1850.5 593.2L1840.3 616.3Z" stroke="#605de8"/>
<path d="M1840.3 616.3L1850.5 593.2" stroke="#5c4dca" stroke-width="1.5499999999999998"/>
<path d="M1864.1 633.9L1874.3 627.4L1840.3 616.3L1830.2 599.4Z" stroke="#605de8"/>
<path d="M1854.0 631.3L1864.1 633.9L1830.2 599.4L1820.1 621.1Z" stroke="#605de8"/>
<path d="M1843.9 630.7L1854.0 631.3L1820.1 621.1L1809.9 620.6Z" stroke="#605de8"/>
<path d="M1833.7 629.0L1843.9 630.7L1809.9 620.6L1799.8 628.8Z" stroke="#605de8"/>
<path d="M1799.8 628.8L1809.9 620.6" stroke="#5c4dca" stroke-width="1.5499999999999998"/>
<path d="M1823.6 653.0L1833.7 629.0L1799.8 628.8L1789.7 619.0Z" stroke="#5c4dca"/>
<path d="M1833.7 629.0L1799.8 628.8" stroke="#605de8" stroke-width="1.5499999999999998"/>
<path d="M1789.7 619.0L1799.8 628.8" stroke="#605de8" stroke-width="1.5499999999999998"/>
<path d="M1813.5 653.0L1823.6 653.0L1789.7 619.0L1779.5 639.3Z" stroke="#5c4dca"/>
<path d="M1803.3 640.5L1813.5 653.0L1779.5 639.3L1769.4 631.5Z" stroke="#605de8"/>
<path d="M1813.5 653.0L1779.5 639.3" stroke="#5c4dca" stroke-width="1.5499999999999998"/>
<path d="M1793.2 657.9L1803.3 640.5L1769.4 631.5L1759.3 646.7Z" stroke="#605de8"/>
<path d="M1759.3 646.7L1769.4 631.5" stroke="#5c4dca" stroke-width="1.5499999999999998"/>
<path d="M1783.1 661.0L1793.2 657.9L1759.3 646.7L1749.1 653.0Z" stroke="#605de8"/>
<path d="M1749.1 653.0L1759.3 646.7" stroke="#5c4dca" stroke-width="1.5499999999999998"/>
<path d="M1772.9 649.9L1783.1 661.0L1749.1 653.0L1739.0 649.0Z" stroke="#605de8"/>
<path d="M1739.0 649.0L1749.1 653.0" stroke="#5c4dca" stroke-width="1.5499999999999998"/>
<path d="M1762.8 666.3L1772.9 649.9L1739.0 649.0L1728.9 648.4Z" stroke="#605de8"/>
<path d="M1752.7 669.4L1762.8 666.3L1728.9 648.4L1718.7 648.8Z" stroke="#605de8"/>
<path d="M1742.5 665.4L1752.7 669.4L1718.7 648.8L1708.6 647.5Z" stroke="#605de8"/>
<path d="M1732.4 662.2L1742.5 665.4L1708.6 647.5L1698.4 644.3Z" stroke="#605de8"/>
<path d="M1722.2 665.4L1732.4 662.2L1698.4 644.3L1688.3 662.8Z" stroke="#605de8"/>
<path d="M1688.3 662.8L1698.4 644.3" stroke="#5c4dca" stroke-width="1.5499999999999998"/>
<path d="M1712.1 690.8L1722.2 665.4L1688.3 662.8L1678.2 674.4Z" stroke="#5c4dca"/>
<path d="M1722.2 665.4L1688.3 662.8" stroke="#605de8" stroke-width="1.5499999999999998"/>
<path d="M1702.0 676.2L1712.1 690.8L1678.2 674.4L1668.0 677.5Z" stroke="#605de8"/>
<path d="M1712.1 690.8L1678.2 674.4" stroke="#5c4dca" stroke-width="1.5499999999999998"/>
<path d="M1668.0 677.5L1678.2 674.4" stroke="#5c4dca" stroke-width="1.5499999999999998"/>
<path d="M1691.8 667.6L1702.0 676.2L1668.0 677.5L1657.9 660.1Z" stroke="#605de8"/>
<path d="M1681.7 681.2L1691.8 667.6L1657.9 660.1L1647.8 673.4Z" stroke="#605de8"/>
<path d="M1671.6 699.0L1681.7 681.2L1647.8 673.4L1637.6 685.5Z" stroke="#5c4dca"/>
<path d="M1681.7 681.2L1647.8 673.4" stroke="#605de8" stroke-width="1.5499999999999998"/>
<path d="M1661.4 705.9L1671.6 699.0L1637.6 685.5L1627.5 690.1Z" stroke="#5c4dca"/>
<path d="M1651.3 706.1L1661.4 705.9L1627.5 690.1L1617.4 678.6Z" stroke="#5c4dca"/>
<path d="M1617.4 678.6L1627.5 690.1" stroke="#605de8" stroke-width="1.5499999999999998"/>
<path d="M1641.2 679.4L1651.3 706.1L1617.4 678.6L1607.2 684.4Z" stroke="#605de8"/>
<path d="M1651.3 706.1L1617.4 678.6" stroke="#5c4dca" stroke-width="1.5499999999999998"/>
<path d="M1631.0 688.7L1641.2 679.4L1607.2 684.4L1597.1 699.5Z" stroke="#605de8"/>
<path d="M1597.1 699.5L1607.2 684.4" stroke="#5c4dca" stroke-width="1.5499999999999998"/>
<path d="M1620.9 708.6L1631.0 688.7L1597.1 699.5L1586.9 667.8Z" stroke="#605de8"/>
<path d="M1610.7 690.4L1620.9 708.6L1586.9 667.8L1576.8 677.0Z" stroke="#605de8"/>
<path d="M1600.6 719.7L1610.7 690.4L1576.8 677.0L1566.7 624.4Z" stroke="#5c4dca"/>
<path d="M1610.7 690.4L1576.8 677.0" stroke="#605de8" stroke-width="1.5499999999999998"/>
<path d="M1566.7 624.4L1576.8 677.0" stroke="#5685fd" stroke-width="1.5499999999999998"/>
<path d="M1590.5 706.1L1600.6 719.7L1566.7 624.4L1556.5 570.4Z" stroke="#605de8"/>
<path d="M1600.6 719.7L1566.7 624.4" stroke="#5c4dca" stroke-width="1.5499999999999998"/>
<path d="M1556.5 570.4L1566.7 624.4" stroke="#43aaeb" stroke-width="1.5499999999999998"/>
<path d="M1580.3 698.2L1590.5 706.1L1556.5 570.4L1546.4 573.6Z" stroke="#605de8"/>
<path d="M1546.4 573.6L1556.5 570.4" stroke="#43aaeb" stroke-width="1.5499999999999998"/>
<path d="M1570.2 707.5L1580.3 698.2L1546.4 573.6L1536.3 494.1Z" stroke="#605de8"/>
<path d="M1536.3 494.1L1546.4 573.6" stroke="#69d292" stroke-width="1.5499999999999998"/>
<path d="M1560.1 700.4L1570.2 707.5L1536.3 494.1L1526.1 404.8Z" stroke="#6071f8"/>
<path d="M1570.2 707.5L1536.3 494.1" stroke="#605de8" stroke-width="1.5499999999999998"/>
<path d="M1526.1 404.8L1536.3 494.1" stroke="#eac650" stroke-width="1.5499999999999998"/>
<path d="M1549.9 692.1L1560.1 700.4L1526.1 404.8L1516.0 347.7Z" stroke="#6071f8"/>
<path d="M1516.0 347.7L1526.1 404.8" stroke="#f9e247" stroke-width="1.5499999999999998"/>
<path d="M1539.8 706.7L1549.9 692.1L1516.0 347.7L1505.9 391.0Z" stroke="#6071f8"/>
<path d="M1505.9 391.0L1516.0 347.7" stroke="#fbce52" stroke-width="1.5499999999999998"/>
<path d="M1529.7 724.9L1539.8 706.7L1505.9 391.0L1495.7 502.6Z" stroke="#605de8"/>
<path d="M1539.8 706.7L1505.9 391.0" stroke="#6071f8" stroke-width="1.5499999999999998"/>
<path d="M1495.7 502.6L1505.9 391.0" stroke="#69d292" stroke-width="1.5499999999999998"/>
<path d="M1519.5 743.4L1529.7 724.9L1495.7 502.6L1485.6 602.9Z" stroke="#5c4dca"/>
<path d="M1529.7 724.9L1495.7 502.6" stroke="#605de8" stroke-width="1.5499999999999998"/>
<path d="M1485.6 602.9L1495.7 502.6" stroke="#43aaeb" stroke-width="1.5499999999999998"/>
<path d="M1509.4 727.7L1519.5 743.4L1485.6 602.9L1475.5 664.1Z" stroke="#605de8"/>
<path d="M1519.5 743.4L1485.6 602.9" stroke="#5c4dca" stroke-width="1.5499999999999998"/>
<path d="M1475.5 664.1L1485.6 602.9" stroke="#5685fd" stroke-width="1.5499999999999998"/>
<path d="M2019.7 589.8L2029.9 601.6L1995.9 606.1L1985.8 586.8Z" stroke="#6071f8"/>
<path d="M2029.9 601.6L1995.9 606.1" stroke="#605de8" stroke-width="1.5499999999999998"/>
<path d="M1985.8 586.8L1995.9 606.1" stroke="#605de8" stroke-width="1.5499999999999998"/>
<path d="M2009.6 592.9L2019.7 589.8L1985.8 586.8L1975.6 575.0Z" stroke="#6071f8"/>
<path d="M1999.4 617.1L2009.6 592.9L1975.6 575.0L1965.5 574.7Z" stroke="#605de8"/>
<path d="M2009.6 592.9L1975.6 575.0" stroke="#6071f8" stroke-width="1.5499999999999998"/>
<path d="M1965.5 574.7L1975.6 575.0" stroke="#6071f8" stroke-width="1.5499999999999998"/>
<path d="M1989.3 625.6L1999.4 617.1L1965.5 574.7L1955.4 577.9Z" stroke="#605de8"/>
<path d="M1955.4 577.9L1965.5 574.7" stroke="#6071f8" stroke-width="1.5499999999999998"/>
<path d="M1979.2 630.2L1989.3 625.6L1955.4 577.9L1945.2 578.4Z" stroke="#5c4dca"/>
<path d="M1989.3 625.6L1955.4 577.9" stroke="#605de8" stroke-width="1.5499999999999998"/>
<path d="M1945.2 578.4L1955.4 577.9" stroke="#6071f8" stroke-width="1.5499999999999998"/>
<path d="M1969.0 626.6L1979.2 630.2L1945.2 578.4L1935.1 593.9Z" stroke="#605de8"/>
<path d="M1979.2 630.2L1945.2 578.4" stroke="#5c4dca" stroke-width="1.5499999999999998"/>
<path d="M1958.9 625.4L1969.0 626.6L1935.1 593.9L1925.0 627.5Z" stroke="#605de8"/>
<path d="M1925.0 627.5L1935.1 593.9" stroke="#5c4dca" stroke-width="1.5499999999999998"/>
<path d="M1948.8 636.1L1958.9 625.4L1925.0 627.5L1914.8 614.9Z" stroke="#605de8"/>
<path d="M1938.6 650.4L1948.8 636.1L1914.8 614.9L1904.7 618.0Z" stroke="#5c4dca"/>
<path d="M1948.8 636.1L1914.8 614.9" stroke="#605de8" stroke-width="1.5499999999999998"/>
<path d="M1904.7 618.0L1914.8 614.9" stroke="#605de8" stroke-width="1.5499999999999998"/>
<path d="M1928.5 651.2L1938.6 650.4L1904.7 618.0L1894.6 640.1Z" stroke="#5c4dca"/>
<path d="M1918.4 631.2L1928.5 651.2L1894.6 640.1L1884.4 624.3Z" stroke="#605de8"/>
<path d="M1928.5 651.2L1894.6 640.1" stroke="#5c4dca" stroke-width="1.5499999999999998"/>
<path d="M1908.2 632.2L1918.4 631.2L1884.4 624.3L1874.3 627.4Z" stroke="#605de8"/>
<path d="M1898.1 618.7L1908.2 632.2L1874.3 627.4L1864.1 633.9Z" stroke="#6071f8"/>
<path d="M1908.2 632.2L1874.3 627.4" stroke="#605de8" stroke-width="1.5499999999999998"/>
<path d="M1864.1 633.9L1874.3 627.4" stroke="#605de8" stroke-width="1.5499999999999998"/>
<path d="M1887.9 618.1L1898.1 618.7L1864.1 633.9L1854.0 631.3Z" stroke="#6071f8"/>
<path d="M1854.0 631.3L1864.1 633.9" stroke="#605de8" stroke-width="1.5499999999999998"/>
<path d="M1877.8 645.9L1887.9 618.1L1854.0 631.3L1843.9 630.7Z" stroke="#605de8"/>
<path d="M1887.9 618.1L1854.0 631.3" stroke="#6071f8" stroke-width="1.5499999999999998"/>
<path d="M1867.7 649.0L1877.8 645.9L1843.9 630.7L1833.7 629.0Z" stroke="#605de8"/>
<path d="M1857.5 650.0L1867.7 649.0L1833.7 629.0L1823.6 653.0Z" stroke="#605de8"/>
<path d="M1823.6 653.0L1833.7 629.0" stroke="#5c4dca" stroke-width="1.5499999999999998"/>
<path d="M1847.4 656.7L1857.5 650.0L1823.6 653.0L1813.5 653.0Z" stroke="#605de8"/>
<path d="M1813.5 653.0L1823.6 653.0" stroke="#5c4dca" stroke-width="1.5499999999999998"/>
<path d="M1837.3 671.7L1847.4 656.7L1813.5 653.0L1803.3 640.5Z" stroke="#605de8"/>
<path d="M1827.1 677.2L1837.3 671.7L1803.3 640.5L1793.2 657.9Z" stroke="#5c4dca"/>
<path d="M1837.3 671.7L1803.3 640.5" stroke="#605de8" stroke-width="1.5499999999999998"/>
<path d="M1793.2 657.9L1803.3 640.5" stroke="#605de8" stroke-width="1.5499999999999998"/>
<path d="M1817.0 676.9L1827.1 677.2L1793.2 657.9L1783.1 661.0Z" stroke="#605de8"/>
<path d="M1827.1 677.2L1793.2 657.9" stroke="#5c4dca" stroke-width="1.5499999999999998"/>
<path d="M1806.9 672.5L1817.0 676.9L1783.1 661.0L1772.9 649.9Z" stroke="#605de8"/>
<path d="M1796.7 686.6L1806.9 672.5L1772.9 649.9L1762.8 666.3Z" stroke="#5c4dca"/>
<path d="M1806.9 672.5L1772.9 649.9" stroke="#605de8" stroke-width="1.5499999999999998"/>
<path d="M1762.8 666.3L1772.9 649.9" stroke="#605de8" stroke-width="1.5499999999999998"/>
<path d="M1786.6 666.7L1796.7 686.6L1762.8 666.3L1752.7 669.4Z" stroke="#605de8"/>
<path d="M1796.7 686.6L1762.8 666.3" stroke="#5c4dca" stroke-width="1.5499999999999998"/>
<path d="M1776.5 672.1L1786.6 666.7L1752.7 669.4L1742.5 665.4Z" stroke="#605de8"/>
<path d="M1766.3 700.8L1776.5 672.1L1742.5 665.4L1732.4 662.2Z" stroke="#5c4dca"/>
<path d="M1776.5 672.1L1742.5 665.4" stroke="#605de8" stroke-width="1.5499999999999998"/>
<path d="M1732.4 662.2L1742.5 665.4" stroke="#605de8" stroke-width="1.5499999999999998"/>
<path d="M1756.2 705.0L1766.3 700.8L1732.4 662.2L1722.2 665.4Z" stroke="#5c4dca"/>
<path d="M1722.2 665.4L1732.4 662.2" stroke="#605de8" stroke-width="1.5499999999999998"/>
<path d="M1746.0 708.1L1756.2 705.0L1722.2 665.4L1712.1 690.8Z" stroke="#5c4dca"/>
<path d="M1735.9 695.9L1746.0 708.1L1712.1 690.8L1702.0 676.2Z" stroke="#605de8"/>
<path d="M1746.0 708.1L1712.1 690.8" stroke="#5c4dca" stroke-width="1.5499999999999998"/>
<path d="M1725.8 708.0L1735.9 695.9L1702.0 676.2L1691.8 667.6Z" stroke="#5c4dca"/>
<path d="M1735.9 695.9L1702.0 676.2" stroke="#605de8" stroke-width="1.5499999999999998"/>
<path d="M1691.8 667.6L1702.0 676.2" stroke="#605de8" stroke-width="1.5499999999999998"/>
<path d="M1715.6 706.2L1725.8 708.0L1691.8 667.6L1681.7 681.2Z" stroke="#605de8"/>
<path d="M1725.8 708.0L1691.8 667.6" stroke="#5c4dca" stroke-width="1.5499999999999998"/>
<path d="M1705.5 709.3L1715.6 706.2L1681.7 681.2L1671.6 699.0Z" stroke="#605de8"/>
<path d="M1671.6 699.0L1681.7 681.2" stroke="#5c4dca" stroke-width="1.5499999999999998"/>
<path d="M1695.4 681.0L1705.5 709.3L1671.6 699.0L1661.4 705.9Z" stroke="#6071f8"/>
<path d="M1705.5 709.3L1671.6 699.0" stroke="#605de8" stroke-width="1.5499999999999998"/>
<path d="M1661.4 705.9L1671.6 699.0" stroke="#5c4dca" stroke-width="1.5499999999999998"/>
<path d="M1685.2 703.2L1695.4 681.0L1661.4 705.9L1651.3 706.1Z" stroke="#605de8"/>
<path d="M1695.4 681.0L1661.4 705.9" stroke="#6071f8" stroke-width="1.5499999999999998"/>
<path d="M1651.3 706.1L1661.4 705.9" stroke="#5c4dca" stroke-width="1.5499999999999998"/>
<path d="M1675.1 708.4L1685.2 703.2L1651.3 706.1L1641.2 679.4Z" stroke="#605de8"/>
<path d="M1665.0 726.9L1675.1 708.4L1641.2 679.4L1631.0 688.7Z" stroke="#5c4dca"/>
<path d="M1675.1 708.4L1641.2 679.4" stroke="#605de8" stroke-width="1.5499999999999998"/>
<path d="M1631.0 688.7L1641.2 679.4" stroke="#605de8" stroke-width="1.5499999999999998"/>
<path d="M1654.8 725.0L1665.0 726.9L1631.0 688.7L1620.9 708.6Z" stroke="#605de8"/>
<path d="M1665.0 726.9L1631.0 688.7" stroke="#5c4dca" stroke-width="1.5499999999999998"/>
<path d="M1644.7 728.1L1654.8 725.0L1620.9 708.6L1610.7 690.4Z" stroke="#605de8"/>
<path d="M1634.5 731.3L1644.7 728.1L1610.7 690.4L1600.6 719.7Z" stroke="#605de8"/>
<path d="M1600.6 719.7L1610.7 690.4" stroke="#5c4dca" stroke-width="1.5499999999999998"/>
<path d="M1624.4 722.0L1634.5 731.3L1600.6 719.7L1590.5 706.1Z" stroke="#605de8"/>
<path d="M1614.3 716.2L1624.4 722.0L1590.5 706.1L1580.3 698.2Z" stroke="#605de8"/>
<path d="M1604.1 723.2L1614.3 716.2L1580.3 698.2L1570.2 707.5Z" stroke="#605de8"/>
<path d="M1594.0 750.2L1604.1 723.2L1570.2 707.5L1560.1 700.4Z" stroke="#5c4dca"/>
<path d="M1604.1 723.2L1570.2 707.5" stroke="#605de8" stroke-width="1.5499999999999998"/>
<path d="M1560.1 700.4L1570.2 707.5" stroke="#6071f8" stroke-width="1.5499999999999998"/>
<path d="M1583.9 753.3L1594.0 750.2L1560.1 700.4L1549.9 692.1Z" stroke="#5c4dca"/>
<path d="M1549.9 692.1L1560.1 700.4" stroke="#6071f8" stroke-width="1.5499999999999998"/>
<path d="M1573.7 753.2L1583.9 753.3L1549.9 692.1L1539.8 706.7Z" stroke="#605de8"/>
<path d="M1583.9 753.3L1549.9 692.1" stroke="#5c4dca" stroke-width="1.5499999999999998"/>
<path d="M1539.8 706.7L1549.9 692.1" stroke="#6071f8" stroke-width="1.5499999999999998"/>
<path d="M1563.6 737.9L1573.7 753.2L1539.8 706.7L1529.7 724.9Z" stroke="#605de8"/>
<path d="M1553.5 750.5L1563.6 737.9L1529.7 724.9L1519.5 743.4Z" stroke="#605de8"/>
<path d="M1519.5 743.4L1529.7 724.9" stroke="#5c4dca" stroke-width="1.5499999999999998"/>
<path d="M1543.3 751.1L1553.5 750.5L1519.5 743.4L1509.4 727.7Z" stroke="#605de8"/>
<path d="M2053.7 614.1L2063.8 592.1L2029.9 601.6L2019.7 589.8Z" stroke="#605de8"/>
<path d="M2063.8 592.1L2029.9 601.6" stroke="#6071f8" stroke-width="1.5499999999999998"/>
<path d="M2019.7 589.8L2029.9 601.6" stroke="#6071f8" stroke-width="1.5499999999999998"/>
<path d="M2043.5 633.6L2053.7 614.1L2019.7 589.8L2009.6 592.9Z" stroke="#605de8"/>
<path d="M2009.6 592.9L2019.7 589.8" stroke="#6071f8" stroke-width="1.5499999999999998"/>
<path d="M2033.4 641.8L2043.5 633.6L2009.6 592.9L1999.4 617.1Z" stroke="#5c4dca"/>
<path d="M2043.5 633.6L2009.6 592.9" stroke="#605de8" stroke-width="1.5499999999999998"/>
<path d="M1999.4 617.1L2009.6 592.9" stroke="#605de8" stroke-width="1.5499999999999998"/>
<path d="M2023.2 637.0L2033.4 641.8L1999.4 617.1L1989.3 625.6Z" stroke="#605de8"/>
<path d="M2033.4 641.8L1999.4 617.1" stroke="#5c4dca" stroke-width="1.5499999999999998"/>
<path d="M2013.1 633.8L2023.2 637.0L1989.3 625.6L1979.2 630.2Z" stroke="#605de8"/>
<path d="M1979.2 630.2L1989.3 625.6" stroke="#5c4dca" stroke-width="1.5499999999999998"/>
<path d="M2003.0 659.7L2013.1 633.8L1979.2 630.2L1969.0 626.6Z" stroke="#5c4dca"/>
<path d="M2013.1 633.8L1979.2 630.2" stroke="#605de8" stroke-width="1.5499999999999998"/>
<path d="M1969.0 626.6L1979.2 630.2" stroke="#605de8" stroke-width="1.5499999999999998"/>
<path d="M1992.8 652.0L2003.0 659.7L1969.0 626.6L1958.9 625.4Z" stroke="#605de8"/>
<path d="M2003.0 659.7L1969.0 626.6" stroke="#5c4dca" stroke-width="1.5499999999999998"/>
<path d="M1982.7 657.5L1992.8 652.0L1958.9 625.4L1948.8 636.1Z" stroke="#5c4dca"/>
<path d="M1992.8 652.0L1958.9 625.4" stroke="#605de8" stroke-width="1.5499999999999998"/>
<path d="M1948.8 636.1L1958.9 625.4" stroke="#605de8" stroke-width="1.5499999999999998"/>
<path d="M1972.6 662.9L1982.7 657.5L1948.8 636.1L1938.6 650.4Z" stroke="#5c4dca"/>
<path d="M1962.4 648.1L1972.6 662.9L1938.6 650.4L1928.5 651.2Z" stroke="#605de8"/>
<path d="M1972.6 662.9L1938.6 650.4" stroke="#5c4dca" stroke-width="1.5499999999999998"/>
<path d="M1928.5 651.2L1938.6 650.4" stroke="#5c4dca" stroke-width="1.5499999999999998"/>
<path d="M1952.3 639.1L1962.4 648.1L1928.5 651.2L1918.4 631.2Z" stroke="#6071f8"/>
<path d="M1962.4 648.1L1928.5 651.2" stroke="#605de8" stroke-width="1.5499999999999998"/>
<path d="M1918.4 631.2L1928.5 651.2" stroke="#605de8" stroke-width="1.5499999999999998"/>
<path d="M1942.2 650.1L1952.3 639.1L1918.4 631.2L1908.2 632.2Z" stroke="#605de8"/>
<path d="M1952.3 639.1L1918.4 631.2" stroke="#6071f8" stroke-width="1.5499999999999998"/>
<path d="M1932.0 647.8L1942.2 650.1L1908.2 632.2L1898.1 618.7Z" stroke="#605de8"/>
<path d="M1898.1 618.7L1908.2 632.2" stroke="#6071f8" stroke-width="1.5499999999999998"/>
<path d="M1921.9 654.8L1932.0 647.8L1898.1 618.7L1887.9 618.1Z" stroke="#605de8"/>
<path d="M1887.9 618.1L1898.1 618.7" stroke="#6071f8" stroke-width="1.5499999999999998"/>
<path d="M1911.8 661.7L1921.9 654.8L1887.9 618.1L1877.8 645.9Z" stroke="#605de8"/>
<path d="M1901.6 664.8L1911.8 661.7L1877.8 645.9L1867.7 649.0Z" stroke="#605de8"/>
<path d="M1891.5 672.8L1901.6 664.8L1867.7 649.0L1857.5 650.0Z" stroke="#605de8"/>
<path d="M1881.3 688.9L1891.5 672.8L1857.5 650.0L1847.4 656.7Z" stroke="#5c4dca"/>
<path d="M1891.5 672.8L1857.5 650.0" stroke="#605de8" stroke-width="1.5499999999999998"/>
<path d="M1847.4 656.7L1857.5 650.0" stroke="#605de8" stroke-width="1.5499999999999998"/>
<path d="M1871.2 695.1L1881.3 688.9L1847.4 656.7L1837.3 671.7Z" stroke="#5c4dca"/>
<path d="M1837.3 671.7L1847.4 656.7" stroke="#605de8" stroke-width="1.5499999999999998"/>
<path d="M1861.1 690.1L1871.2 695.1L1837.3 671.7L1827.1 677.2Z" stroke="#605de8"/>
<path d="M1871.2 695.1L1837.3 671.7" stroke="#5c4dca" stroke-width="1.5499999999999998"/>
<path d="M1827.1 677.2L1837.3 671.7" stroke="#5c4dca" stroke-width="1.5499999999999998"/>
<path d="M1850.9 678.3L1861.1 690.1L1827.1 677.2L1817.0 676.9Z" stroke="#605de8"/>
<path d="M1840.8 688.5L1850.9 678.3L1817.0 676.9L1806.9 672.5Z" stroke="#605de8"/>
<path d="M1830.7 708.8L1840.8 688.5L1806.9 672.5L1796.7 686.6Z" stroke="#5c4dca"/>
<path d="M1840.8 688.5L1806.9 672.5" stroke="#605de8" stroke-width="1.5499999999999998"/>
<path d="M1820.5 691.3L1830.7 708.8L1796.7 686.6L1786.6 666.7Z" stroke="#605de8"/>
<path d="M1830.7 708.8L1796.7 686.6" stroke="#5c4dca" stroke-width="1.5499999999999998"/>
<path d="M1810.4 699.5L1820.5 691.3L1786.6 666.7L1776.5 672.1Z" stroke="#605de8"/>
<path d="M1800.3 704.4L1810.4 699.5L1776.5 672.1L1766.3 700.8Z" stroke="#605de8"/>
<path d="M1766.3 700.8L1776.5 672.1" stroke="#5c4dca" stroke-width="1.5499999999999998"/>
<path d="M1790.1 709.3L1800.3 704.4L1766.3 700.8L1756.2 705.0Z" stroke="#605de8"/>
<path d="M1756.2 705.0L1766.3 700.8" stroke="#5c4dca" stroke-width="1.5499999999999998"/>
<path d="M1780.0 714.7L1790.1 709.3L1756.2 705.0L1746.0 708.1Z" stroke="#605de8"/>
<path d="M1746.0 708.1L1756.2 705.0" stroke="#5c4dca" stroke-width="1.5499999999999998"/>
<path d="M1769.8 707.5L1780.0 714.7L1746.0 708.1L1735.9 695.9Z" stroke="#605de8"/>
<path d="M1759.7 719.9L1769.8 707.5L1735.9 695.9L1725.8 708.0Z" stroke="#605de8"/>
<path d="M1725.8 708.0L1735.9 695.9" stroke="#5c4dca" stroke-width="1.5499999999999998"/>
<path d="M1749.6 708.8L1759.7 719.9L1725.8 708.0L1715.6 706.2Z" stroke="#605de8"/>
<path d="M1739.4 721.4L1749.6 708.8L1715.6 706.2L1705.5 709.3Z" stroke="#605de8"/>
<path d="M1729.3 735.4L1739.4 721.4L1705.5 709.3L1695.4 681.0Z" stroke="#5c4dca"/>
<path d="M1739.4 721.4L1705.5 709.3" stroke="#605de8" stroke-width="1.5499999999999998"/>
<path d="M1695.4 681.0L1705.5 709.3" stroke="#6071f8" stroke-width="1.5499999999999998"/>
<path d="M1719.2 744.9L1729.3 735.4L1695.4 681.0L1685.2 703.2Z" stroke="#5c4dca"/>
<path d="M1685.2 703.2L1695.4 681.0" stroke="#605de8" stroke-width="1.5499999999999998"/>
<path d="M1709.0 748.0L1719.2 744.9L1685.2 703.2L1675.1 708.4Z" stroke="#5c4dca"/>
<path d="M1675.1 708.4L1685.2 703.2" stroke="#605de8" stroke-width="1.5499999999999998"/>
<path d="M1698.9 738.7L1709.0 748.0L1675.1 708.4L1665.0 726.9Z" stroke="#605de8"/>
<path d="M1709.0 748.0L1675.1 708.4" stroke="#5c4dca" stroke-width="1.5499999999999998"/>
<path d="M1665.0 726.9L1675.1 708.4" stroke="#5c4dca" stroke-width="1.5499999999999998"/>
<path d="M1688.8 756.4L1698.9 738.7L1665.0 726.9L1654.8 725.0Z" stroke="#5c4dca"/>
<path d="M1698.9 738.7L1665.0 726.9" stroke="#605de8" stroke-width="1.5499999999999998"/>
<path d="M1654.8 725.0L1665.0 726.9" stroke="#605de8" stroke-width="1.5499999999999998"/>
<path d="M1678.6 750.1L1688.8 756.4L1654.8 725.0L1644.7 728.1Z" stroke="#605de8"/>
<path d="M1688.8 756.4L1654.8 725.0" stroke="#5c4dca" stroke-width="1.5499999999999998"/>
<path d="M1668.5 750.8L1678.6 750.1L1644.7 728.1L1634.5 731.3Z" stroke="#605de8"/>
<path d="M1658.4 755.4L1668.5 750.8L1634.5 731.3L1624.4 722.0Z" stroke="#605de8"/>
<path d="M1648.2 758.5L1658.4 755.4L1624.4 722.0L1614.3 716.2Z" stroke="#605de8"/>
<path d="M1638.1 773.4L1648.2 758.5L1614.3 716.2L1604.1 723.2Z" stroke="#5c4dca"/>
<path d="M1648.2 758.5L1614.3 716.2" stroke="#605de8" stroke-width="1.5499999999999998"/>
<path d="M1604.1 723.2L1614.3 716.2" stroke="#605de8" stroke-width="1.5499999999999998"/>
<path d="M1627.9 765.8L1638.1 773.4L1604.1 723.2L1594.0 750.2Z" stroke="#605de8"/>
<path d="M1638.1 773.4L1604.1 723.2" stroke="#5c4dca" stroke-width="1.5499999999999998"/>
<path d="M1594.0 750.2L1604.1 723.2" stroke="#5c4dca" stroke-width="1.5499999999999998"/>
<path d="M1617.8 757.8L1627.9 765.8L1594.0 750.2L1583.9 753.3Z" stroke="#605de8"/>
<path d="M1583.9 753.3L1594.0 750.2" stroke="#5c4dca" stroke-width="1.5499999999999998"/>
<path d="M1607.7 754.2L1617.8 757.8L1583.9 753.3L1573.7 753.2Z" stroke="#605de8"/>
<path d="M1597.5 749.8L1607.7 754.2L1573.7 753.2L1563.6 737.9Z" stroke="#605de8"/>
<path d="M1587.4 727.5L1597.5 749.8L1563.6 737.9L1553.5 750.5Z" stroke="#6071f8"/>
<path d="M1597.5 749.8L1563.6 737.9" stroke="#605de8" stroke-width="1.5499999999999998"/>
<path d="M1553.5 750.5L1563.6 737.9" stroke="#605de8" stroke-width="1.5499999999999998"/>
<path d="M1577.3 733.7L1587.4 727.5L1553.5 750.5L1543.3 751.1Z" stroke="#6071f8"/>
<path d="M1543.3 751.1L1553.5 750.5" stroke="#605de8" stroke-width="1.5499999999999998"/>
<path d="M2087.6 616.9L2097.7 636.1L2063.8 592.1L2053.7 614.1Z" stroke="#6071f8"/>
<path d="M2097.7 636.1L2063.8 592.1" stroke="#605de8" stroke-width="1.5499999999999998"/>
<path d="M2053.7 614.1L2063.8 592.1" stroke="#605de8" stroke-width="1.5499999999999998"/>
<path d="M2077.5 610.5L2087.6 616.9L2053.7 614.1L2043.5 633.6Z" stroke="#6071f8"/>
<path d="M2043.5 633.6L2053.7 614.1" stroke="#605de8" stroke-width="1.5499999999999998"/>
<path d="M2067.3 625.9L2077.5 610.5L2043.5 633.6L2033.4 641.8Z" stroke="#6071f8"/>
<path d="M2033.4 641.8L2043.5 633.6" stroke="#5c4dca" stroke-width="1.5499999999999998"/>
<path d="M2057.2 616.7L2067.3 625.9L2033.4 641.8L2023.2 637.0Z" stroke="#6071f8"/>
<path d="M2023.2 637.0L2033.4 641.8" stroke="#605de8" stroke-width="1.5499999999999998"/>
<path d="M2047.0 598.2L2057.2 616.7L2023.2 637.0L2013.1 633.8Z" stroke="#5685fd"/>
<path d="M2057.2 616.7L2023.2 637.0" stroke="#6071f8" stroke-width="1.5499999999999998"/>
<path d="M2013.1 633.8L2023.2 637.0" stroke="#605de8" stroke-width="1.5499999999999998"/>
<path d="M2036.9 623.0L2047.0 598.2L2013.1 633.8L2003.0 659.7Z" stroke="#6071f8"/>
<path d="M2047.0 598.2L2013.1 633.8" stroke="#5685fd" stroke-width="1.5499999999999998"/>
<path d="M2003.0 659.7L2013.1 633.8" stroke="#5c4dca" stroke-width="1.5499999999999998"/>
<path d="M2026.8 661.3L2036.9 623.0L2003.0 659.7L1992.8 652.0Z" stroke="#605de8"/>
<path d="M2036.9 623.0L2003.0 659.7" stroke="#6071f8" stroke-width="1.5499999999999998"/>
<path d="M2016.6 652.4L2026.8 661.3L1992.8 652.0L1982.7 657.5Z" stroke="#605de8"/>
<path d="M1982.7 657.5L1992.8 652.0" stroke="#5c4dca" stroke-width="1.5499999999999998"/>
<path d="M2006.5 658.6L2016.6 652.4L1982.7 657.5L1972.6 662.9Z" stroke="#605de8"/>
<path d="M1972.6 662.9L1982.7 657.5" stroke="#5c4dca" stroke-width="1.5499999999999998"/>
<path d="M1996.4 687.8L2006.5 658.6L1972.6 662.9L1962.4 648.1Z" stroke="#5c4dca"/>
<path d="M2006.5 658.6L1972.6 662.9" stroke="#605de8" stroke-width="1.5499999999999998"/>
<path d="M1962.4 648.1L1972.6 662.9" stroke="#605de8" stroke-width="1.5499999999999998"/>
<path d="M1986.2 659.4L1996.4 687.8L1962.4 648.1L1952.3 639.1Z" stroke="#605de8"/>
<path d="M1996.4 687.8L1962.4 648.1" stroke="#5c4dca" stroke-width="1.5499999999999998"/>
<path d="M1952.3 639.1L1962.4 648.1" stroke="#6071f8" stroke-width="1.5499999999999998"/>
<path d="M1976.1 670.2L1986.2 659.4L1952.3 639.1L1942.2 650.1Z" stroke="#605de8"/>
<path d="M1966.0 684.4L1976.1 670.2L1942.2 650.1L1932.0 647.8Z" stroke="#605de8"/>
<path d="M1955.8 691.8L1966.0 684.4L1932.0 647.8L1921.9 654.8Z" stroke="#605de8"/>
<path d="M1945.7 700.5L1955.8 691.8L1921.9 654.8L1911.8 661.7Z" stroke="#5c4dca"/>
<path d="M1955.8 691.8L1921.9 654.8" stroke="#605de8" stroke-width="1.5499999999999998"/>
<path d="M1911.8 661.7L1921.9 654.8" stroke="#605de8" stroke-width="1.5499999999999998"/>
<path d="M1935.6 693.8L1945.7 700.5L1911.8 661.7L1901.6 664.8Z" stroke="#605de8"/>
<path d="M1945.7 700.5L1911.8 661.7" stroke="#5c4dca" stroke-width="1.5499999999999998"/>
<path d="M1925.4 703.7L1935.6 693.8L1901.6 664.8L1891.5 672.8Z" stroke="#5c4dca"/>
<path d="M1935.6 693.8L1901.6 664.8" stroke="#605de8" stroke-width="1.5499999999999998"/>
<path d="M1891.5 672.8L1901.6 664.8" stroke="#605de8" stroke-width="1.5499999999999998"/>
<path d="M1915.3 704.4L1925.4 703.7L1891.5 672.8L1881.3 688.9Z" stroke="#605de8"/>
<path d="M1925.4 703.7L1891.5 672.8" stroke="#5c4dca" stroke-width="1.5499999999999998"/>
<path d="M1881.3 688.9L1891.5 672.8" stroke="#5c4dca" stroke-width="1.5499999999999998"/>
<path d="M1905.1 682.1L1915.3 704.4L1881.3 688.9L1871.2 695.1Z" stroke="#6071f8"/>
<path d="M1915.3 704.4L1881.3 688.9" stroke="#605de8" stroke-width="1.5499999999999998"/>
<path d="M1871.2 695.1L1881.3 688.9" stroke="#5c4dca" stroke-width="1.5499999999999998"/>
<path d="M1895.0 669.9L1905.1 682.1L1871.2 695.1L1861.1 690.1Z" stroke="#6071f8"/>
<path d="M1861.1 690.1L1871.2 695.1" stroke="#605de8" stroke-width="1.5499999999999998"/>
<path d="M1884.9 686.7L1895.0 669.9L1861.1 690.1L1850.9 678.3Z" stroke="#6071f8"/>
<path d="M1850.9 678.3L1861.1 690.1" stroke="#605de8" stroke-width="1.5499999999999998"/>
<path d="M1874.7 714.3L1884.9 686.7L1850.9 678.3L1840.8 688.5Z" stroke="#605de8"/>
<path d="M1884.9 686.7L1850.9 678.3" stroke="#6071f8" stroke-width="1.5499999999999998"/>
<path d="M1864.6 709.5L1874.7 714.3L1840.8 688.5L1830.7 708.8Z" stroke="#605de8"/>
<path d="M1830.7 708.8L1840.8 688.5" stroke="#5c4dca" stroke-width="1.5499999999999998"/>
<path d="M1854.5 694.4L1864.6 709.5L1830.7 708.8L1820.5 691.3Z" stroke="#6071f8"/>
<path d="M1864.6 709.5L1830.7 708.8" stroke="#605de8" stroke-width="1.5499999999999998"/>
<path d="M1820.5 691.3L1830.7 708.8" stroke="#605de8" stroke-width="1.5499999999999998"/>
<path d="M1844.3 701.8L1854.5 694.4L1820.5 691.3L1810.4 699.5Z" stroke="#605de8"/>
<path d="M1854.5 694.4L1820.5 691.3" stroke="#6071f8" stroke-width="1.5499999999999998"/>
<path d="M1834.2 705.0L1844.3 701.8L1810.4 699.5L1800.3 704.4Z" stroke="#605de8"/>
<path d="M1824.1 698.0L1834.2 705.0L1800.3 704.4L1790.1 709.3Z" stroke="#6071f8"/>
<path d="M1834.2 705.0L1800.3 704.4" stroke="#605de8" stroke-width="1.5499999999999998"/>
<path d="M1790.1 709.3L1800.3 704.4" stroke="#605de8" stroke-width="1.5499999999999998"/>
<path d="M1813.9 722.3L1824.1 698.0L1790.1 709.3L1780.0 714.7Z" stroke="#605de8"/>
<path d="M1824.1 698.0L1790.1 709.3" stroke="#6071f8" stroke-width="1.5499999999999998"/>
<path d="M1803.8 746.1L1813.9 722.3L1780.0 714.7L1769.8 707.5Z" stroke="#5c4dca"/>
<path d="M1813.9 722.3L1780.0 714.7" stroke="#605de8" stroke-width="1.5499999999999998"/>
<path d="M1769.8 707.5L1780.0 714.7" stroke="#605de8" stroke-width="1.5499999999999998"/>
<path d="M1793.6 742.0L1803.8 746.1L1769.8 707.5L1759.7 719.9Z" stroke="#605de8"/>
<path d="M1803.8 746.1L1769.8 707.5" stroke="#5c4dca" stroke-width="1.5499999999999998"/>
<path d="M1783.5 731.7L1793.6 742.0L1759.7 719.9L1749.6 708.8Z" stroke="#605de8"/>
<path d="M1773.4 719.7L1783.5 731.7L1749.6 708.8L1739.4 721.4Z" stroke="#6071f8"/>
<path d="M1783.5 731.7L1749.6 708.8" stroke="#605de8" stroke-width="1.5499999999999998"/>
<path d="M1739.4 721.4L1749.6 708.8" stroke="#605de8" stroke-width="1.5499999999999998"/>
<path d="M1763.2 744.3L1773.4 719.7L1739.4 721.4L1729.3 735.4Z" stroke="#605de8"/>
<path d="M1773.4 719.7L1739.4 721.4" stroke="#6071f8" stroke-width="1.5499999999999998"/>
<path d="M1729.3 735.4L1739.4 721.4" stroke="#5c4dca" stroke-width="1.5499999999999998"/>
<path d="M1753.1 739.0L1763.2 744.3L1729.3 735.4L1719.2 744.9Z" stroke="#605de8"/>
<path d="M1719.2 744.9L1729.3 735.4" stroke="#5c4dca" stroke-width="1.5499999999999998"/>
<path d="M1743.0 742.2L1753.1 739.0L1719.2 744.9L1709.0 748.0Z" stroke="#605de8"/>
<path d="M1709.0 748.0L1719.2 744.9" stroke="#5c4dca" stroke-width="1.5499999999999998"/>
<path d="M1732.8 762.7L1743.0 742.2L1709.0 748.0L1698.9 738.7Z" stroke="#5c4dca"/>
<path d="M1743.0 742.2L1709.0 748.0" stroke="#605de8" stroke-width="1.5499999999999998"/>
<path d="M1698.9 738.7L1709.0 748.0" stroke="#605de8" stroke-width="1.5499999999999998"/>
<path d="M1722.7 765.8L1732.8 762.7L1698.9 738.7L1688.8 756.4Z" stroke="#5c4dca"/>
<path d="M1712.6 768.0L1722.7 765.8L1688.8 756.4L1678.6 750.1Z" stroke="#605de8"/>
<path d="M1722.7 765.8L1688.8 756.4" stroke="#5c4dca" stroke-width="1.5499999999999998"/>
<path d="M1702.4 771.2L1712.6 768.0L1678.6 750.1L1668.5 750.8Z" stroke="#605de8"/>
<path d="M1692.3 750.5L1702.4 771.2L1668.5 750.8L1658.4 755.4Z" stroke="#605de8"/>
<path d="M1682.2 743.7L1692.3 750.5L1658.4 755.4L1648.2 758.5Z" stroke="#6071f8"/>
<path d="M1692.3 750.5L1658.4 755.4" stroke="#605de8" stroke-width="1.5499999999999998"/>
<path d="M1648.2 758.5L1658.4 755.4" stroke="#605de8" stroke-width="1.5499999999999998"/>
<path d="M1672.0 772.5L1682.2 743.7L1648.2 758.5L1638.1 773.4Z" stroke="#605de8"/>
<path d="M1682.2 743.7L1648.2 758.5" stroke="#6071f8" stroke-width="1.5499999999999998"/>
<path d="M1638.1 773.4L1648.2 758.5" stroke="#5c4dca" stroke-width="1.5499999999999998"/>
<path d="M1661.9 782.7L1672.0 772.5L1638.1 773.4L1627.9 765.8Z" stroke="#605de8"/>
<path d="M1651.7 778.8L1661.9 782.7L1627.9 765.8L1617.8 757.8Z" stroke="#605de8"/>
<path d="M1641.6 800.7L1651.7 778.8L1617.8 757.8L1607.7 754.2Z" stroke="#5c4dca"/>
<path d="M1651.7 778.8L1617.8 757.8" stroke="#605de8" stroke-width="1.5499999999999998"/>
<path d="M1607.7 754.2L1617.8 757.8" stroke="#605de8" stroke-width="1.5499999999999998"/>
<path d="M1631.5 796.7L1641.6 800.7L1607.7 754.2L1597.5 749.8Z" stroke="#5c4dca"/>
<path d="M1597.5 749.8L1607.7 754.2" stroke="#605de8" stroke-width="1.5499999999999998"/>
<path d="M1621.3 795.3L1631.5 796.7L1597.5 749.8L1587.4 727.5Z" stroke="#605de8"/>
<path d="M1631.5 796.7L1597.5 749.8" stroke="#5c4dca" stroke-width="1.5499999999999998"/>
<path d="M1587.4 727.5L1597.5 749.8" stroke="#6071f8" stroke-width="1.5499999999999998"/>
<path d="M1611.2 803.0L1621.3 795.3L1587.4 727.5L1577.3 733.7Z" stroke="#5c4dca"/>
<path d="M1621.3 795.3L1587.4 727.5" stroke="#605de8" stroke-width="1.5499999999999998"/>
<path d="M1577.3 733.7L1587.4 727.5" stroke="#6071f8" stroke-width="1.5499999999999998"/></g>
<path d="M1237.9 188.1L1237.9 616.5L1611.2 813.7L2097.7 663.2" fill="none" stroke="#404040" stroke-width="1.9"/>
<path d="M1237.9 412.5l-11.7 -5.5M1237.9 208.5l-11.7 -5.5M1249.2 622.5l-12.4 3.8M1430.2 718.1l-12.4 3.8M1611.2 813.7l-12.4 3.8M1611.2 813.7l11.5 6.1M1737.9 774.5l11.5 6.1M1864.6 735.3l11.5 6.1M1991.3 696.1l11.5 6.1" fill="none" stroke="#555" stroke-width="2"/>
<text transform="translate(1213.0 203.0) scale(0.9 1)" text-anchor="end" class="tk" font-size="32">1</text>
<text transform="translate(1213.0 407.0) scale(0.9 1)" text-anchor="end" class="tk" font-size="32">0.5</text>
<text transform="translate(1205.5 660.9) scale(0.9 1)" text-anchor="middle" class="tk" font-size="32">13</text>
<text transform="translate(1387.7 757.3) scale(0.9 1)" text-anchor="middle" class="tk" font-size="32">12</text>
<text transform="translate(1567.7 853.2) scale(0.9 1)" text-anchor="middle" class="tk" font-size="32">11</text>
<text transform="translate(1641.6 857.1) scale(0.9 1)" text-anchor="middle" class="tk" font-size="32">0</text>
<text transform="translate(1770.9 818.1) scale(0.9 1)" text-anchor="middle" class="tk" font-size="32">1</text>
<text transform="translate(1896.1 779.0) scale(0.9 1)" text-anchor="middle" class="tk" font-size="32">2</text>
<text transform="translate(2019.6 740.0) scale(0.9 1)" text-anchor="middle" class="tk" font-size="32">3</text>
<text x="1193.0" y="820.0" font-size="55" textLength="230.0" lengthAdjust="spacingAndGlyphs" class="sf">range [m]</text>
<text x="1741.6" y="855.0" font-size="56" textLength="368.5" lengthAdjust="spacingAndGlyphs" class="sf">cross-range [m]</text>
<circle cx="1489.6" cy="386.3" r="129.3" fill="none" stroke="#fe0000" stroke-width="16"/>
<ellipse cx="1906.3" cy="180.7" rx="104.9" ry="115.4" fill="none" stroke="#fe0000" stroke-width="15.5"/>
<rect x="131.6" y="1125.7" width="813.4" height="769.6" fill="#100000"/>
<g shape-rendering="crispEdges">
<rect x="297.60" y="1125.70" width="16.90" height="64.43" fill="#180707"/>
<rect x="148.20" y="1253.96" width="16.90" height="64.43" fill="#170606"/>
<rect x="264.40" y="1318.09" width="16.90" height="64.43" fill="#190808"/>
<rect x="480.20" y="1318.09" width="16.90" height="64.43" fill="#3a2525"/>
<rect x="314.20" y="1382.22" width="16.90" height="64.43" fill="#180707"/>
<rect x="480.20" y="1382.22" width="16.90" height="64.43" fill="#482f2f"/>
<rect x="530.00" y="1446.35" width="16.90" height="64.43" fill="#281819"/>
<rect x="712.60" y="1446.35" width="16.90" height="64.43" fill="#5f3d3e"/>
<rect x="480.20" y="1510.48" width="16.90" height="64.43" fill="#f2f2d5"/>
<rect x="712.60" y="1510.48" width="16.90" height="64.43" fill="#ffffff"/>
<rect x="447.00" y="1574.61" width="16.90" height="64.43" fill="#190808"/>
<rect x="646.20" y="1702.87" width="16.90" height="64.43" fill="#170606"/>
<rect x="862.00" y="1767.00" width="16.90" height="64.43" fill="#180707"/>
<rect x="397.20" y="1831.13" width="16.90" height="64.43" fill="#180707"/>
<rect x="745.80" y="1831.13" width="16.90" height="64.43" fill="#180707"/>
</g>
<rect x="131.6" y="1125.7" width="813.4" height="769.6" fill="none" stroke="#5a5a5a" stroke-width="2"/>
<line x1="131.1" y1="1124.7" x2="131.1" y2="1896.3" stroke="#bdbdbd" stroke-width="1.6"/>
<path d="M139.9 1895.3v-9M139.9 1125.7v9" stroke="#343434" stroke-width="1.4"/>
<path d="M243.7 1895.3v-9M243.7 1125.7v9" stroke="#343434" stroke-width="1.4"/>
<path d="M347.4 1895.3v-9M347.4 1125.7v9" stroke="#343434" stroke-width="1.4"/>
<path d="M451.1 1895.3v-9M451.1 1125.7v9" stroke="#343434" stroke-width="1.4"/>
<path d="M554.9 1895.3v-9M554.9 1125.7v9" stroke="#343434" stroke-width="1.4"/>
<path d="M658.6 1895.3v-9M658.6 1125.7v9" stroke="#343434" stroke-width="1.4"/>
<path d="M762.4 1895.3v-9M762.4 1125.7v9" stroke="#343434" stroke-width="1.4"/>
<path d="M866.1 1895.3v-9M866.1 1125.7v9" stroke="#343434" stroke-width="1.4"/>
<path d="M131.6 1179.2h9M945.0 1179.2h-9" stroke="#343434" stroke-width="1.4"/>
<path d="M131.6 1350.2h9M945.0 1350.2h-9" stroke="#343434" stroke-width="1.4"/>
<path d="M131.6 1521.3h9M945.0 1521.3h-9" stroke="#343434" stroke-width="1.4"/>
<path d="M131.6 1692.4h9M945.0 1692.4h-9" stroke="#343434" stroke-width="1.4"/>
<path d="M131.6 1863.4h9M945.0 1863.4h-9" stroke="#343434" stroke-width="1.4"/>
<text transform="translate(139.9 1943.6) scale(0.9 1)" text-anchor="middle" class="tk" font-size="37">0</text>
<text transform="translate(243.7 1943.6) scale(0.9 1)" text-anchor="middle" class="tk" font-size="37">0.5</text>
<text transform="translate(347.4 1943.6) scale(0.9 1)" text-anchor="middle" class="tk" font-size="37">1</text>
<text transform="translate(451.1 1943.6) scale(0.9 1)" text-anchor="middle" class="tk" font-size="37">1.5</text>
<text transform="translate(554.9 1943.6) scale(0.9 1)" text-anchor="middle" class="tk" font-size="37">2</text>
<text transform="translate(658.6 1943.6) scale(0.9 1)" text-anchor="middle" class="tk" font-size="37">2.5</text>
<text transform="translate(762.4 1943.6) scale(0.9 1)" text-anchor="middle" class="tk" font-size="37">3</text>
<text transform="translate(866.1 1943.6) scale(0.9 1)" text-anchor="middle" class="tk" font-size="37">3.5</text>
<text transform="translate(119.5 1184.8) scale(0.9 1)" text-anchor="end" class="tk" font-size="37">13</text>
<text transform="translate(119.5 1355.8) scale(0.9 1)" text-anchor="end" class="tk" font-size="37">12.5</text>
<text transform="translate(119.5 1526.9) scale(0.9 1)" text-anchor="end" class="tk" font-size="37">12</text>
<text transform="translate(119.5 1698.0) scale(0.9 1)" text-anchor="end" class="tk" font-size="37">11.5</text>
<text transform="translate(119.5 1869.0) scale(0.9 1)" text-anchor="end" class="tk" font-size="37">11</text>
<rect x="988.6" y="1138.5" width="80.0" height="781.5" fill="url(#pg2)" stroke="#555" stroke-width="3"/>
<line x1="988.6" y1="1138.5" x2="988.6" y2="1920.0" stroke="#777" stroke-width="3"/>
<text x="1081.0" y="1923.2" class="cb">0</text>
<line x1="1067.6" y1="1765.3" x2="1057.6" y2="1765.3" stroke="#555" stroke-width="2.2"/>
<text x="1081.0" y="1769.2" class="cb">0.2</text>
<line x1="1067.6" y1="1611.3" x2="1057.6" y2="1611.3" stroke="#555" stroke-width="2.2"/>
<text x="1081.0" y="1615.2" class="cb">0.4</text>
<line x1="1067.6" y1="1457.3" x2="1057.6" y2="1457.3" stroke="#555" stroke-width="2.2"/>
<text x="1081.0" y="1461.2" class="cb">0.6</text>
<line x1="1067.6" y1="1303.3" x2="1057.6" y2="1303.3" stroke="#555" stroke-width="2.2"/>
<text x="1081.0" y="1307.2" class="cb">0.8</text>
<line x1="1067.6" y1="1149.3" x2="1057.6" y2="1149.3" stroke="#555" stroke-width="2.2"/>
<text x="1081.0" y="1153.2" class="cb">1</text>
<text x="366.0" y="1985.0" font-size="51" textLength="337.0" lengthAdjust="spacingAndGlyphs" text-anchor="start" class="sf" >cross-range [m]</text>
<g transform="translate(55.3 1625.4) rotate(-90)">
<text x="0.0" y="0.0" font-size="50" textLength="226.5" lengthAdjust="spacingAndGlyphs" text-anchor="start" class="sf" >range [m]</text>
</g>
<path class="g" d="M1364.6 1696.6L1364.6 1255.0M1491.8 1656.7L1491.8 1215.1M1618.9 1616.7L1618.9 1175.1M1237.5 1736.6L1725.7 1583.1L2095.5 1786.3M1237.5 1552.6L1725.7 1399.1L2095.5 1602.3M1237.5 1368.6L1725.7 1215.1L2095.5 1418.3M1736.9 1589.3L1736.9 1147.7M1916.2 1687.8L1916.2 1246.2"/>
<g class="m" stroke-width="1.7"><path d="M1611.7 1938.8L1237.5 1736.6M1616.7 1937.2L1242.6 1735.0M1621.8 1935.6L1349.7 1788.6M1281.7 1751.8L1247.7 1733.4M1626.8 1934.0L1354.8 1787.0M1286.8 1750.2L1252.8 1731.8M1631.9 1932.4L1257.8 1730.2M1636.9 1930.9L1262.9 1728.6M1641.9 1929.3L1268.0 1727.0M1647.0 1927.7L1273.1 1725.4M1652.0 1926.1L1278.2 1723.8M1657.1 1924.5L1283.3 1722.2M1662.1 1922.9L1288.4 1720.6M1667.1 1921.3L1293.4 1719.0M1672.2 1919.7L1298.5 1717.4M1677.2 1918.1L1303.6 1715.8M1682.3 1916.6L1308.7 1714.2M1687.3 1915.0L1313.8 1712.6M1692.3 1913.4L1454.7 1784.6M1386.8 1747.8L1318.9 1711.0M1697.4 1911.8L1459.7 1783.0M1391.8 1746.2L1324.0 1709.4M1702.4 1910.2L1329.0 1707.8M1707.5 1908.6L1334.1 1706.2M1712.5 1907.0L1373.1 1723.0M1717.5 1905.4L1378.2 1721.4M1722.6 1903.9L1519.0 1793.4M1451.2 1756.6L1349.4 1701.4M1727.6 1902.3L1524.1 1791.8M1456.2 1755.0L1354.5 1699.8M1732.7 1900.7L1359.5 1698.2M1737.7 1899.1L1364.6 1696.6M1742.7 1897.5L1369.7 1695.0M1747.8 1895.9L1374.8 1693.4M1752.8 1894.3L1379.9 1691.8M1757.8 1892.7L1385.0 1690.2M1762.9 1891.1L1390.1 1688.6M1767.9 1889.6L1395.1 1687.0M1739.1 1869.6L1400.2 1685.4M1744.1 1868.0L1405.3 1683.8M1783.0 1884.8L1410.4 1682.2M1788.1 1883.2L1415.5 1680.6M1793.1 1881.6L1420.6 1679.0M1798.2 1880.0L1425.7 1677.4M1803.2 1878.4L1701.6 1823.2M1633.9 1786.3L1430.7 1675.8M1808.2 1876.8L1706.7 1821.6M1639.0 1784.8L1435.8 1674.2M1813.3 1875.3L1440.9 1672.6M1818.3 1873.7L1446.0 1671.0M1823.4 1872.1L1688.0 1798.4M1518.8 1706.3L1451.1 1669.4M1828.4 1870.5L1693.0 1796.8M1523.9 1704.7L1456.2 1667.8M1833.4 1868.9L1461.3 1666.2M1838.5 1867.3L1466.3 1664.6M1843.5 1865.7L1471.4 1663.0M1848.6 1864.1L1476.5 1661.4M1853.6 1862.5L1684.5 1770.4M1616.9 1733.6L1481.6 1659.8M1858.6 1861.0L1689.6 1768.8M1621.9 1732.0L1486.7 1658.3M1863.7 1859.4L1491.8 1656.7M1868.7 1857.8L1496.9 1655.1M1873.8 1856.2L1501.9 1653.5M1878.8 1854.6L1507.0 1651.9M1883.8 1853.0L1512.1 1650.3M1888.9 1851.4L1517.2 1648.7M1893.9 1849.8L1522.3 1647.1M1899.0 1848.3L1527.4 1645.5M1904.0 1846.7L1532.5 1643.9M1909.0 1845.1L1537.5 1642.3M1914.1 1843.5L1542.6 1640.7M1919.1 1841.9L1547.7 1639.1M1924.2 1840.3L1890.4 1821.9M1822.9 1785.0L1552.8 1637.5M1929.2 1838.7L1895.4 1820.3M1827.9 1783.4L1557.9 1635.9M1934.2 1837.1L1563.0 1634.3M1939.3 1835.5L1568.1 1632.7M1944.3 1834.0L1573.1 1631.1M1949.4 1832.4L1578.2 1629.5M1954.4 1830.8L1583.3 1627.9M1959.4 1829.2L1588.4 1626.3M1964.5 1827.6L1829.6 1753.8M1728.4 1698.5L1593.5 1624.7M1969.5 1826.0L1834.6 1752.2M1733.5 1696.9L1598.6 1623.1M1974.5 1824.4L1603.7 1621.5M1979.6 1822.8L1608.7 1619.9M1950.9 1802.8L1613.8 1618.3M1956.0 1801.2L1618.9 1616.7M1994.7 1818.1L1624.0 1615.1M1999.7 1816.5L1629.1 1613.5M2004.8 1814.9L1634.2 1611.9M2009.8 1813.3L1639.2 1610.3M2014.9 1811.7L1644.3 1608.7M2019.9 1810.1L1649.4 1607.1M2024.9 1808.5L1654.5 1605.5M2030.0 1807.0L1659.6 1603.9M2035.0 1805.4L1664.7 1602.3M2040.1 1803.8L1669.8 1600.7M2045.1 1802.2L1674.8 1599.1M2050.1 1800.6L1679.9 1597.5M1987.9 1762.1L1685.0 1595.9M1992.9 1760.5L1690.1 1594.3M2065.3 1795.8L1695.2 1592.7M2070.3 1794.2L1700.3 1591.1M2075.3 1792.7L1705.4 1589.5M2080.4 1791.1L1710.4 1587.9M2085.4 1789.5L1715.5 1586.3M2090.5 1787.9L1720.6 1584.7M2095.5 1786.3L1725.7 1583.1M1611.7 1938.8L1767.9 1889.6M1783.0 1884.8L1979.6 1822.8M1994.7 1818.1L2095.5 1786.3M1577.7 1920.4L2016.5 1782.1M2031.6 1777.4L2061.9 1767.8M1543.7 1902.0L1851.6 1805.0M1866.7 1800.2L2028.3 1749.4M1509.6 1883.7L1994.6 1730.9M1475.6 1865.3L1662.7 1806.4M1677.9 1801.6L1961.0 1712.4M1441.6 1846.9L1649.1 1781.6M1664.3 1776.8L1790.8 1737.0M1806.0 1732.2L1927.4 1693.9M1407.6 1828.5L1645.6 1753.6M1660.8 1748.8L1757.0 1718.5M1772.2 1713.7L1893.8 1675.5M1373.6 1810.1L1480.0 1776.6M1495.2 1771.8L1581.4 1744.7M1596.6 1739.9L1860.2 1657.0M1339.6 1791.7L1415.6 1767.8M1430.9 1763.0L1547.5 1726.3M1562.8 1721.5L1826.6 1638.5M1305.5 1773.4L1310.6 1771.8M1325.8 1767.0L1792.9 1620.0M1271.5 1755.0L1759.3 1601.6M1237.5 1736.6L1334.1 1706.2M1349.4 1701.4L1725.7 1583.1" fill="none" stroke="#5743b4"/>
<path d="M1378.2 1721.4L1383.3 1719.8L1349.4 1701.4L1344.3 1695.7Z" stroke="#5743b4"/>
<path d="M1373.1 1723.0L1378.2 1721.4L1344.3 1695.7L1339.2 1697.3Z" stroke="#5743b4"/>
<path d="M1368.1 1724.6L1373.1 1723.0L1339.2 1697.3L1334.1 1706.2Z" stroke="#5743b4"/>
<path d="M1320.8 1761.9L1325.8 1767.0L1291.8 1748.6L1286.8 1750.2Z" stroke="#5743b4"/>
<path d="M1315.7 1763.5L1320.8 1761.9L1286.8 1750.2L1281.7 1751.8Z" stroke="#5743b4"/>
<path d="M1310.6 1771.8L1315.7 1763.5L1281.7 1751.8L1276.6 1753.4Z" stroke="#5743b4"/>
<path d="M1557.7 1653.2L1562.8 1721.5L1528.9 1703.1L1523.9 1704.7Z" stroke="#5d77fd"/>
<path d="M1562.8 1721.5L1528.9 1703.1" stroke="#5743b4" stroke-width="2.1"/>
<path d="M1523.9 1704.7L1528.9 1703.1" stroke="#5743b4" stroke-width="2.1"/>
<path d="M1552.6 1654.8L1557.7 1653.2L1523.9 1704.7L1518.8 1706.3Z" stroke="#5d77fd"/>
<path d="M1518.8 1706.3L1523.9 1704.7" stroke="#5743b4" stroke-width="2.1"/>
<path d="M1547.5 1726.3L1552.6 1654.8L1518.8 1706.3L1513.7 1707.9Z" stroke="#5743b4"/>
<path d="M1552.6 1654.8L1518.8 1706.3" stroke="#5d77fd" stroke-width="2.1"/>
<path d="M1425.8 1755.8L1430.9 1763.0L1396.9 1744.6L1391.8 1746.2Z" stroke="#5743b4"/>
<path d="M1420.7 1757.4L1425.8 1755.8L1391.8 1746.2L1386.8 1747.8Z" stroke="#5743b4"/>
<path d="M1415.6 1767.8L1420.7 1757.4L1386.8 1747.8L1381.7 1749.4Z" stroke="#5743b4"/>
<path d="M1354.8 1787.0L1359.8 1785.4L1325.8 1767.0L1320.8 1761.9Z" stroke="#5743b4"/>
<path d="M1349.7 1788.6L1354.8 1787.0L1320.8 1761.9L1315.7 1763.5Z" stroke="#5743b4"/>
<path d="M1344.6 1790.1L1349.7 1788.6L1315.7 1763.5L1310.6 1771.8Z" stroke="#5743b4"/>
<path d="M1591.5 1612.7L1596.6 1739.9L1562.8 1721.5L1557.7 1653.2Z" stroke="#47a0f1"/>
<path d="M1596.6 1739.9L1562.8 1721.5" stroke="#5743b4" stroke-width="2.1"/>
<path d="M1557.7 1653.2L1562.8 1721.5" stroke="#5d77fd" stroke-width="2.1"/>
<path d="M1586.5 1614.3L1591.5 1612.7L1557.7 1653.2L1552.6 1654.8Z" stroke="#47a0f1"/>
<path d="M1552.6 1654.8L1557.7 1653.2" stroke="#5d77fd" stroke-width="2.1"/>
<path d="M1581.4 1744.7L1586.5 1614.3L1552.6 1654.8L1547.5 1726.3Z" stroke="#5743b4"/>
<path d="M1586.5 1614.3L1552.6 1654.8" stroke="#47a0f1" stroke-width="2.1"/>
<path d="M1490.2 1764.6L1495.2 1771.8L1461.3 1753.4L1456.2 1755.0Z" stroke="#5743b4"/>
<path d="M1485.1 1766.2L1490.2 1764.6L1456.2 1755.0L1451.2 1756.6Z" stroke="#5743b4"/>
<path d="M1480.0 1776.6L1485.1 1766.2L1451.2 1756.6L1446.1 1758.2Z" stroke="#5743b4"/>
<path d="M1459.7 1783.0L1464.8 1781.4L1430.9 1763.0L1425.8 1755.8Z" stroke="#5743b4"/>
<path d="M1454.7 1784.6L1459.7 1783.0L1425.8 1755.8L1420.7 1757.4Z" stroke="#5743b4"/>
<path d="M1449.6 1786.2L1454.7 1784.6L1420.7 1757.4L1415.6 1767.8Z" stroke="#5743b4"/>
<path d="M1767.2 1557.1L1772.2 1713.7L1738.5 1695.3L1733.5 1696.9Z" stroke="#3db0e6"/>
<path d="M1772.2 1713.7L1738.5 1695.3" stroke="#5743b4" stroke-width="2.1"/>
<path d="M1733.5 1696.9L1738.5 1695.3" stroke="#5743b4" stroke-width="2.1"/>
<path d="M1762.1 1558.7L1767.2 1557.1L1733.5 1696.9L1728.4 1698.5Z" stroke="#3db0e6"/>
<path d="M1728.4 1698.5L1733.5 1696.9" stroke="#5743b4" stroke-width="2.1"/>
<path d="M1767.2 1557.1L1733.5 1696.9" stroke="#fff" stroke-width="2.9"/>
<path d="M1757.0 1718.5L1762.1 1558.7L1728.4 1698.5L1723.3 1700.1Z" stroke="#5743b4"/>
<path d="M1762.1 1558.7L1728.4 1698.5" stroke="#3db0e6" stroke-width="2.1"/>
<path d="M1762.1 1558.7L1728.4 1698.5" stroke="#fff" stroke-width="2.9"/>
<path d="M1655.8 1695.2L1660.8 1748.8L1627.0 1730.4L1621.9 1732.0Z" stroke="#6064f2"/>
<path d="M1660.8 1748.8L1627.0 1730.4" stroke="#5743b4" stroke-width="2.1"/>
<path d="M1621.9 1732.0L1627.0 1730.4" stroke="#5743b4" stroke-width="2.1"/>
<path d="M1650.7 1696.8L1655.8 1695.2L1621.9 1732.0L1616.9 1733.6Z" stroke="#6064f2"/>
<path d="M1616.9 1733.6L1621.9 1732.0" stroke="#5743b4" stroke-width="2.1"/>
<path d="M1645.6 1753.6L1650.7 1696.8L1616.9 1733.6L1611.8 1735.2Z" stroke="#5743b4"/>
<path d="M1650.7 1696.8L1616.9 1733.6" stroke="#6064f2" stroke-width="2.1"/>
<path d="M1625.4 1760.0L1630.4 1758.4L1596.6 1739.9L1591.5 1612.7Z" stroke="#5743b4"/>
<path d="M1591.5 1612.7L1596.6 1739.9" stroke="#47a0f1" stroke-width="2.1"/>
<path d="M1620.3 1761.6L1625.4 1760.0L1591.5 1612.7L1586.5 1614.3Z" stroke="#5743b4"/>
<path d="M1586.5 1614.3L1591.5 1612.7" stroke="#47a0f1" stroke-width="2.1"/>
<path d="M1615.2 1763.1L1620.3 1761.6L1586.5 1614.3L1581.4 1744.7Z" stroke="#5743b4"/>
<path d="M1524.1 1791.8L1529.1 1790.2L1495.2 1771.8L1490.2 1764.6Z" stroke="#5743b4"/>
<path d="M1519.0 1793.4L1524.1 1791.8L1490.2 1764.6L1485.1 1766.2Z" stroke="#5743b4"/>
<path d="M1513.9 1795.0L1519.0 1793.4L1485.1 1766.2L1480.0 1776.6Z" stroke="#5743b4"/>
<path d="M1800.9 1293.6L1806.0 1732.2L1772.2 1713.7L1767.2 1557.1Z" stroke="#fafb33"/>
<path d="M1806.0 1732.2L1772.2 1713.7" stroke="#5743b4" stroke-width="2.1"/>
<path d="M1767.2 1557.1L1772.2 1713.7" stroke="#3db0e6" stroke-width="2.1"/>
<path d="M1795.8 1295.2L1800.9 1293.6L1767.2 1557.1L1762.1 1558.7Z" stroke="#fafb33"/>
<path d="M1762.1 1558.7L1767.2 1557.1" stroke="#3db0e6" stroke-width="2.1"/>
<path d="M1790.8 1737.0L1795.8 1295.2L1762.1 1558.7L1757.0 1718.5Z" stroke="#5743b4"/>
<path d="M1795.8 1295.2L1762.1 1558.7" stroke="#fafb33" stroke-width="2.1"/>
<path d="M1689.6 1768.8L1694.6 1767.2L1660.8 1748.8L1655.8 1695.2Z" stroke="#5743b4"/>
<path d="M1655.8 1695.2L1660.8 1748.8" stroke="#6064f2" stroke-width="2.1"/>
<path d="M1684.5 1770.4L1689.6 1768.8L1655.8 1695.2L1650.7 1696.8Z" stroke="#5743b4"/>
<path d="M1650.7 1696.8L1655.8 1695.2" stroke="#6064f2" stroke-width="2.1"/>
<path d="M1679.4 1772.0L1684.5 1770.4L1650.7 1696.8L1645.6 1753.6Z" stroke="#5743b4"/>
<path d="M1659.2 1390.9L1664.3 1776.8L1630.4 1758.4L1625.4 1760.0Z" stroke="#fdd64b"/>
<path d="M1664.3 1776.8L1630.4 1758.4" stroke="#5743b4" stroke-width="2.1"/>
<path d="M1625.4 1760.0L1630.4 1758.4" stroke="#5743b4" stroke-width="2.1"/>
<path d="M1654.1 1392.5L1659.2 1390.9L1625.4 1760.0L1620.3 1761.6Z" stroke="#fdd64b"/>
<path d="M1620.3 1761.6L1625.4 1760.0" stroke="#5743b4" stroke-width="2.1"/>
<path d="M1659.2 1390.9L1625.4 1760.0" stroke="#fff" stroke-width="2.9"/>
<path d="M1649.1 1781.6L1654.1 1392.5L1620.3 1761.6L1615.2 1763.1Z" stroke="#5743b4"/>
<path d="M1654.1 1392.5L1620.3 1761.6" stroke="#fdd64b" stroke-width="2.1"/>
<path d="M1654.1 1392.5L1620.3 1761.6" stroke="#fff" stroke-width="2.9"/>
<path d="M1834.6 1752.2L1839.7 1750.6L1806.0 1732.2L1800.9 1293.6Z" stroke="#5743b4"/>
<path d="M1800.9 1293.6L1806.0 1732.2" stroke="#fafb33" stroke-width="2.1"/>
<path d="M1829.6 1753.8L1834.6 1752.2L1800.9 1293.6L1795.8 1295.2Z" stroke="#5743b4"/>
<path d="M1795.8 1295.2L1800.9 1293.6" stroke="#fafb33" stroke-width="2.1"/>
<path d="M1824.5 1755.4L1829.6 1753.8L1795.8 1295.2L1790.8 1737.0Z" stroke="#5743b4"/>
<path d="M1693.0 1796.8L1698.1 1795.2L1664.3 1776.8L1659.2 1390.9Z" stroke="#5743b4"/>
<path d="M1659.2 1390.9L1664.3 1776.8" stroke="#fdd64b" stroke-width="2.1"/>
<path d="M1688.0 1798.4L1693.0 1796.8L1659.2 1390.9L1654.1 1392.5Z" stroke="#5743b4"/>
<path d="M1654.1 1392.5L1659.2 1390.9" stroke="#fdd64b" stroke-width="2.1"/>
<path d="M1682.9 1800.0L1688.0 1798.4L1654.1 1392.5L1649.1 1781.6Z" stroke="#5743b4"/>
<path d="M1672.8 1794.3L1677.9 1801.6L1644.0 1783.2L1639.0 1784.8Z" stroke="#5743b4"/>
<path d="M1667.8 1795.9L1672.8 1794.3L1639.0 1784.8L1633.9 1786.3Z" stroke="#5743b4"/>
<path d="M1662.7 1806.4L1667.8 1795.9L1633.9 1786.3L1628.8 1787.9Z" stroke="#5743b4"/>
<path d="M1706.7 1821.6L1711.7 1820.0L1677.9 1801.6L1672.8 1794.3Z" stroke="#5743b4"/>
<path d="M1701.6 1823.2L1706.7 1821.6L1672.8 1794.3L1667.8 1795.9Z" stroke="#5743b4"/>
<path d="M1696.6 1824.8L1701.6 1823.2L1667.8 1795.9L1662.7 1806.4Z" stroke="#5743b4"/>
<path d="M1861.7 1794.5L1866.7 1800.2L1833.0 1781.8L1827.9 1783.4Z" stroke="#5743b4"/>
<path d="M1856.6 1796.1L1861.7 1794.5L1827.9 1783.4L1822.9 1785.0Z" stroke="#5743b4"/>
<path d="M1851.6 1805.0L1856.6 1796.1L1822.9 1785.0L1817.8 1786.6Z" stroke="#5743b4"/>
<path d="M2026.6 1770.1L2031.6 1777.4L1998.0 1758.9L1992.9 1760.5Z" stroke="#5743b4"/>
<path d="M2021.5 1771.7L2026.6 1770.1L1992.9 1760.5L1987.9 1762.1Z" stroke="#5743b4"/>
<path d="M2016.5 1782.1L2021.5 1771.7L1987.9 1762.1L1982.8 1763.7Z" stroke="#5743b4"/>
<path d="M1895.4 1820.3L1900.5 1818.7L1866.7 1800.2L1861.7 1794.5Z" stroke="#5743b4"/>
<path d="M1890.4 1821.9L1895.4 1820.3L1861.7 1794.5L1856.6 1796.1Z" stroke="#5743b4"/>
<path d="M1885.4 1823.5L1890.4 1821.9L1856.6 1796.1L1851.6 1805.0Z" stroke="#5743b4"/>
<path d="M2060.2 1797.4L2065.3 1795.8L2031.6 1777.4L2026.6 1770.1Z" stroke="#5743b4"/>
<path d="M2055.2 1799.0L2060.2 1797.4L2026.6 1770.1L2021.5 1771.7Z" stroke="#5743b4"/>
<path d="M2050.1 1800.6L2055.2 1799.0L2021.5 1771.7L2016.5 1782.1Z" stroke="#5743b4"/>
<path d="M1989.7 1812.3L1994.7 1818.1L1961.0 1799.6L1956.0 1801.2Z" stroke="#5743b4"/>
<path d="M1984.6 1813.9L1989.7 1812.3L1956.0 1801.2L1950.9 1802.8Z" stroke="#5743b4"/>
<path d="M1979.6 1822.8L1984.6 1813.9L1950.9 1802.8L1945.9 1804.4Z" stroke="#5743b4"/>
<path d="M1778.0 1879.8L1783.0 1884.8L1749.2 1866.4L1744.1 1868.0Z" stroke="#5743b4"/>
<path d="M1773.0 1881.3L1778.0 1879.8L1744.1 1868.0L1739.1 1869.6Z" stroke="#5743b4"/>
<path d="M1767.9 1889.6L1773.0 1881.3L1739.1 1869.6L1734.0 1871.1Z" stroke="#5743b4"/></g>
<path d="M1237.5 1295.0L1237.5 1736.6" fill="none" stroke="#8c8c8c" stroke-width="4.2"/>
<path d="M1237.5 1736.6l-12.5 -5.8M1237.5 1552.6l-12.5 -5.8M1237.5 1368.6l-12.5 -5.8M1248.8 1742.7l-12.4 3.9M1430.3 1840.8l-12.4 3.9M1611.7 1938.8l-12.4 3.9M1611.7 1938.8l11.4 6.2M1737.7 1899.1l11.4 6.2M1863.7 1859.4l11.4 6.2M1989.7 1819.7l11.4 6.2" fill="none" stroke="#666" stroke-width="2"/>
<text transform="translate(1211.0 1361.0) scale(0.9 1)" text-anchor="end" class="tk" font-size="32">1</text>
<text transform="translate(1211.0 1546.0) scale(0.9 1)" text-anchor="end" class="tk" font-size="32">0.5</text>
<text transform="translate(1210.0 1729.6) scale(0.9 1)" text-anchor="end" class="tk" font-size="32">0</text>
<text transform="translate(1206.3 1783.5) scale(0.9 1)" text-anchor="middle" class="tk" font-size="32">13</text>
<text transform="translate(1387.7 1882.0) scale(0.9 1)" text-anchor="middle" class="tk" font-size="32">12</text>
<text transform="translate(1568.2 1978.4) scale(0.9 1)" text-anchor="middle" class="tk" font-size="32">11</text>
<text transform="translate(1644.2 1984.3) scale(0.9 1)" text-anchor="middle" class="tk" font-size="32">0</text>
<text transform="translate(1770.9 1944.4) scale(0.9 1)" text-anchor="middle" class="tk" font-size="32">1</text>
<text transform="translate(1898.1 1904.8) scale(0.9 1)" text-anchor="middle" class="tk" font-size="32">2</text>
<text transform="translate(2023.9 1864.3) scale(0.9 1)" text-anchor="middle" class="tk" font-size="32">3</text>
<text x="1211.3" y="1936.2" font-size="55" textLength="229.0" lengthAdjust="spacingAndGlyphs" class="sf">range [m]</text>
<text x="1723.2" y="1978.6" font-size="56" textLength="368.7" lengthAdjust="spacingAndGlyphs" class="sf">cross-range [m]</text>
<text x="799.4" y="997" font-size="75" textLength="527" lengthAdjust="spacingAndGlyphs" class="sf" style="fill:#000">(<tspan font-weight="bold">a</tspan>) RDA (no CS)</text>
<text x="624" y="2106.5" font-size="75" textLength="867.5" lengthAdjust="spacingAndGlyphs" class="sf" style="fill:#000">(<tspan font-weight="bold">b</tspan>) Recovered with CC-CS</text>
</svg></body></html>
